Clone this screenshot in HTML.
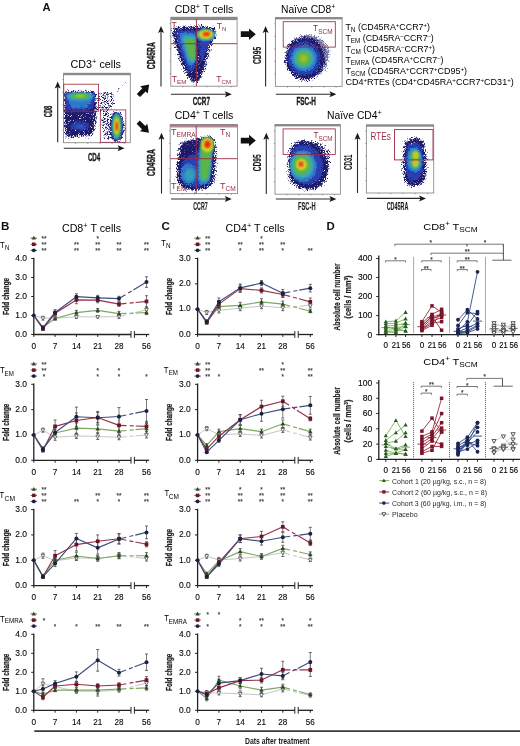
<!DOCTYPE html>
<html><head><meta charset="utf-8"><style>
html,body{margin:0;padding:0;background:#fff;}
svg{display:block;font-family:"Liberation Sans", sans-serif;will-change:transform;}
</style></head><body>
<svg width="520" height="746" viewBox="0 0 520 746">
<defs>
<filter id="b1" x="-20%" y="-20%" width="140%" height="140%"><feGaussianBlur stdDeviation="1"/></filter>
<filter id="b2" x="-30%" y="-30%" width="160%" height="160%"><feGaussianBlur stdDeviation="2"/></filter>
<filter id="b15" x="-30%" y="-30%" width="160%" height="160%"><feGaussianBlur stdDeviation="1.5"/></filter>
<filter id="b3" x="-30%" y="-30%" width="160%" height="160%"><feGaussianBlur stdDeviation="3"/></filter>
<filter id="gr0" x="-25%" y="-25%" width="150%" height="150%" color-interpolation-filters="sRGB">
  <feGaussianBlur in="SourceAlpha" stdDeviation="2.2" result="ba"/>
  <feTurbulence type="fractalNoise" baseFrequency="1.3" numOctaves="2" seed="3" result="tn"/>
  <feColorMatrix in="tn" type="matrix" values="0 0 0 0 0  0 0 0 0 0  0 0 0 0 0  1.6 0 0 0 -0.3" result="na"/>
  <feComposite in="ba" in2="na" operator="arithmetic" k1="0" k2="3.5" k3="-3.5" k4="0" result="m"/>
  <feMorphology in="SourceGraphic" operator="dilate" radius="3" result="dg"/>
  <feComposite in="dg" in2="m" operator="in"/>
</filter>
<filter id="gr1" x="-25%" y="-25%" width="150%" height="150%" color-interpolation-filters="sRGB">
  <feGaussianBlur in="SourceAlpha" stdDeviation="1.6" result="ba"/>
  <feTurbulence type="fractalNoise" baseFrequency="1.3" numOctaves="2" seed="7" result="tn"/>
  <feColorMatrix in="tn" type="matrix" values="0 0 0 0 0  0 0 0 0 0  0 0 0 0 0  1.6 0 0 0 -0.3" result="na"/>
  <feComposite in="ba" in2="na" operator="arithmetic" k1="0" k2="4" k3="-4" k4="0" result="m"/>
  <feMorphology in="SourceGraphic" operator="dilate" radius="2" result="dg"/>
  <feComposite in="dg" in2="m" operator="in"/>
</filter>
<filter id="gr2" x="-25%" y="-25%" width="150%" height="150%" color-interpolation-filters="sRGB">
  <feGaussianBlur in="SourceAlpha" stdDeviation="1.2" result="ba"/>
  <feTurbulence type="fractalNoise" baseFrequency="1.3" numOctaves="2" seed="11" result="tn"/>
  <feColorMatrix in="tn" type="matrix" values="0 0 0 0 0  0 0 0 0 0  0 0 0 0 0  1.6 0 0 0 -0.3" result="na"/>
  <feComposite in="ba" in2="na" operator="arithmetic" k1="0" k2="4.5" k3="-4.5" k4="0" result="m"/>
  <feMorphology in="SourceGraphic" operator="dilate" radius="1.5" result="dg"/>
  <feComposite in="dg" in2="m" operator="in"/>
</filter>
<filter id="gr3" x="-25%" y="-25%" width="150%" height="150%" color-interpolation-filters="sRGB">
  <feGaussianBlur in="SourceAlpha" stdDeviation="2.8" result="ba"/>
  <feTurbulence type="fractalNoise" baseFrequency="1.3" numOctaves="2" seed="19" result="tn"/>
  <feColorMatrix in="tn" type="matrix" values="0 0 0 0 0  0 0 0 0 0  0 0 0 0 0  1.6 0 0 0 -0.3" result="na"/>
  <feComposite in="ba" in2="na" operator="arithmetic" k1="0" k2="3.0" k3="-3.0" k4="0" result="m"/>
  <feMorphology in="SourceGraphic" operator="dilate" radius="4" result="dg"/>
  <feComposite in="dg" in2="m" operator="in"/>
</filter>
<filter id="gr4" x="-25%" y="-25%" width="150%" height="150%" color-interpolation-filters="sRGB">
  <feGaussianBlur in="SourceAlpha" stdDeviation="1.0" result="ba"/>
  <feTurbulence type="fractalNoise" baseFrequency="1.3" numOctaves="2" seed="23" result="tn"/>
  <feColorMatrix in="tn" type="matrix" values="0 0 0 0 0  0 0 0 0 0  0 0 0 0 0  1.6 0 0 0 -0.3" result="na"/>
  <feComposite in="ba" in2="na" operator="arithmetic" k1="0" k2="5" k3="-5" k4="0" result="m"/>
  <feMorphology in="SourceGraphic" operator="dilate" radius="1" result="dg"/>
  <feComposite in="dg" in2="m" operator="in"/>
</filter>
<filter id="gr5" x="-25%" y="-25%" width="150%" height="150%" color-interpolation-filters="sRGB">
  <feGaussianBlur in="SourceAlpha" stdDeviation="1.2" result="ba"/>
  <feTurbulence type="fractalNoise" baseFrequency="1.3" numOctaves="2" seed="29" result="tn"/>
  <feColorMatrix in="tn" type="matrix" values="0 0 0 0 0  0 0 0 0 0  0 0 0 0 0  1.6 0 0 0 -0.3" result="na"/>
  <feComposite in="ba" in2="na" operator="arithmetic" k1="0" k2="2.4" k3="-4.2" k4="0" result="m"/>
  <feMorphology in="SourceGraphic" operator="dilate" radius="2" result="dg"/>
  <feComposite in="dg" in2="m" operator="in"/>
</filter>
<filter id="gr6" x="-25%" y="-25%" width="150%" height="150%" color-interpolation-filters="sRGB">
  <feGaussianBlur in="SourceAlpha" stdDeviation="1.8" result="ba"/>
  <feTurbulence type="fractalNoise" baseFrequency="1.3" numOctaves="2" seed="31" result="tn"/>
  <feColorMatrix in="tn" type="matrix" values="0 0 0 0 0  0 0 0 0 0  0 0 0 0 0  1.6 0 0 0 -0.3" result="na"/>
  <feComposite in="ba" in2="na" operator="arithmetic" k1="0" k2="2.0" k3="-4.0" k4="0" result="m"/>
  <feMorphology in="SourceGraphic" operator="dilate" radius="2.5" result="dg"/>
  <feComposite in="dg" in2="m" operator="in"/>
</filter>
</defs>
<rect width="520" height="746" fill="#fff"/>
<text x="42.4" y="11.4" font-size="11.2" font-weight="bold" fill="#111" >A</text>
<text x="70.6" y="67.7" font-size="10.4" textLength="50.3" lengthAdjust="spacingAndGlyphs" >CD3<tspan baseline-shift="3.6" font-size="70%">+</tspan> cells</text>
<clipPath id="c3"><rect x="63.5" y="75.5" width="66.80000000000001" height="67.0"/></clipPath>
<g clip-path="url(#c3)">
<path d="M63.5,90.8 L96,90.8 C97,95 97.5,105 97,115 C96.5,125 95,132 92,136.5 L64,137.5 Z" fill="#1d1a6c" filter="url(#gr0)"/>
<path d="M97,93 C103,90 111,90.5 115,95 C117,101 114,109 107,113 L98,113 Z" fill="#1d1a6c" filter="url(#gr5)"/>
<path d="M112,94 L126,80 L128,82 L116,97 Z" fill="#1d1a6c" filter="url(#gr6)"/>
<path d="M101,112 C104,110 109,110 110,113 L110,140 L104,141 C102,133 101,120 101,112 Z" fill="#1d1a6c" filter="url(#gr5)"/>
<path d="M64,92.5 L95.5,92.5 C96,100 94,107 90,111 L66,111 C64.5,106 64,99 64,92.5 Z" fill="#2a3fb0" filter="url(#gr1)"/>
<path d="M66,93 L94,93 C93,99 90,105 86,108.5 L72,108.5 C69,105 66.5,99 66,93 Z" fill="#2f78cc" filter="url(#gr2)"/>
<ellipse cx="80" cy="96.6" rx="13.5" ry="4.2" fill="#38a8b8" filter="url(#b1)"/>
<ellipse cx="80.2" cy="96.1" rx="9.2" ry="2.7" fill="#5cb545" filter="url(#b1)"/>
<ellipse cx="80.2" cy="95.9" rx="4.5" ry="1.3" fill="#a6d21e" filter="url(#b1)" opacity="0.9"/>
<path d="M64,110.5 L96,110.5 L96,113.5 L64,113.5 Z" fill="#3d2a7c" filter="url(#b1)" opacity="0.55"/>
<ellipse cx="80" cy="126" rx="10" ry="5" fill="#2a3fb0" filter="url(#gr4)" opacity="0.9"/>
<ellipse cx="80" cy="126.5" rx="5" ry="2" fill="#3a6ad0" filter="url(#b1)" opacity="0.5"/>
<ellipse cx="116.5" cy="126.8" rx="8.2" ry="16" fill="#1d1a6c" filter="url(#gr0)"/>
<ellipse cx="116.7" cy="126.5" rx="6.4" ry="14.6" fill="#2a3fb0" filter="url(#gr1)"/>
<ellipse cx="116.7" cy="126.4" rx="4.7" ry="13.2" fill="#38a8b8" filter="url(#b1)"/>
<ellipse cx="116.7" cy="126.3" rx="3.7" ry="11" fill="#5cb545" filter="url(#b1)"/>
<ellipse cx="116.7" cy="126.3" rx="2.6" ry="8.2" fill="#e0dc28" filter="url(#b1)"/>
<ellipse cx="116.7" cy="126.3" rx="1.6" ry="5.8" fill="#f08a1c" filter="url(#b1)"/>
<ellipse cx="116.7" cy="126.3" rx="1.0" ry="4.2" fill="#d42a12" filter="url(#b1)" opacity="0.9"/>
</g>
<rect x="63.5" y="73.9" width="66.80000000000001" height="68.79999999999998" fill="none" stroke="#8c8c8c" stroke-width="0.9" />
<rect x="63.2" y="72.80000000000001" width="67.4" height="2.4" fill="#8a8a8a" stroke="none" stroke-width="1" />
<line x1="62.3" y1="130.1" x2="63.5" y2="130.1" stroke="#666" stroke-width="0.6" />
<line x1="62.3" y1="117.5" x2="63.5" y2="117.5" stroke="#666" stroke-width="0.6" />
<line x1="62.3" y1="104.9" x2="63.5" y2="104.9" stroke="#666" stroke-width="0.6" />
<line x1="62.3" y1="92.30000000000001" x2="63.5" y2="92.30000000000001" stroke="#666" stroke-width="0.6" />
<line x1="62.3" y1="79.70000000000002" x2="63.5" y2="79.70000000000002" stroke="#666" stroke-width="0.6" />
<line x1="75.64545454545456" y1="142.7" x2="75.64545454545456" y2="143.89999999999998" stroke="#666" stroke-width="0.6" />
<line x1="87.7909090909091" y1="142.7" x2="87.7909090909091" y2="143.89999999999998" stroke="#666" stroke-width="0.6" />
<line x1="99.93636363636364" y1="142.7" x2="99.93636363636364" y2="143.89999999999998" stroke="#666" stroke-width="0.6" />
<line x1="112.08181818181819" y1="142.7" x2="112.08181818181819" y2="143.89999999999998" stroke="#666" stroke-width="0.6" />
<line x1="124.22727272727275" y1="142.7" x2="124.22727272727275" y2="143.89999999999998" stroke="#666" stroke-width="0.6" />
<rect x="63.8" y="84.2" width="34.8" height="27.0" fill="none" stroke="#982c44" stroke-width="0.8" />
<rect x="100.3" y="109.9" width="25.5" height="32.4" fill="none" stroke="#982c44" stroke-width="0.8" />
<line x1="57.7" y1="142.2" x2="57.7" y2="86.5" stroke="#2a2a2a" stroke-width="1.1" />
<path d="M54.7,88.5 L57.7,81.5 L60.7,88.5 L57.7,87.0 Z" fill="#1a1a1a"/>
<line x1="63.8" y1="148.3" x2="119.6" y2="148.3" stroke="#2a2a2a" stroke-width="1.1" />
<path d="M117.6,145.3 L124.6,148.3 L117.6,151.3 L119.1,148.3 Z" fill="#1a1a1a"/>
<text transform="translate(51.9,117.3) rotate(-90)" font-size="10.4" font-weight="bold" fill="#1a1a1a" textLength="11.6" lengthAdjust="spacingAndGlyphs" stroke="#1a1a1a" stroke-width="0.35">CD8</text>
<text x="87.9" y="160.6" font-size="10.4" font-weight="bold" fill="#1a1a1a" textLength="12.4" lengthAdjust="spacingAndGlyphs" stroke="#1a1a1a" stroke-width="0.35">CD4</text>
<path d="M140.0,97.1 L145.6,91.5 L147.7,93.6 L149.2,84.6 L140.2,86.2 L142.3,88.3 L136.8,93.9 Z" fill="#111"/>
<path d="M136.6,123.8 L142.0,129.2 L140.0,131.3 L149.0,132.8 L147.3,123.8 L145.3,125.9 L139.8,120.6 Z" fill="#111"/>
<path d="M240.8,37.1 L249.0,37.1 L249.0,40.0 L255.8,34.2 L249.0,28.5 L249.0,31.3 L240.8,31.3 Z" fill="#111"/>
<path d="M240.8,143.5 L249.0,143.5 L249.0,146.3 L255.8,140.6 L249.0,134.8 L249.0,137.7 L240.8,137.7 Z" fill="#111"/>
<text x="174.7" y="12.8" font-size="10.2" textLength="58.6" lengthAdjust="spacingAndGlyphs" >CD8<tspan baseline-shift="3.6" font-size="70%">+</tspan> T cells</text>
<clipPath id="c8"><rect x="170.8" y="19.2" width="66.29999999999998" height="66.89999999999999"/></clipPath>
<g clip-path="url(#c8)">
<path d="M172,27.5 C185,25.5 205,25 214.5,27.5 C217.5,30 217,35 215.5,38 C211,44 208.5,55 206,66 C203.5,75 200,82 196.5,84 C192,83 188,79 185,73 C180,63 176,52 173.5,42 C172.5,36 171.5,31 172,27.5 Z" fill="#1d1a6c" filter="url(#gr0)"/>
<path d="M175,30 C183,29 192,29 197,30 L198,55 C197,68 193,74 189,72 C185,65 180,52 177,42 Z" fill="#2a3fb0" filter="url(#gr1)"/>
<path d="M199,31 C206,29.5 212,31 213,35 C211,42 207,50 203,62 L199,62 Z" fill="#2a3fb0" filter="url(#gr1)"/>
<path d="M179,33 C185,32 193,32 196,34 L196,60 C194,67 190,68 187,63 C184,55 181,45 179.5,38 Z" fill="#2f78cc" filter="url(#gr2)"/>
<path d="M182.5,36 C187,35 193,35 195.5,36 L195.5,60 C193,64 190,64 188,59 C186,52 184,45 182.5,40 Z" fill="#38a8b8" filter="url(#b1)"/>
<path d="M185,39 C188,38.5 193,38.5 195,40 L195,57 C193,61 191,61 189.5,57 C187.5,51 186,45 185,42 Z" fill="#5cb545" filter="url(#b1)"/>
<ellipse cx="205.5" cy="35" rx="10.5" ry="6.5" fill="#2f78cc" filter="url(#gr2)"/>
<ellipse cx="205.5" cy="34.8" rx="9" ry="5.5" fill="#38a8b8" filter="url(#b1)"/>
<ellipse cx="205.5" cy="34.6" rx="7.8" ry="4.6" fill="#5cb545" filter="url(#b1)"/>
<ellipse cx="205.8" cy="34.5" rx="6.8" ry="4.1" fill="#e0dc28" filter="url(#b1)"/>
<ellipse cx="206.2" cy="34.2" rx="4.6" ry="2.6" fill="#f08a1c" filter="url(#b1)"/>
<ellipse cx="206.5" cy="34" rx="3.0" ry="1.6" fill="#d42a12" filter="url(#b1)"/>
</g>
<rect x="170.8" y="17.9" width="66.29999999999998" height="68.30000000000001" fill="none" stroke="#8c8c8c" stroke-width="0.9" />
<rect x="170.5" y="16.799999999999997" width="66.89999999999998" height="2.4" fill="#8a8a8a" stroke="none" stroke-width="1" />
<line x1="169.60000000000002" y1="73.69090909090909" x2="170.8" y2="73.69090909090909" stroke="#666" stroke-width="0.6" />
<line x1="169.60000000000002" y1="61.18181818181818" x2="170.8" y2="61.18181818181818" stroke="#666" stroke-width="0.6" />
<line x1="169.60000000000002" y1="48.67272727272727" x2="170.8" y2="48.67272727272727" stroke="#666" stroke-width="0.6" />
<line x1="169.60000000000002" y1="36.16363636363636" x2="170.8" y2="36.16363636363636" stroke="#666" stroke-width="0.6" />
<line x1="169.60000000000002" y1="23.65454545454545" x2="170.8" y2="23.65454545454545" stroke="#666" stroke-width="0.6" />
<line x1="182.85454545454547" y1="86.2" x2="182.85454545454547" y2="87.4" stroke="#666" stroke-width="0.6" />
<line x1="194.9090909090909" y1="86.2" x2="194.9090909090909" y2="87.4" stroke="#666" stroke-width="0.6" />
<line x1="206.96363636363637" y1="86.2" x2="206.96363636363637" y2="87.4" stroke="#666" stroke-width="0.6" />
<line x1="219.0181818181818" y1="86.2" x2="219.0181818181818" y2="87.4" stroke="#666" stroke-width="0.6" />
<line x1="231.07272727272726" y1="86.2" x2="231.07272727272726" y2="87.4" stroke="#666" stroke-width="0.6" />
<line x1="171.3" y1="19.6" x2="236.6" y2="19.6" stroke="#982c44" stroke-width="0.7" />
<line x1="196.4" y1="19.2" x2="196.4" y2="86.1" stroke="#982c44" stroke-width="0.9" />
<line x1="170.8" y1="43.7" x2="237.1" y2="43.7" stroke="#982c44" stroke-width="0.9" />
<text x="171.4" y="28.4" font-size="8.6" fill="#982c44" >T</text>
<text x="216.8" y="28.6" font-size="8.6" fill="#982c44" >T<tspan font-size="6.2" baseline-shift="-1.7">N</tspan></text>
<text x="171.8" y="81.9" font-size="8.6" fill="#982c44" >T<tspan font-size="6.2" baseline-shift="-1.7">EM</tspan></text>
<text x="216.2" y="81.9" font-size="8.6" fill="#982c44" >T<tspan font-size="6.2" baseline-shift="-1.7">CM</tspan></text>
<line x1="161.0" y1="86.5" x2="161.0" y2="31.0" stroke="#2a2a2a" stroke-width="1.1" />
<path d="M158.0,33.0 L161.0,26.0 L164.0,33.0 L161.0,31.5 Z" fill="#1a1a1a"/>
<line x1="171.0" y1="94.3" x2="226.8" y2="94.3" stroke="#2a2a2a" stroke-width="1.1" />
<path d="M224.8,91.3 L231.8,94.3 L224.8,97.3 L226.3,94.3 Z" fill="#1a1a1a"/>
<text transform="translate(154.9,69.2) rotate(-90)" font-size="10.4" font-weight="bold" fill="#1a1a1a" textLength="27.0" lengthAdjust="spacingAndGlyphs" stroke="#1a1a1a" stroke-width="0.35">CD45RA</text>
<text x="192.7" y="105.1" font-size="10.4" font-weight="bold" fill="#1a1a1a" textLength="17.3" lengthAdjust="spacingAndGlyphs" stroke="#1a1a1a" stroke-width="0.35">CCR7</text>
<text x="281.0" y="12.6" font-size="10.2" textLength="54.4" lengthAdjust="spacingAndGlyphs" >Na&#239;ve CD8<tspan baseline-shift="3.6" font-size="70%">+</tspan></text>
<clipPath id="cn8"><rect x="275.4" y="19.2" width="66.70000000000005" height="67.0"/></clipPath>
<g clip-path="url(#cn8)">
<ellipse cx="308" cy="56" rx="22" ry="22" fill="#1d1a6c" filter="url(#gr3)" opacity="0.6"/>
<ellipse cx="305" cy="58.5" rx="20.5" ry="22.5" fill="#1d1a6c" filter="url(#gr0)"/>
<ellipse cx="304.3" cy="58.4" rx="16.5" ry="17.5" fill="#2a3fb0" filter="url(#gr1)"/>
<ellipse cx="304" cy="58.4" rx="13" ry="13.5" fill="#2f78cc" filter="url(#gr2)"/>
<ellipse cx="303.8" cy="58.4" rx="10.5" ry="10.5" fill="#38a8b8" filter="url(#b1)"/>
<ellipse cx="303.6" cy="58.5" rx="7.5" ry="7.5" fill="#5cb545" filter="url(#b1)"/>
<ellipse cx="303.5" cy="58.5" rx="4" ry="4" fill="#98c430" filter="url(#b15)" opacity="0.9"/>
<ellipse cx="303.5" cy="58.5" rx="1.6" ry="1.6" fill="#d0b020" filter="url(#b1)" opacity="0.6"/>
</g>
<rect x="275.4" y="18.1" width="66.70000000000005" height="68.30000000000001" fill="none" stroke="#8c8c8c" stroke-width="0.9" />
<rect x="275.09999999999997" y="17.0" width="67.30000000000004" height="2.4" fill="#8a8a8a" stroke="none" stroke-width="1" />
<line x1="274.2" y1="73.89090909090909" x2="275.4" y2="73.89090909090909" stroke="#666" stroke-width="0.6" />
<line x1="274.2" y1="61.38181818181818" x2="275.4" y2="61.38181818181818" stroke="#666" stroke-width="0.6" />
<line x1="274.2" y1="48.872727272727275" x2="275.4" y2="48.872727272727275" stroke="#666" stroke-width="0.6" />
<line x1="274.2" y1="36.36363636363636" x2="275.4" y2="36.36363636363636" stroke="#666" stroke-width="0.6" />
<line x1="274.2" y1="23.854545454545452" x2="275.4" y2="23.854545454545452" stroke="#666" stroke-width="0.6" />
<line x1="287.5272727272727" y1="86.4" x2="287.5272727272727" y2="87.60000000000001" stroke="#666" stroke-width="0.6" />
<line x1="299.6545454545454" y1="86.4" x2="299.6545454545454" y2="87.60000000000001" stroke="#666" stroke-width="0.6" />
<line x1="311.78181818181815" y1="86.4" x2="311.78181818181815" y2="87.60000000000001" stroke="#666" stroke-width="0.6" />
<line x1="323.90909090909093" y1="86.4" x2="323.90909090909093" y2="87.60000000000001" stroke="#666" stroke-width="0.6" />
<line x1="336.03636363636366" y1="86.4" x2="336.03636363636366" y2="87.60000000000001" stroke="#666" stroke-width="0.6" />
<rect x="283.2" y="21.7" width="52.1" height="25.4" fill="none" stroke="#982c44" stroke-width="0.85" />
<text x="313.1" y="31.4" font-size="9.0" fill="#982c44" textLength="5.0" lengthAdjust="spacingAndGlyphs" >T</text>
<text x="318.3" y="33.5" font-size="6.3" fill="#982c44" textLength="14.3" lengthAdjust="spacingAndGlyphs" >SCM</text>
<line x1="265.6" y1="86.5" x2="265.6" y2="31.0" stroke="#2a2a2a" stroke-width="1.1" />
<path d="M262.6,33.0 L265.6,26.0 L268.6,33.0 L265.6,31.5 Z" fill="#1a1a1a"/>
<line x1="275.8" y1="94.3" x2="331.4" y2="94.3" stroke="#2a2a2a" stroke-width="1.1" />
<path d="M329.4,91.3 L336.4,94.3 L329.4,97.3 L330.9,94.3 Z" fill="#1a1a1a"/>
<text transform="translate(261.0,64.0) rotate(-90)" font-size="10.4" font-weight="bold" fill="#1a1a1a" textLength="17.2" lengthAdjust="spacingAndGlyphs" stroke="#1a1a1a" stroke-width="0.15">CD95</text>
<text x="296.4" y="105.0" font-size="10.4" font-weight="bold" fill="#1a1a1a" textLength="19.6" lengthAdjust="spacingAndGlyphs" stroke="#1a1a1a" stroke-width="0.35">FSC-H</text>
<text x="345.4" y="29.9" font-size="8.8" textLength="84.6" lengthAdjust="spacingAndGlyphs" >T<tspan font-size="6.4" baseline-shift="-1.8">N</tspan> (CD45RA<tspan font-size="6" baseline-shift="3">+</tspan>CCR7<tspan font-size="6" baseline-shift="3">+</tspan>)</text>
<text x="345.4" y="40.9" font-size="8.8" textLength="88.4" lengthAdjust="spacingAndGlyphs" >T<tspan font-size="6.4" baseline-shift="-1.8">EM</tspan> (CD45RA<tspan font-size="6" baseline-shift="3">&#8211;</tspan>CCR7<tspan font-size="6" baseline-shift="3">&#8211;</tspan>)</text>
<text x="345.4" y="51.6" font-size="8.8" textLength="89.6" lengthAdjust="spacingAndGlyphs" >T<tspan font-size="6.4" baseline-shift="-1.8">CM</tspan> (CD45RA<tspan font-size="6" baseline-shift="3">&#8211;</tspan>CCR7<tspan font-size="6" baseline-shift="3">+</tspan>)</text>
<text x="345.4" y="62.8" font-size="8.8" textLength="98.1" lengthAdjust="spacingAndGlyphs" >T<tspan font-size="6.4" baseline-shift="-1.8">EMRA</tspan> (CD45RA<tspan font-size="6" baseline-shift="3">+</tspan>CCR7<tspan font-size="6" baseline-shift="3">&#8211;</tspan>)</text>
<text x="345.4" y="73.8" font-size="8.8" textLength="121.6" lengthAdjust="spacingAndGlyphs" >T<tspan font-size="6.4" baseline-shift="-1.8">SCM</tspan> (CD45RA<tspan font-size="6" baseline-shift="3">+</tspan>CCR7<tspan font-size="6" baseline-shift="3">+</tspan>CD95<tspan font-size="6" baseline-shift="3">+</tspan>)</text>
<text x="345.4" y="84.6" font-size="8.8" textLength="168.4" lengthAdjust="spacingAndGlyphs" >CD4<tspan font-size="6" baseline-shift="3">+</tspan>RTEs (CD4<tspan font-size="6" baseline-shift="3">+</tspan>CD45RA<tspan font-size="6" baseline-shift="3">+</tspan>CCR7<tspan font-size="6" baseline-shift="3">+</tspan>CD31<tspan font-size="6" baseline-shift="3">+</tspan>)</text>
<text x="174.7" y="119.3" font-size="10.2" textLength="58.6" lengthAdjust="spacingAndGlyphs" >CD4<tspan baseline-shift="3.6" font-size="70%">+</tspan> T cells</text>
<clipPath id="c4"><rect x="170.2" y="126.2" width="67.30000000000001" height="67.39999999999999"/></clipPath>
<g clip-path="url(#c4)">
<path d="M182,142 C190,139 199,138 203,136.5 C209,134.5 214.5,136 216,142 C217,150 216.5,163 215.5,175 C214.5,185 209,190.5 197,191 C186,191.5 178,188 176.5,180 C175.5,170 176.5,160 178,152 C179,147 180,144 182,142 Z" fill="#1d1a6c" filter="url(#gr0)"/>
<path d="M181,141 C186,139 192,139 196,140 L196,158 L180,160 Z" fill="#1d1a6c" filter="url(#gr3)" opacity="0.55"/>
<path d="M186,157 C191,154 199,152 201,146 C204,139.5 212,139.5 213.5,145 C214,153 213,166 212,176 C210.5,184 205,187.5 196,187.5 C187,187.5 181,184 180.5,176 C180,168 181,161 186,157 Z" fill="#2a3fb0" filter="url(#gr1)"/>
<ellipse cx="189" cy="174" rx="8.5" ry="11" fill="#2f78cc" filter="url(#gr2)"/>
<path d="M200,148 C202,141 212,141 212.5,148 C212.5,157 211.5,170 210,179 C208.5,186 200,187 198,181 C197,172 198,158 200,148 Z" fill="#2f78cc" filter="url(#gr2)"/>
<ellipse cx="189.5" cy="175" rx="5" ry="6.5" fill="#38a8b8" filter="url(#b1)" opacity="0.8"/>
<path d="M200.5,150 C202,144 211,144 211.5,150 C211.5,158 210.5,170 209,178 C207.5,183 201,183.5 199.5,179 C199,170 199.5,158 200.5,150 Z" fill="#38a8b8" filter="url(#b1)"/>
<path d="M201.5,151 C203,147 210,147 210.5,151 C210.5,159 209.5,170 208,177 C206.5,180.5 202,180.5 201,177 C200.5,169 200.8,159 201.5,151 Z" fill="#5cb545" filter="url(#b1)"/>
<ellipse cx="207" cy="145.5" rx="7" ry="8.5" fill="#5cb545" filter="url(#b1)"/>
<ellipse cx="207.2" cy="145" rx="5.6" ry="7" fill="#e0dc28" filter="url(#b1)"/>
<ellipse cx="207.4" cy="144.5" rx="3.8" ry="4.6" fill="#f08a1c" filter="url(#b1)"/>
<ellipse cx="207.5" cy="144.2" rx="2.6" ry="3.2" fill="#d42a12" filter="url(#b1)"/>
</g>
<rect x="170.2" y="125.1" width="67.30000000000001" height="68.5" fill="none" stroke="#8c8c8c" stroke-width="0.9" />
<rect x="169.89999999999998" y="124.0" width="67.9" height="2.4" fill="#8a8a8a" stroke="none" stroke-width="1" />
<line x1="169.0" y1="181.05454545454546" x2="170.2" y2="181.05454545454546" stroke="#666" stroke-width="0.6" />
<line x1="169.0" y1="168.5090909090909" x2="170.2" y2="168.5090909090909" stroke="#666" stroke-width="0.6" />
<line x1="169.0" y1="155.96363636363637" x2="170.2" y2="155.96363636363637" stroke="#666" stroke-width="0.6" />
<line x1="169.0" y1="143.4181818181818" x2="170.2" y2="143.4181818181818" stroke="#666" stroke-width="0.6" />
<line x1="169.0" y1="130.87272727272727" x2="170.2" y2="130.87272727272727" stroke="#666" stroke-width="0.6" />
<line x1="182.43636363636364" y1="193.6" x2="182.43636363636364" y2="194.79999999999998" stroke="#666" stroke-width="0.6" />
<line x1="194.67272727272726" y1="193.6" x2="194.67272727272726" y2="194.79999999999998" stroke="#666" stroke-width="0.6" />
<line x1="206.9090909090909" y1="193.6" x2="206.9090909090909" y2="194.79999999999998" stroke="#666" stroke-width="0.6" />
<line x1="219.14545454545453" y1="193.6" x2="219.14545454545453" y2="194.79999999999998" stroke="#666" stroke-width="0.6" />
<line x1="231.38181818181818" y1="193.6" x2="231.38181818181818" y2="194.79999999999998" stroke="#666" stroke-width="0.6" />
<line x1="196.2" y1="126.2" x2="196.2" y2="193.6" stroke="#982c44" stroke-width="0.9" />
<line x1="170.2" y1="158.7" x2="237.5" y2="158.7" stroke="#982c44" stroke-width="0.9" />
<line x1="170.7" y1="126.9" x2="237" y2="126.9" stroke="#982c44" stroke-width="0.7" />
<text x="171.0" y="134.8" font-size="9.0" fill="#982c44" >T<tspan font-size="6.6" baseline-shift="-1.7">EMRA</tspan></text>
<text x="220.0" y="134.8" font-size="9.0" fill="#982c44" >T<tspan font-size="6.6" baseline-shift="-1.7">N</tspan></text>
<text x="171.0" y="188.6" font-size="9.0" fill="#982c44" >T<tspan font-size="6.6" baseline-shift="-1.7">EM</tspan></text>
<text x="220.0" y="188.6" font-size="9.0" fill="#982c44" >T<tspan font-size="6.6" baseline-shift="-1.7">CM</tspan></text>
<line x1="161.5" y1="193.6" x2="161.5" y2="137.7" stroke="#2a2a2a" stroke-width="1.1" />
<path d="M158.5,139.7 L161.5,132.7 L164.5,139.7 L161.5,138.2 Z" fill="#1a1a1a"/>
<line x1="171.0" y1="199.0" x2="226.8" y2="199.0" stroke="#2a2a2a" stroke-width="1.1" />
<path d="M224.8,196.0 L231.8,199.0 L224.8,202.0 L226.3,199.0 Z" fill="#1a1a1a"/>
<text transform="translate(155.4,175.9) rotate(-90)" font-size="10.4" font-weight="bold" fill="#1a1a1a" textLength="26.6" lengthAdjust="spacingAndGlyphs" stroke="#1a1a1a" stroke-width="0.35">CD45RA</text>
<text x="193.3" y="209.6" font-size="10.4" font-weight="bold" fill="#1a1a1a" textLength="14.4" lengthAdjust="spacingAndGlyphs" stroke="#1a1a1a" stroke-width="0.12">CCR7</text>
<text x="327.0" y="119.4" font-size="10.2" textLength="54.8" lengthAdjust="spacingAndGlyphs" >Na&#239;ve CD4<tspan baseline-shift="3.6" font-size="70%">+</tspan></text>
<clipPath id="cn4"><rect x="275.0" y="126.2" width="65.39999999999998" height="67.8"/></clipPath>
<g clip-path="url(#cn4)">
<path d="M291,145 C295,140 305,139 313,142 C322,146 328,154 329,166 C330,178 324,188 312,190 C300,191.5 291,186 288.5,176 C286.5,166 287.5,152 291,145 Z" fill="#1d1a6c" filter="url(#gr0)"/>
<path d="M298,141 C310,138 324,141 330,150 C332,158 331,168 328,175 L320,170 L312,150 L298,146 Z" fill="#1d1a6c" filter="url(#gr5)"/>
<path d="M293,148 C297,144 305,143.5 311,146 C319,150 323,157 323.5,167 C324,177 318,184 309,185 C300,185.5 293,181 291.5,173 C290,164 290.5,153 293,148 Z" fill="#2a3fb0" filter="url(#gr1)"/>
<ellipse cx="303" cy="166" rx="14" ry="16" fill="#2f78cc" filter="url(#gr2)"/>
<ellipse cx="302.3" cy="165.5" rx="11.5" ry="13" fill="#38a8b8" filter="url(#b1)"/>
<ellipse cx="301.8" cy="165" rx="8.8" ry="10" fill="#5cb545" filter="url(#b15)"/>
<ellipse cx="301.3" cy="164.5" rx="5.2" ry="5.6" fill="#e0dc28" filter="url(#b1)"/>
<ellipse cx="301" cy="164.3" rx="3.3" ry="3.5" fill="#f08a1c" filter="url(#b1)"/>
<ellipse cx="301" cy="164.2" rx="1.8" ry="1.9" fill="#d42a12" filter="url(#b1)" opacity="0.85"/>
</g>
<rect x="275.0" y="125.1" width="65.39999999999998" height="69.1" fill="none" stroke="#8c8c8c" stroke-width="0.9" />
<rect x="274.7" y="124.0" width="65.99999999999997" height="2.4" fill="#8a8a8a" stroke="none" stroke-width="1" />
<line x1="273.8" y1="181.54545454545453" x2="275.0" y2="181.54545454545453" stroke="#666" stroke-width="0.6" />
<line x1="273.8" y1="168.89090909090908" x2="275.0" y2="168.89090909090908" stroke="#666" stroke-width="0.6" />
<line x1="273.8" y1="156.23636363636362" x2="275.0" y2="156.23636363636362" stroke="#666" stroke-width="0.6" />
<line x1="273.8" y1="143.58181818181816" x2="275.0" y2="143.58181818181816" stroke="#666" stroke-width="0.6" />
<line x1="273.8" y1="130.9272727272727" x2="275.0" y2="130.9272727272727" stroke="#666" stroke-width="0.6" />
<line x1="286.8909090909091" y1="194.2" x2="286.8909090909091" y2="195.39999999999998" stroke="#666" stroke-width="0.6" />
<line x1="298.78181818181815" y1="194.2" x2="298.78181818181815" y2="195.39999999999998" stroke="#666" stroke-width="0.6" />
<line x1="310.67272727272723" y1="194.2" x2="310.67272727272723" y2="195.39999999999998" stroke="#666" stroke-width="0.6" />
<line x1="322.56363636363636" y1="194.2" x2="322.56363636363636" y2="195.39999999999998" stroke="#666" stroke-width="0.6" />
<line x1="334.45454545454544" y1="194.2" x2="334.45454545454544" y2="195.39999999999998" stroke="#666" stroke-width="0.6" />
<rect x="283.1" y="128.9" width="52.2" height="25.5" fill="none" stroke="#982c44" stroke-width="0.85" />
<text x="313.4" y="138.1" font-size="9.0" fill="#982c44" textLength="5.0" lengthAdjust="spacingAndGlyphs" >T</text>
<text x="318.5" y="140.5" font-size="6.3" fill="#982c44" textLength="14.1" lengthAdjust="spacingAndGlyphs" >SCM</text>
<line x1="266.3" y1="194.0" x2="266.3" y2="137.7" stroke="#2a2a2a" stroke-width="1.1" />
<path d="M263.3,139.7 L266.3,132.7 L269.3,139.7 L266.3,138.2 Z" fill="#1a1a1a"/>
<line x1="275.8" y1="199.0" x2="331.4" y2="199.0" stroke="#2a2a2a" stroke-width="1.1" />
<path d="M329.4,196.0 L336.4,199.0 L329.4,202.0 L330.9,199.0 Z" fill="#1a1a1a"/>
<text transform="translate(260.8,171.3) rotate(-90)" font-size="10.4" font-weight="bold" fill="#1a1a1a" textLength="17.0" lengthAdjust="spacingAndGlyphs" stroke="#1a1a1a" stroke-width="0.15">CD95</text>
<clipPath id="crt"><rect x="366.4" y="126.8" width="67.30000000000001" height="66.2"/></clipPath>
<g clip-path="url(#crt)">
<path d="M405,141 C409,136 420,136 424,141 C427,150 427.5,165 426,177 C424.5,185 418,188 411,187 C405,186 403,180 402.5,170 C402,160 402.5,148 405,141 Z" fill="#1d1a6c" filter="url(#gr0)"/>
<path d="M407,145 C410,141 419,141 421.5,145 C424,152 424,165 422.5,174 C421,180 416,182 411,181 C407,180 405.5,175 405.3,168 C405,160 405.5,150 407,145 Z" fill="#2a3fb0" filter="url(#gr1)"/>
<ellipse cx="414.5" cy="160" rx="8" ry="13" fill="#2f78cc" filter="url(#gr2)"/>
<ellipse cx="414.8" cy="159.5" rx="6" ry="10.5" fill="#38a8b8" filter="url(#b1)"/>
<ellipse cx="415.3" cy="159" rx="4.3" ry="8.3" fill="#5cb545" filter="url(#b1)"/>
<ellipse cx="415.7" cy="155.2" rx="2.6" ry="3.4" fill="#e0dc28" filter="url(#b1)"/>
<ellipse cx="415.5" cy="163.3" rx="2.6" ry="3.4" fill="#e0dc28" filter="url(#b1)"/>
<ellipse cx="415.7" cy="155.2" rx="1.2" ry="1.6" fill="#f08a1c" filter="url(#b1)"/>
<ellipse cx="415.5" cy="163.3" rx="1.3" ry="1.6" fill="#f08a1c" filter="url(#b1)"/>
</g>
<rect x="366.4" y="125.4" width="67.30000000000001" height="67.6" fill="none" stroke="#8c8c8c" stroke-width="0.9" />
<rect x="366.09999999999997" y="124.30000000000001" width="67.9" height="2.4" fill="#8a8a8a" stroke="none" stroke-width="1" />
<line x1="365.2" y1="180.61818181818182" x2="366.4" y2="180.61818181818182" stroke="#666" stroke-width="0.6" />
<line x1="365.2" y1="168.23636363636365" x2="366.4" y2="168.23636363636365" stroke="#666" stroke-width="0.6" />
<line x1="365.2" y1="155.85454545454547" x2="366.4" y2="155.85454545454547" stroke="#666" stroke-width="0.6" />
<line x1="365.2" y1="143.47272727272727" x2="366.4" y2="143.47272727272727" stroke="#666" stroke-width="0.6" />
<line x1="365.2" y1="131.0909090909091" x2="366.4" y2="131.0909090909091" stroke="#666" stroke-width="0.6" />
<line x1="378.6363636363636" y1="193.0" x2="378.6363636363636" y2="194.2" stroke="#666" stroke-width="0.6" />
<line x1="390.8727272727273" y1="193.0" x2="390.8727272727273" y2="194.2" stroke="#666" stroke-width="0.6" />
<line x1="403.1090909090909" y1="193.0" x2="403.1090909090909" y2="194.2" stroke="#666" stroke-width="0.6" />
<line x1="415.3454545454545" y1="193.0" x2="415.3454545454545" y2="194.2" stroke="#666" stroke-width="0.6" />
<line x1="427.58181818181816" y1="193.0" x2="427.58181818181816" y2="194.2" stroke="#666" stroke-width="0.6" />
<rect x="394.5" y="129.6" width="38.5" height="30.3" fill="none" stroke="#982c44" stroke-width="0.9" />
<text x="370.6" y="140.3" font-size="10.0" fill="#982c44" textLength="20.1" lengthAdjust="spacingAndGlyphs" >RTEs</text>
<line x1="357.5" y1="193.0" x2="357.5" y2="137.8" stroke="#2a2a2a" stroke-width="1.1" />
<path d="M354.5,139.8 L357.5,132.8 L360.5,139.8 L357.5,138.3 Z" fill="#1a1a1a"/>
<line x1="367.0" y1="198.4" x2="421.0" y2="198.4" stroke="#2a2a2a" stroke-width="1.1" />
<path d="M419.0,195.4 L426.0,198.4 L419.0,201.4 L420.5,198.4 Z" fill="#1a1a1a"/>
<text transform="translate(352.3,170.0) rotate(-90)" font-size="10.4" font-weight="bold" fill="#1a1a1a" textLength="15.5" lengthAdjust="spacingAndGlyphs" stroke="#1a1a1a" stroke-width="0.1">CD31</text>
<text x="386.7" y="210.0" font-size="10.4" font-weight="bold" fill="#1a1a1a" textLength="21.6" lengthAdjust="spacingAndGlyphs" stroke="#1a1a1a" stroke-width="0.12">CD45RA</text>
<text x="298.0" y="209.9" font-size="10.4" font-weight="bold" fill="#1a1a1a" textLength="17.6" lengthAdjust="spacingAndGlyphs" stroke="#1a1a1a" stroke-width="0.12">FSC-H</text>
<text x="0.9" y="229.6" font-size="11.6" font-weight="bold" fill="#111" >B</text>
<line x1="33.8" y1="334.5" x2="33.8" y2="257.7" stroke="#222" stroke-width="1.3" />
<line x1="31.199999999999996" y1="334.5" x2="33.8" y2="334.5" stroke="#222" stroke-width="1.0" />
<text x="26.999999999999996" y="336.8" font-size="8.6" text-anchor="end" textLength="11.8" lengthAdjust="spacingAndGlyphs" stroke="#222" stroke-width="0.12">0.0</text>
<line x1="31.199999999999996" y1="315.5" x2="33.8" y2="315.5" stroke="#222" stroke-width="1.0" />
<text x="26.999999999999996" y="317.8" font-size="8.6" text-anchor="end" textLength="11.8" lengthAdjust="spacingAndGlyphs" stroke="#222" stroke-width="0.12">1.0</text>
<line x1="31.199999999999996" y1="296.5" x2="33.8" y2="296.5" stroke="#222" stroke-width="1.0" />
<text x="26.999999999999996" y="298.8" font-size="8.6" text-anchor="end" textLength="11.8" lengthAdjust="spacingAndGlyphs" stroke="#222" stroke-width="0.12">2.0</text>
<line x1="31.199999999999996" y1="277.5" x2="33.8" y2="277.5" stroke="#222" stroke-width="1.0" />
<text x="26.999999999999996" y="279.8" font-size="8.6" text-anchor="end" textLength="11.8" lengthAdjust="spacingAndGlyphs" stroke="#222" stroke-width="0.12">3.0</text>
<line x1="31.199999999999996" y1="258.5" x2="33.8" y2="258.5" stroke="#222" stroke-width="1.0" />
<text x="26.999999999999996" y="260.8" font-size="8.6" text-anchor="end" textLength="11.8" lengthAdjust="spacingAndGlyphs" stroke="#222" stroke-width="0.12">4.0</text>
<line x1="33.199999999999996" y1="334.5" x2="131.0" y2="334.5" stroke="#222" stroke-width="1.3" />
<line x1="134.39999999999998" y1="334.5" x2="149.2" y2="334.5" stroke="#222" stroke-width="1.3" />
<line x1="131.0" y1="331.1" x2="131.0" y2="337.9" stroke="#222" stroke-width="1.0" />
<line x1="134.39999999999998" y1="331.1" x2="134.39999999999998" y2="337.9" stroke="#222" stroke-width="1.0" />
<line x1="33.8" y1="334.5" x2="33.8" y2="336.9" stroke="#222" stroke-width="1.0" />
<text x="33.8" y="348.9" font-size="8.6" text-anchor="middle" textLength="4.6" lengthAdjust="spacingAndGlyphs" stroke="#222" stroke-width="0.12">0</text>
<line x1="55.101" y1="334.5" x2="55.101" y2="336.9" stroke="#222" stroke-width="1.0" />
<text x="55.101" y="348.9" font-size="8.6" text-anchor="middle" textLength="4.6" lengthAdjust="spacingAndGlyphs" stroke="#222" stroke-width="0.12">7</text>
<line x1="76.402" y1="334.5" x2="76.402" y2="336.9" stroke="#222" stroke-width="1.0" />
<text x="76.402" y="348.9" font-size="8.6" text-anchor="middle" textLength="9.0" lengthAdjust="spacingAndGlyphs" stroke="#222" stroke-width="0.12">14</text>
<line x1="97.703" y1="334.5" x2="97.703" y2="336.9" stroke="#222" stroke-width="1.0" />
<text x="97.703" y="348.9" font-size="8.6" text-anchor="middle" textLength="9.0" lengthAdjust="spacingAndGlyphs" stroke="#222" stroke-width="0.12">21</text>
<line x1="119.004" y1="334.5" x2="119.004" y2="336.9" stroke="#222" stroke-width="1.0" />
<text x="119.004" y="348.9" font-size="8.6" text-anchor="middle" textLength="9.0" lengthAdjust="spacingAndGlyphs" stroke="#222" stroke-width="0.12">28</text>
<line x1="146.5" y1="334.5" x2="146.5" y2="336.9" stroke="#222" stroke-width="1.0" />
<text x="146.5" y="348.9" font-size="8.6" text-anchor="middle" textLength="9.0" lengthAdjust="spacingAndGlyphs" stroke="#222" stroke-width="0.12">56</text>
<text transform="translate(8.599999999999998,296.5) rotate(-90)" font-size="9.8" font-weight="bold" fill="#1a1a1a" textLength="37.2" lengthAdjust="spacingAndGlyphs" text-anchor="middle" stroke="#1a1a1a" stroke-width="0.25">Fold change</text>
<path d="M33.80,315.50 L42.93,318.16 L55.10,318.16 L76.40,316.83 L97.70,316.83 L119.00,316.64" fill="none" stroke="#c6c6c6" stroke-width="1.0" stroke-linejoin="round"/>
<path d="M119.00,316.64 L146.50,309.80" fill="none" stroke="#c6c6c6" stroke-width="1.0" stroke-dasharray="7.5 3.2 4 2 60"/>
<path d="M33.80,315.50 L42.93,327.28 L55.10,318.54 L76.40,312.65 L97.70,310.37 L119.00,313.60" fill="none" stroke="#7fa85f" stroke-width="1.15" stroke-linejoin="round"/>
<path d="M119.00,313.60 L146.50,312.65" fill="none" stroke="#7fa85f" stroke-width="1.15" stroke-dasharray="7.5 3.2 4 2 60"/>
<path d="M33.80,315.50 L42.93,328.99 L55.10,313.22 L76.40,299.92 L97.70,300.11 L119.00,304.10" fill="none" stroke="#963048" stroke-width="1.15" stroke-linejoin="round"/>
<path d="M119.00,304.10 L146.50,301.44" fill="none" stroke="#963048" stroke-width="1.15" stroke-dasharray="7.5 3.2 4 2 60"/>
<path d="M33.80,315.50 L42.93,327.66 L55.10,312.46 L76.40,296.69 L97.70,297.83 L119.00,298.59" fill="none" stroke="#3c4d7c" stroke-width="1.15" stroke-linejoin="round"/>
<path d="M119.00,298.59 L146.50,282.06" fill="none" stroke="#3c4d7c" stroke-width="1.15" stroke-dasharray="7.5 3.2 4 2 60"/>
<line x1="42.929" y1="316.26" x2="42.929" y2="320.06" stroke="#444" stroke-width="0.7" />
<line x1="41.429" y1="316.26" x2="44.429" y2="316.26" stroke="#444" stroke-width="0.8" />
<line x1="41.429" y1="320.06" x2="44.429" y2="320.06" stroke="#444" stroke-width="0.8" />
<line x1="55.101" y1="316.64" x2="55.101" y2="319.68" stroke="#444" stroke-width="0.7" />
<line x1="53.601" y1="316.64" x2="56.601" y2="316.64" stroke="#444" stroke-width="0.8" />
<line x1="53.601" y1="319.68" x2="56.601" y2="319.68" stroke="#444" stroke-width="0.8" />
<line x1="76.402" y1="315.31" x2="76.402" y2="318.35" stroke="#444" stroke-width="0.7" />
<line x1="74.902" y1="315.31" x2="77.902" y2="315.31" stroke="#444" stroke-width="0.8" />
<line x1="74.902" y1="318.35" x2="77.902" y2="318.35" stroke="#444" stroke-width="0.8" />
<line x1="97.703" y1="315.69" x2="97.703" y2="317.97" stroke="#444" stroke-width="0.7" />
<line x1="96.203" y1="315.69" x2="99.203" y2="315.69" stroke="#444" stroke-width="0.8" />
<line x1="96.203" y1="317.97" x2="99.203" y2="317.97" stroke="#444" stroke-width="0.8" />
<line x1="119.004" y1="314.74" x2="119.004" y2="318.54" stroke="#444" stroke-width="0.7" />
<line x1="117.504" y1="314.74" x2="120.504" y2="314.74" stroke="#444" stroke-width="0.8" />
<line x1="117.504" y1="318.54" x2="120.504" y2="318.54" stroke="#444" stroke-width="0.8" />
<line x1="146.5" y1="306.95" x2="146.5" y2="312.65" stroke="#444" stroke-width="0.7" />
<line x1="145.0" y1="306.95" x2="148.0" y2="306.95" stroke="#444" stroke-width="0.8" />
<line x1="145.0" y1="312.65" x2="148.0" y2="312.65" stroke="#444" stroke-width="0.8" />
<line x1="42.929" y1="326.14" x2="42.929" y2="328.42" stroke="#444" stroke-width="0.7" />
<line x1="41.429" y1="326.14" x2="44.429" y2="326.14" stroke="#444" stroke-width="0.8" />
<line x1="41.429" y1="328.42" x2="44.429" y2="328.42" stroke="#444" stroke-width="0.8" />
<line x1="55.101" y1="317.02" x2="55.101" y2="320.06" stroke="#444" stroke-width="0.7" />
<line x1="53.601" y1="317.02" x2="56.601" y2="317.02" stroke="#444" stroke-width="0.8" />
<line x1="53.601" y1="320.06" x2="56.601" y2="320.06" stroke="#444" stroke-width="0.8" />
<line x1="76.402" y1="310.37" x2="76.402" y2="314.93" stroke="#444" stroke-width="0.7" />
<line x1="74.902" y1="310.37" x2="77.902" y2="310.37" stroke="#444" stroke-width="0.8" />
<line x1="74.902" y1="314.93" x2="77.902" y2="314.93" stroke="#444" stroke-width="0.8" />
<line x1="97.703" y1="308.47" x2="97.703" y2="312.27" stroke="#444" stroke-width="0.7" />
<line x1="96.203" y1="308.47" x2="99.203" y2="308.47" stroke="#444" stroke-width="0.8" />
<line x1="96.203" y1="312.27" x2="99.203" y2="312.27" stroke="#444" stroke-width="0.8" />
<line x1="119.004" y1="311.32" x2="119.004" y2="315.88" stroke="#444" stroke-width="0.7" />
<line x1="117.504" y1="311.32" x2="120.504" y2="311.32" stroke="#444" stroke-width="0.8" />
<line x1="117.504" y1="315.88" x2="120.504" y2="315.88" stroke="#444" stroke-width="0.8" />
<line x1="146.5" y1="310.75" x2="146.5" y2="314.55" stroke="#444" stroke-width="0.7" />
<line x1="145.0" y1="310.75" x2="148.0" y2="310.75" stroke="#444" stroke-width="0.8" />
<line x1="145.0" y1="314.55" x2="148.0" y2="314.55" stroke="#444" stroke-width="0.8" />
<line x1="42.929" y1="327.85" x2="42.929" y2="330.13" stroke="#444" stroke-width="0.7" />
<line x1="41.429" y1="327.85" x2="44.429" y2="327.85" stroke="#444" stroke-width="0.8" />
<line x1="41.429" y1="330.13" x2="44.429" y2="330.13" stroke="#444" stroke-width="0.8" />
<line x1="55.101" y1="311.32" x2="55.101" y2="315.12" stroke="#444" stroke-width="0.7" />
<line x1="53.601" y1="311.32" x2="56.601" y2="311.32" stroke="#444" stroke-width="0.8" />
<line x1="53.601" y1="315.12" x2="56.601" y2="315.12" stroke="#444" stroke-width="0.8" />
<line x1="76.402" y1="296.12" x2="76.402" y2="303.72" stroke="#444" stroke-width="0.7" />
<line x1="74.902" y1="296.12" x2="77.902" y2="296.12" stroke="#444" stroke-width="0.8" />
<line x1="74.902" y1="303.72" x2="77.902" y2="303.72" stroke="#444" stroke-width="0.8" />
<line x1="97.703" y1="297.45" x2="97.703" y2="302.77" stroke="#444" stroke-width="0.7" />
<line x1="96.203" y1="297.45" x2="99.203" y2="297.45" stroke="#444" stroke-width="0.8" />
<line x1="96.203" y1="302.77" x2="99.203" y2="302.77" stroke="#444" stroke-width="0.8" />
<line x1="119.004" y1="301.82" x2="119.004" y2="306.38" stroke="#444" stroke-width="0.7" />
<line x1="117.504" y1="301.82" x2="120.504" y2="301.82" stroke="#444" stroke-width="0.8" />
<line x1="117.504" y1="306.38" x2="120.504" y2="306.38" stroke="#444" stroke-width="0.8" />
<line x1="146.5" y1="295.74" x2="146.5" y2="307.14" stroke="#444" stroke-width="0.7" />
<line x1="145.0" y1="295.74" x2="148.0" y2="295.74" stroke="#444" stroke-width="0.8" />
<line x1="145.0" y1="307.14" x2="148.0" y2="307.14" stroke="#444" stroke-width="0.8" />
<line x1="42.929" y1="326.14" x2="42.929" y2="329.18" stroke="#444" stroke-width="0.7" />
<line x1="41.429" y1="326.14" x2="44.429" y2="326.14" stroke="#444" stroke-width="0.8" />
<line x1="41.429" y1="329.18" x2="44.429" y2="329.18" stroke="#444" stroke-width="0.8" />
<line x1="55.101" y1="309.61" x2="55.101" y2="315.31" stroke="#444" stroke-width="0.7" />
<line x1="53.601" y1="309.61" x2="56.601" y2="309.61" stroke="#444" stroke-width="0.8" />
<line x1="53.601" y1="315.31" x2="56.601" y2="315.31" stroke="#444" stroke-width="0.8" />
<line x1="76.402" y1="293.84" x2="76.402" y2="299.54" stroke="#444" stroke-width="0.7" />
<line x1="74.902" y1="293.84" x2="77.902" y2="293.84" stroke="#444" stroke-width="0.8" />
<line x1="74.902" y1="299.54" x2="77.902" y2="299.54" stroke="#444" stroke-width="0.8" />
<line x1="97.703" y1="295.36" x2="97.703" y2="300.3" stroke="#444" stroke-width="0.7" />
<line x1="96.203" y1="295.36" x2="99.203" y2="295.36" stroke="#444" stroke-width="0.8" />
<line x1="96.203" y1="300.3" x2="99.203" y2="300.3" stroke="#444" stroke-width="0.8" />
<line x1="119.004" y1="296.31" x2="119.004" y2="300.87" stroke="#444" stroke-width="0.7" />
<line x1="117.504" y1="296.31" x2="120.504" y2="296.31" stroke="#444" stroke-width="0.8" />
<line x1="117.504" y1="300.87" x2="120.504" y2="300.87" stroke="#444" stroke-width="0.8" />
<line x1="146.5" y1="276.74" x2="146.5" y2="287.38" stroke="#444" stroke-width="0.7" />
<line x1="145.0" y1="276.74" x2="148.0" y2="276.74" stroke="#444" stroke-width="0.8" />
<line x1="145.0" y1="287.38" x2="148.0" y2="287.38" stroke="#444" stroke-width="0.8" />
<path d="M41.06,316.80 L44.80,316.80 L42.93,320.20 Z" fill="#fff" stroke="#555555" stroke-width="0.8"/>
<path d="M53.23,316.80 L56.97,316.80 L55.10,320.20 Z" fill="#fff" stroke="#555555" stroke-width="0.8"/>
<path d="M74.53,315.47 L78.27,315.47 L76.40,318.87 Z" fill="#fff" stroke="#555555" stroke-width="0.8"/>
<path d="M95.83,315.47 L99.57,315.47 L97.70,318.87 Z" fill="#fff" stroke="#555555" stroke-width="0.8"/>
<path d="M117.13,315.28 L120.87,315.28 L119.00,318.68 Z" fill="#fff" stroke="#555555" stroke-width="0.8"/>
<path d="M144.63,308.44 L148.37,308.44 L146.50,311.84 Z" fill="#fff" stroke="#555555" stroke-width="0.8"/>
<path d="M42.93,324.88 L45.13,328.88 L40.73,328.88 Z" fill="#2e4a22"/>
<path d="M55.10,316.14 L57.30,320.14 L52.90,320.14 Z" fill="#2e4a22"/>
<path d="M76.40,310.25 L78.60,314.25 L74.20,314.25 Z" fill="#2e4a22"/>
<path d="M97.70,307.97 L99.90,311.97 L95.50,311.97 Z" fill="#2e4a22"/>
<path d="M119.00,311.20 L121.20,315.20 L116.80,315.20 Z" fill="#2e4a22"/>
<path d="M146.50,310.25 L148.70,314.25 L144.30,314.25 Z" fill="#2e4a22"/>
<rect x="41.08" y="327.14" width="3.70" height="3.70" fill="#6a1427"/>
<rect x="53.25" y="311.37" width="3.70" height="3.70" fill="#6a1427"/>
<rect x="74.55" y="298.07" width="3.70" height="3.70" fill="#6a1427"/>
<rect x="95.85" y="298.26" width="3.70" height="3.70" fill="#6a1427"/>
<rect x="117.15" y="302.25" width="3.70" height="3.70" fill="#6a1427"/>
<rect x="144.65" y="299.59" width="3.70" height="3.70" fill="#6a1427"/>
<circle cx="33.80" cy="315.50" r="2.00" fill="#1b2141"/>
<circle cx="42.93" cy="327.66" r="2.00" fill="#1b2141"/>
<circle cx="55.10" cy="312.46" r="2.00" fill="#1b2141"/>
<circle cx="76.40" cy="296.69" r="2.00" fill="#1b2141"/>
<circle cx="97.70" cy="297.83" r="2.00" fill="#1b2141"/>
<circle cx="119.00" cy="298.59" r="2.00" fill="#1b2141"/>
<circle cx="146.50" cy="282.06" r="2.00" fill="#1b2141"/>
<text x="0" y="247.8" font-size="8.6" textLength="4.7" lengthAdjust="spacingAndGlyphs" >T</text>
<text x="4.9" y="250.4" font-size="6.3" textLength="4.3" lengthAdjust="spacingAndGlyphs" >N</text>
<line x1="30.599999999999998" y1="238.1" x2="37.0" y2="238.1" stroke="#2e4a22" stroke-width="0.8" />
<path d="M33.80,235.82 L35.89,239.62 L31.71,239.62 Z" fill="#2e4a22"/>
<line x1="30.599999999999998" y1="244.3" x2="37.0" y2="244.3" stroke="#6a1427" stroke-width="0.8" />
<rect x="32.04" y="242.54" width="3.52" height="3.52" fill="#6a1427"/>
<line x1="30.599999999999998" y1="250.3" x2="37.0" y2="250.3" stroke="#1b2141" stroke-width="0.8" />
<circle cx="33.80" cy="250.30" r="1.90" fill="#1b2141"/>
<text x="44.0" y="240.9" font-size="6.3" fill="#333" text-anchor="middle" stroke="#333" stroke-width="0.1">**</text>
<text x="44.0" y="247.10000000000002" font-size="6.3" fill="#333" text-anchor="middle" stroke="#333" stroke-width="0.1">**</text>
<text x="44.0" y="253.10000000000002" font-size="6.3" fill="#333" text-anchor="middle" stroke="#333" stroke-width="0.1">**</text>
<text x="76.402" y="247.10000000000002" font-size="6.3" fill="#333" text-anchor="middle" stroke="#333" stroke-width="0.1">**</text>
<text x="76.402" y="253.10000000000002" font-size="6.3" fill="#333" text-anchor="middle" stroke="#333" stroke-width="0.1">**</text>
<text x="97.703" y="240.9" font-size="6.3" fill="#333" text-anchor="middle" stroke="#333" stroke-width="0.1">*</text>
<text x="97.703" y="247.10000000000002" font-size="6.3" fill="#333" text-anchor="middle" stroke="#333" stroke-width="0.1">**</text>
<text x="97.703" y="253.10000000000002" font-size="6.3" fill="#333" text-anchor="middle" stroke="#333" stroke-width="0.1">**</text>
<text x="119.004" y="247.10000000000002" font-size="6.3" fill="#333" text-anchor="middle" stroke="#333" stroke-width="0.1">**</text>
<text x="119.004" y="253.10000000000002" font-size="6.3" fill="#333" text-anchor="middle" stroke="#333" stroke-width="0.1">**</text>
<text x="146.5" y="247.10000000000002" font-size="6.3" fill="#333" text-anchor="middle" stroke="#333" stroke-width="0.1">**</text>
<text x="146.5" y="253.10000000000002" font-size="6.3" fill="#333" text-anchor="middle" stroke="#333" stroke-width="0.1">**</text>
<text x="62.0" y="231.65" font-size="10.4" textLength="59.0" lengthAdjust="spacingAndGlyphs" >CD8<tspan baseline-shift="3.6" font-size="70%">+</tspan> T cells</text>
<line x1="33.8" y1="460.3" x2="33.8" y2="383.5" stroke="#222" stroke-width="1.3" />
<line x1="31.199999999999996" y1="460.3" x2="33.8" y2="460.3" stroke="#222" stroke-width="1.0" />
<text x="26.999999999999996" y="462.6" font-size="8.6" text-anchor="end" textLength="11.8" lengthAdjust="spacingAndGlyphs" stroke="#222" stroke-width="0.12">0.0</text>
<line x1="31.199999999999996" y1="434.9666666666667" x2="33.8" y2="434.9666666666667" stroke="#222" stroke-width="1.0" />
<text x="26.999999999999996" y="437.2666666666667" font-size="8.6" text-anchor="end" textLength="11.8" lengthAdjust="spacingAndGlyphs" stroke="#222" stroke-width="0.12">1.0</text>
<line x1="31.199999999999996" y1="409.6333333333333" x2="33.8" y2="409.6333333333333" stroke="#222" stroke-width="1.0" />
<text x="26.999999999999996" y="411.93333333333334" font-size="8.6" text-anchor="end" textLength="11.8" lengthAdjust="spacingAndGlyphs" stroke="#222" stroke-width="0.12">2.0</text>
<line x1="31.199999999999996" y1="384.3" x2="33.8" y2="384.3" stroke="#222" stroke-width="1.0" />
<text x="26.999999999999996" y="386.6" font-size="8.6" text-anchor="end" textLength="11.8" lengthAdjust="spacingAndGlyphs" stroke="#222" stroke-width="0.12">3.0</text>
<line x1="33.199999999999996" y1="460.3" x2="131.0" y2="460.3" stroke="#222" stroke-width="1.3" />
<line x1="134.39999999999998" y1="460.3" x2="149.2" y2="460.3" stroke="#222" stroke-width="1.3" />
<line x1="131.0" y1="456.90000000000003" x2="131.0" y2="463.7" stroke="#222" stroke-width="1.0" />
<line x1="134.39999999999998" y1="456.90000000000003" x2="134.39999999999998" y2="463.7" stroke="#222" stroke-width="1.0" />
<line x1="33.8" y1="460.3" x2="33.8" y2="462.7" stroke="#222" stroke-width="1.0" />
<text x="33.8" y="474.7" font-size="8.6" text-anchor="middle" textLength="4.6" lengthAdjust="spacingAndGlyphs" stroke="#222" stroke-width="0.12">0</text>
<line x1="55.101" y1="460.3" x2="55.101" y2="462.7" stroke="#222" stroke-width="1.0" />
<text x="55.101" y="474.7" font-size="8.6" text-anchor="middle" textLength="4.6" lengthAdjust="spacingAndGlyphs" stroke="#222" stroke-width="0.12">7</text>
<line x1="76.402" y1="460.3" x2="76.402" y2="462.7" stroke="#222" stroke-width="1.0" />
<text x="76.402" y="474.7" font-size="8.6" text-anchor="middle" textLength="9.0" lengthAdjust="spacingAndGlyphs" stroke="#222" stroke-width="0.12">14</text>
<line x1="97.703" y1="460.3" x2="97.703" y2="462.7" stroke="#222" stroke-width="1.0" />
<text x="97.703" y="474.7" font-size="8.6" text-anchor="middle" textLength="9.0" lengthAdjust="spacingAndGlyphs" stroke="#222" stroke-width="0.12">21</text>
<line x1="119.004" y1="460.3" x2="119.004" y2="462.7" stroke="#222" stroke-width="1.0" />
<text x="119.004" y="474.7" font-size="8.6" text-anchor="middle" textLength="9.0" lengthAdjust="spacingAndGlyphs" stroke="#222" stroke-width="0.12">28</text>
<line x1="146.5" y1="460.3" x2="146.5" y2="462.7" stroke="#222" stroke-width="1.0" />
<text x="146.5" y="474.7" font-size="8.6" text-anchor="middle" textLength="9.0" lengthAdjust="spacingAndGlyphs" stroke="#222" stroke-width="0.12">56</text>
<text transform="translate(8.599999999999998,422.3) rotate(-90)" font-size="9.8" font-weight="bold" fill="#1a1a1a" textLength="37.2" lengthAdjust="spacingAndGlyphs" text-anchor="middle" stroke="#1a1a1a" stroke-width="0.25">Fold change</text>
<path d="M33.80,434.97 L42.93,430.15 L55.10,437.25 L76.40,435.98 L97.70,436.49 L119.00,437.25" fill="none" stroke="#c6c6c6" stroke-width="1.0" stroke-linejoin="round"/>
<path d="M119.00,437.25 L146.50,434.97" fill="none" stroke="#c6c6c6" stroke-width="1.0" stroke-dasharray="7.5 3.2 4 2 60"/>
<path d="M33.80,434.97 L42.93,448.65 L55.10,432.94 L76.40,428.13 L97.70,428.89 L119.00,431.17" fill="none" stroke="#7fa85f" stroke-width="1.15" stroke-linejoin="round"/>
<path d="M119.00,431.17 L146.50,428.63" fill="none" stroke="#7fa85f" stroke-width="1.15" stroke-dasharray="7.5 3.2 4 2 60"/>
<path d="M33.80,434.97 L42.93,450.17 L55.10,426.35 L76.40,420.53 L97.70,417.49 L119.00,425.34" fill="none" stroke="#963048" stroke-width="1.15" stroke-linejoin="round"/>
<path d="M119.00,425.34 L146.50,426.35" fill="none" stroke="#963048" stroke-width="1.15" stroke-dasharray="7.5 3.2 4 2 60"/>
<path d="M33.80,434.97 L42.93,449.15 L55.10,432.43 L76.40,416.73 L97.70,417.74 L119.00,416.47" fill="none" stroke="#3c4d7c" stroke-width="1.15" stroke-linejoin="round"/>
<path d="M119.00,416.47 L146.50,410.90" fill="none" stroke="#3c4d7c" stroke-width="1.15" stroke-dasharray="7.5 3.2 4 2 60"/>
<line x1="42.929" y1="428.12666666666667" x2="42.929" y2="432.18" stroke="#444" stroke-width="0.7" />
<line x1="41.429" y1="428.12666666666667" x2="44.429" y2="428.12666666666667" stroke="#444" stroke-width="0.8" />
<line x1="41.429" y1="432.18" x2="44.429" y2="432.18" stroke="#444" stroke-width="0.8" />
<line x1="55.101" y1="434.2066666666667" x2="55.101" y2="440.2866666666667" stroke="#444" stroke-width="0.7" />
<line x1="53.601" y1="434.2066666666667" x2="56.601" y2="434.2066666666667" stroke="#444" stroke-width="0.8" />
<line x1="53.601" y1="440.2866666666667" x2="56.601" y2="440.2866666666667" stroke="#444" stroke-width="0.8" />
<line x1="76.402" y1="433.44666666666666" x2="76.402" y2="438.5133333333333" stroke="#444" stroke-width="0.7" />
<line x1="74.902" y1="433.44666666666666" x2="77.902" y2="433.44666666666666" stroke="#444" stroke-width="0.8" />
<line x1="74.902" y1="438.5133333333333" x2="77.902" y2="438.5133333333333" stroke="#444" stroke-width="0.8" />
<line x1="97.703" y1="433.44666666666666" x2="97.703" y2="439.5266666666667" stroke="#444" stroke-width="0.7" />
<line x1="96.203" y1="433.44666666666666" x2="99.203" y2="433.44666666666666" stroke="#444" stroke-width="0.8" />
<line x1="96.203" y1="439.5266666666667" x2="99.203" y2="439.5266666666667" stroke="#444" stroke-width="0.8" />
<line x1="119.004" y1="434.71333333333337" x2="119.004" y2="439.78000000000003" stroke="#444" stroke-width="0.7" />
<line x1="117.504" y1="434.71333333333337" x2="120.504" y2="434.71333333333337" stroke="#444" stroke-width="0.8" />
<line x1="117.504" y1="439.78000000000003" x2="120.504" y2="439.78000000000003" stroke="#444" stroke-width="0.8" />
<line x1="146.5" y1="431.9266666666667" x2="146.5" y2="438.00666666666666" stroke="#444" stroke-width="0.7" />
<line x1="145.0" y1="431.9266666666667" x2="148.0" y2="431.9266666666667" stroke="#444" stroke-width="0.8" />
<line x1="145.0" y1="438.00666666666666" x2="148.0" y2="438.00666666666666" stroke="#444" stroke-width="0.8" />
<line x1="42.929" y1="447.12666666666667" x2="42.929" y2="450.1666666666667" stroke="#444" stroke-width="0.7" />
<line x1="41.429" y1="447.12666666666667" x2="44.429" y2="447.12666666666667" stroke="#444" stroke-width="0.8" />
<line x1="41.429" y1="450.1666666666667" x2="44.429" y2="450.1666666666667" stroke="#444" stroke-width="0.8" />
<line x1="55.101" y1="429.14" x2="55.101" y2="436.74" stroke="#444" stroke-width="0.7" />
<line x1="53.601" y1="429.14" x2="56.601" y2="429.14" stroke="#444" stroke-width="0.8" />
<line x1="53.601" y1="436.74" x2="56.601" y2="436.74" stroke="#444" stroke-width="0.8" />
<line x1="76.402" y1="423.06" x2="76.402" y2="433.1933333333333" stroke="#444" stroke-width="0.7" />
<line x1="74.902" y1="423.06" x2="77.902" y2="423.06" stroke="#444" stroke-width="0.8" />
<line x1="74.902" y1="433.1933333333333" x2="77.902" y2="433.1933333333333" stroke="#444" stroke-width="0.8" />
<line x1="97.703" y1="425.0866666666667" x2="97.703" y2="432.68666666666667" stroke="#444" stroke-width="0.7" />
<line x1="96.203" y1="425.0866666666667" x2="99.203" y2="425.0866666666667" stroke="#444" stroke-width="0.8" />
<line x1="96.203" y1="432.68666666666667" x2="99.203" y2="432.68666666666667" stroke="#444" stroke-width="0.8" />
<line x1="119.004" y1="426.1" x2="119.004" y2="436.23333333333335" stroke="#444" stroke-width="0.7" />
<line x1="117.504" y1="426.1" x2="120.504" y2="426.1" stroke="#444" stroke-width="0.8" />
<line x1="117.504" y1="436.23333333333335" x2="120.504" y2="436.23333333333335" stroke="#444" stroke-width="0.8" />
<line x1="146.5" y1="423.56666666666666" x2="146.5" y2="433.7" stroke="#444" stroke-width="0.7" />
<line x1="145.0" y1="423.56666666666666" x2="148.0" y2="423.56666666666666" stroke="#444" stroke-width="0.8" />
<line x1="145.0" y1="433.7" x2="148.0" y2="433.7" stroke="#444" stroke-width="0.8" />
<line x1="42.929" y1="448.14" x2="42.929" y2="452.1933333333333" stroke="#444" stroke-width="0.7" />
<line x1="41.429" y1="448.14" x2="44.429" y2="448.14" stroke="#444" stroke-width="0.8" />
<line x1="41.429" y1="452.1933333333333" x2="44.429" y2="452.1933333333333" stroke="#444" stroke-width="0.8" />
<line x1="55.101" y1="420.02" x2="55.101" y2="432.68666666666667" stroke="#444" stroke-width="0.7" />
<line x1="53.601" y1="420.02" x2="56.601" y2="420.02" stroke="#444" stroke-width="0.8" />
<line x1="53.601" y1="432.68666666666667" x2="56.601" y2="432.68666666666667" stroke="#444" stroke-width="0.8" />
<line x1="76.402" y1="412.9266666666667" x2="76.402" y2="428.12666666666667" stroke="#444" stroke-width="0.7" />
<line x1="74.902" y1="412.9266666666667" x2="77.902" y2="412.9266666666667" stroke="#444" stroke-width="0.8" />
<line x1="74.902" y1="428.12666666666667" x2="77.902" y2="428.12666666666667" stroke="#444" stroke-width="0.8" />
<line x1="97.703" y1="412.42" x2="97.703" y2="422.55333333333334" stroke="#444" stroke-width="0.7" />
<line x1="96.203" y1="412.42" x2="99.203" y2="412.42" stroke="#444" stroke-width="0.8" />
<line x1="96.203" y1="422.55333333333334" x2="99.203" y2="422.55333333333334" stroke="#444" stroke-width="0.8" />
<line x1="119.004" y1="417.74" x2="119.004" y2="432.94" stroke="#444" stroke-width="0.7" />
<line x1="117.504" y1="417.74" x2="120.504" y2="417.74" stroke="#444" stroke-width="0.8" />
<line x1="117.504" y1="432.94" x2="120.504" y2="432.94" stroke="#444" stroke-width="0.8" />
<line x1="146.5" y1="421.2866666666667" x2="146.5" y2="431.42" stroke="#444" stroke-width="0.7" />
<line x1="145.0" y1="421.2866666666667" x2="148.0" y2="421.2866666666667" stroke="#444" stroke-width="0.8" />
<line x1="145.0" y1="431.42" x2="148.0" y2="431.42" stroke="#444" stroke-width="0.8" />
<line x1="42.929" y1="447.12666666666667" x2="42.929" y2="451.18" stroke="#444" stroke-width="0.7" />
<line x1="41.429" y1="447.12666666666667" x2="44.429" y2="447.12666666666667" stroke="#444" stroke-width="0.8" />
<line x1="41.429" y1="451.18" x2="44.429" y2="451.18" stroke="#444" stroke-width="0.8" />
<line x1="55.101" y1="427.3666666666667" x2="55.101" y2="437.5" stroke="#444" stroke-width="0.7" />
<line x1="53.601" y1="427.3666666666667" x2="56.601" y2="427.3666666666667" stroke="#444" stroke-width="0.8" />
<line x1="53.601" y1="437.5" x2="56.601" y2="437.5" stroke="#444" stroke-width="0.8" />
<line x1="76.402" y1="407.1" x2="76.402" y2="426.35333333333335" stroke="#444" stroke-width="0.7" />
<line x1="74.902" y1="407.1" x2="77.902" y2="407.1" stroke="#444" stroke-width="0.8" />
<line x1="74.902" y1="426.35333333333335" x2="77.902" y2="426.35333333333335" stroke="#444" stroke-width="0.8" />
<line x1="97.703" y1="411.4066666666667" x2="97.703" y2="424.0733333333333" stroke="#444" stroke-width="0.7" />
<line x1="96.203" y1="411.4066666666667" x2="99.203" y2="411.4066666666667" stroke="#444" stroke-width="0.8" />
<line x1="96.203" y1="424.0733333333333" x2="99.203" y2="424.0733333333333" stroke="#444" stroke-width="0.8" />
<line x1="119.004" y1="407.6066666666667" x2="119.004" y2="425.34000000000003" stroke="#444" stroke-width="0.7" />
<line x1="117.504" y1="407.6066666666667" x2="120.504" y2="407.6066666666667" stroke="#444" stroke-width="0.8" />
<line x1="117.504" y1="425.34000000000003" x2="120.504" y2="425.34000000000003" stroke="#444" stroke-width="0.8" />
<line x1="146.5" y1="399.5" x2="146.5" y2="422.3" stroke="#444" stroke-width="0.7" />
<line x1="145.0" y1="399.5" x2="148.0" y2="399.5" stroke="#444" stroke-width="0.8" />
<line x1="145.0" y1="422.3" x2="148.0" y2="422.3" stroke="#444" stroke-width="0.8" />
<path d="M41.06,428.79 L44.80,428.79 L42.93,432.19 Z" fill="#fff" stroke="#555555" stroke-width="0.8"/>
<path d="M53.23,435.89 L56.97,435.89 L55.10,439.29 Z" fill="#fff" stroke="#555555" stroke-width="0.8"/>
<path d="M74.53,434.62 L78.27,434.62 L76.40,438.02 Z" fill="#fff" stroke="#555555" stroke-width="0.8"/>
<path d="M95.83,435.13 L99.57,435.13 L97.70,438.53 Z" fill="#fff" stroke="#555555" stroke-width="0.8"/>
<path d="M117.13,435.89 L120.87,435.89 L119.00,439.29 Z" fill="#fff" stroke="#555555" stroke-width="0.8"/>
<path d="M144.63,433.61 L148.37,433.61 L146.50,437.01 Z" fill="#fff" stroke="#555555" stroke-width="0.8"/>
<path d="M42.93,446.25 L45.13,450.25 L40.73,450.25 Z" fill="#2e4a22"/>
<path d="M55.10,430.54 L57.30,434.54 L52.90,434.54 Z" fill="#2e4a22"/>
<path d="M76.40,425.73 L78.60,429.73 L74.20,429.73 Z" fill="#2e4a22"/>
<path d="M97.70,426.49 L99.90,430.49 L95.50,430.49 Z" fill="#2e4a22"/>
<path d="M119.00,428.77 L121.20,432.77 L116.80,432.77 Z" fill="#2e4a22"/>
<path d="M146.50,426.23 L148.70,430.23 L144.30,430.23 Z" fill="#2e4a22"/>
<rect x="41.08" y="448.32" width="3.70" height="3.70" fill="#6a1427"/>
<rect x="53.25" y="424.50" width="3.70" height="3.70" fill="#6a1427"/>
<rect x="74.55" y="418.68" width="3.70" height="3.70" fill="#6a1427"/>
<rect x="95.85" y="415.64" width="3.70" height="3.70" fill="#6a1427"/>
<rect x="117.15" y="423.49" width="3.70" height="3.70" fill="#6a1427"/>
<rect x="144.65" y="424.50" width="3.70" height="3.70" fill="#6a1427"/>
<circle cx="33.80" cy="434.97" r="2.00" fill="#1b2141"/>
<circle cx="42.93" cy="449.15" r="2.00" fill="#1b2141"/>
<circle cx="55.10" cy="432.43" r="2.00" fill="#1b2141"/>
<circle cx="76.40" cy="416.73" r="2.00" fill="#1b2141"/>
<circle cx="97.70" cy="417.74" r="2.00" fill="#1b2141"/>
<circle cx="119.00" cy="416.47" r="2.00" fill="#1b2141"/>
<circle cx="146.50" cy="410.90" r="2.00" fill="#1b2141"/>
<text x="0" y="372.7" font-size="8.6" textLength="4.7" lengthAdjust="spacingAndGlyphs" >T</text>
<text x="4.6" y="376.0" font-size="6.3" textLength="9.2" lengthAdjust="spacingAndGlyphs" >EM</text>
<line x1="30.599999999999998" y1="363.9" x2="37.0" y2="363.9" stroke="#2e4a22" stroke-width="0.8" />
<path d="M33.80,361.62 L35.89,365.42 L31.71,365.42 Z" fill="#2e4a22"/>
<line x1="30.599999999999998" y1="370.1" x2="37.0" y2="370.1" stroke="#6a1427" stroke-width="0.8" />
<rect x="32.04" y="368.34" width="3.52" height="3.52" fill="#6a1427"/>
<line x1="30.599999999999998" y1="376.1" x2="37.0" y2="376.1" stroke="#1b2141" stroke-width="0.8" />
<circle cx="33.80" cy="376.10" r="1.90" fill="#1b2141"/>
<text x="44.0" y="366.7" font-size="6.3" fill="#333" text-anchor="middle" stroke="#333" stroke-width="0.1">**</text>
<text x="44.0" y="372.90000000000003" font-size="6.3" fill="#333" text-anchor="middle" stroke="#333" stroke-width="0.1">**</text>
<text x="44.0" y="378.90000000000003" font-size="6.3" fill="#333" text-anchor="middle" stroke="#333" stroke-width="0.1">*</text>
<text x="97.703" y="372.90000000000003" font-size="6.3" fill="#333" text-anchor="middle" stroke="#333" stroke-width="0.1">*</text>
<text x="97.703" y="378.90000000000003" font-size="6.3" fill="#333" text-anchor="middle" stroke="#333" stroke-width="0.1">*</text>
<text x="119.004" y="372.90000000000003" font-size="6.3" fill="#333" text-anchor="middle" stroke="#333" stroke-width="0.1">*</text>
<text x="119.004" y="378.90000000000003" font-size="6.3" fill="#333" text-anchor="middle" stroke="#333" stroke-width="0.1">*</text>
<text x="146.5" y="378.90000000000003" font-size="6.3" fill="#333" text-anchor="middle" stroke="#333" stroke-width="0.1">*</text>
<line x1="33.8" y1="585.6" x2="33.8" y2="508.8" stroke="#222" stroke-width="1.3" />
<line x1="31.199999999999996" y1="585.6" x2="33.8" y2="585.6" stroke="#222" stroke-width="1.0" />
<text x="26.999999999999996" y="587.9" font-size="8.6" text-anchor="end" textLength="11.8" lengthAdjust="spacingAndGlyphs" stroke="#222" stroke-width="0.12">0.0</text>
<line x1="31.199999999999996" y1="560.2666666666667" x2="33.8" y2="560.2666666666667" stroke="#222" stroke-width="1.0" />
<text x="26.999999999999996" y="562.5666666666666" font-size="8.6" text-anchor="end" textLength="11.8" lengthAdjust="spacingAndGlyphs" stroke="#222" stroke-width="0.12">1.0</text>
<line x1="31.199999999999996" y1="534.9333333333334" x2="33.8" y2="534.9333333333334" stroke="#222" stroke-width="1.0" />
<text x="26.999999999999996" y="537.2333333333333" font-size="8.6" text-anchor="end" textLength="11.8" lengthAdjust="spacingAndGlyphs" stroke="#222" stroke-width="0.12">2.0</text>
<line x1="31.199999999999996" y1="509.6" x2="33.8" y2="509.6" stroke="#222" stroke-width="1.0" />
<text x="26.999999999999996" y="511.90000000000003" font-size="8.6" text-anchor="end" textLength="11.8" lengthAdjust="spacingAndGlyphs" stroke="#222" stroke-width="0.12">3.0</text>
<line x1="33.199999999999996" y1="585.6" x2="131.0" y2="585.6" stroke="#222" stroke-width="1.3" />
<line x1="134.39999999999998" y1="585.6" x2="149.2" y2="585.6" stroke="#222" stroke-width="1.3" />
<line x1="131.0" y1="582.2" x2="131.0" y2="589.0" stroke="#222" stroke-width="1.0" />
<line x1="134.39999999999998" y1="582.2" x2="134.39999999999998" y2="589.0" stroke="#222" stroke-width="1.0" />
<line x1="33.8" y1="585.6" x2="33.8" y2="588.0" stroke="#222" stroke-width="1.0" />
<text x="33.8" y="600.0" font-size="8.6" text-anchor="middle" textLength="4.6" lengthAdjust="spacingAndGlyphs" stroke="#222" stroke-width="0.12">0</text>
<line x1="55.101" y1="585.6" x2="55.101" y2="588.0" stroke="#222" stroke-width="1.0" />
<text x="55.101" y="600.0" font-size="8.6" text-anchor="middle" textLength="4.6" lengthAdjust="spacingAndGlyphs" stroke="#222" stroke-width="0.12">7</text>
<line x1="76.402" y1="585.6" x2="76.402" y2="588.0" stroke="#222" stroke-width="1.0" />
<text x="76.402" y="600.0" font-size="8.6" text-anchor="middle" textLength="9.0" lengthAdjust="spacingAndGlyphs" stroke="#222" stroke-width="0.12">14</text>
<line x1="97.703" y1="585.6" x2="97.703" y2="588.0" stroke="#222" stroke-width="1.0" />
<text x="97.703" y="600.0" font-size="8.6" text-anchor="middle" textLength="9.0" lengthAdjust="spacingAndGlyphs" stroke="#222" stroke-width="0.12">21</text>
<line x1="119.004" y1="585.6" x2="119.004" y2="588.0" stroke="#222" stroke-width="1.0" />
<text x="119.004" y="600.0" font-size="8.6" text-anchor="middle" textLength="9.0" lengthAdjust="spacingAndGlyphs" stroke="#222" stroke-width="0.12">28</text>
<line x1="146.5" y1="585.6" x2="146.5" y2="588.0" stroke="#222" stroke-width="1.0" />
<text x="146.5" y="600.0" font-size="8.6" text-anchor="middle" textLength="9.0" lengthAdjust="spacingAndGlyphs" stroke="#222" stroke-width="0.12">56</text>
<text transform="translate(8.599999999999998,547.6) rotate(-90)" font-size="9.8" font-weight="bold" fill="#1a1a1a" textLength="37.2" lengthAdjust="spacingAndGlyphs" text-anchor="middle" stroke="#1a1a1a" stroke-width="0.25">Fold change</text>
<path d="M33.80,560.27 L42.93,555.71 L55.10,560.77 L76.40,557.99 L97.70,558.49 L119.00,555.71" fill="none" stroke="#c6c6c6" stroke-width="1.0" stroke-linejoin="round"/>
<path d="M119.00,555.71 L146.50,558.49" fill="none" stroke="#c6c6c6" stroke-width="1.0" stroke-dasharray="7.5 3.2 4 2 60"/>
<path d="M33.80,560.27 L42.93,575.97 L55.10,560.27 L76.40,555.96 L97.70,558.49 L119.00,555.71" fill="none" stroke="#7fa85f" stroke-width="1.15" stroke-linejoin="round"/>
<path d="M119.00,555.71 L146.50,555.71" fill="none" stroke="#7fa85f" stroke-width="1.15" stroke-dasharray="7.5 3.2 4 2 60"/>
<path d="M33.80,560.27 L42.93,576.73 L55.10,555.71 L76.40,544.56 L97.70,541.27 L119.00,538.73" fill="none" stroke="#963048" stroke-width="1.15" stroke-linejoin="round"/>
<path d="M119.00,538.73 L146.50,544.31" fill="none" stroke="#963048" stroke-width="1.15" stroke-dasharray="7.5 3.2 4 2 60"/>
<path d="M33.80,560.27 L42.93,576.73 L55.10,563.56 L76.40,538.48 L97.70,547.85 L119.00,538.99" fill="none" stroke="#3c4d7c" stroke-width="1.15" stroke-linejoin="round"/>
<path d="M119.00,538.99 L146.50,532.40" fill="none" stroke="#3c4d7c" stroke-width="1.15" stroke-dasharray="7.5 3.2 4 2 60"/>
<line x1="42.929" y1="553.1733333333334" x2="42.929" y2="558.24" stroke="#444" stroke-width="0.7" />
<line x1="41.429" y1="553.1733333333334" x2="44.429" y2="553.1733333333334" stroke="#444" stroke-width="0.8" />
<line x1="41.429" y1="558.24" x2="44.429" y2="558.24" stroke="#444" stroke-width="0.8" />
<line x1="55.101" y1="558.7466666666667" x2="55.101" y2="562.8000000000001" stroke="#444" stroke-width="0.7" />
<line x1="53.601" y1="558.7466666666667" x2="56.601" y2="558.7466666666667" stroke="#444" stroke-width="0.8" />
<line x1="53.601" y1="562.8000000000001" x2="56.601" y2="562.8000000000001" stroke="#444" stroke-width="0.8" />
<line x1="76.402" y1="555.4533333333334" x2="76.402" y2="560.52" stroke="#444" stroke-width="0.7" />
<line x1="74.902" y1="555.4533333333334" x2="77.902" y2="555.4533333333334" stroke="#444" stroke-width="0.8" />
<line x1="74.902" y1="560.52" x2="77.902" y2="560.52" stroke="#444" stroke-width="0.8" />
<line x1="97.703" y1="555.96" x2="97.703" y2="561.0266666666666" stroke="#444" stroke-width="0.7" />
<line x1="96.203" y1="555.96" x2="99.203" y2="555.96" stroke="#444" stroke-width="0.8" />
<line x1="96.203" y1="561.0266666666666" x2="99.203" y2="561.0266666666666" stroke="#444" stroke-width="0.8" />
<line x1="119.004" y1="552.6666666666667" x2="119.004" y2="558.7466666666667" stroke="#444" stroke-width="0.7" />
<line x1="117.504" y1="552.6666666666667" x2="120.504" y2="552.6666666666667" stroke="#444" stroke-width="0.8" />
<line x1="117.504" y1="558.7466666666667" x2="120.504" y2="558.7466666666667" stroke="#444" stroke-width="0.8" />
<line x1="146.5" y1="555.96" x2="146.5" y2="561.0266666666666" stroke="#444" stroke-width="0.7" />
<line x1="145.0" y1="555.96" x2="148.0" y2="555.96" stroke="#444" stroke-width="0.8" />
<line x1="145.0" y1="561.0266666666666" x2="148.0" y2="561.0266666666666" stroke="#444" stroke-width="0.8" />
<line x1="42.929" y1="574.4533333333334" x2="42.929" y2="577.4933333333333" stroke="#444" stroke-width="0.7" />
<line x1="41.429" y1="574.4533333333334" x2="44.429" y2="574.4533333333334" stroke="#444" stroke-width="0.8" />
<line x1="41.429" y1="577.4933333333333" x2="44.429" y2="577.4933333333333" stroke="#444" stroke-width="0.8" />
<line x1="55.101" y1="557.7333333333333" x2="55.101" y2="562.8000000000001" stroke="#444" stroke-width="0.7" />
<line x1="53.601" y1="557.7333333333333" x2="56.601" y2="557.7333333333333" stroke="#444" stroke-width="0.8" />
<line x1="53.601" y1="562.8000000000001" x2="56.601" y2="562.8000000000001" stroke="#444" stroke-width="0.8" />
<line x1="76.402" y1="552.1600000000001" x2="76.402" y2="559.76" stroke="#444" stroke-width="0.7" />
<line x1="74.902" y1="552.1600000000001" x2="77.902" y2="552.1600000000001" stroke="#444" stroke-width="0.8" />
<line x1="74.902" y1="559.76" x2="77.902" y2="559.76" stroke="#444" stroke-width="0.8" />
<line x1="97.703" y1="555.96" x2="97.703" y2="561.0266666666666" stroke="#444" stroke-width="0.7" />
<line x1="96.203" y1="555.96" x2="99.203" y2="555.96" stroke="#444" stroke-width="0.8" />
<line x1="96.203" y1="561.0266666666666" x2="99.203" y2="561.0266666666666" stroke="#444" stroke-width="0.8" />
<line x1="119.004" y1="553.1733333333334" x2="119.004" y2="558.24" stroke="#444" stroke-width="0.7" />
<line x1="117.504" y1="553.1733333333334" x2="120.504" y2="553.1733333333334" stroke="#444" stroke-width="0.8" />
<line x1="117.504" y1="558.24" x2="120.504" y2="558.24" stroke="#444" stroke-width="0.8" />
<line x1="146.5" y1="552.6666666666667" x2="146.5" y2="558.7466666666667" stroke="#444" stroke-width="0.7" />
<line x1="145.0" y1="552.6666666666667" x2="148.0" y2="552.6666666666667" stroke="#444" stroke-width="0.8" />
<line x1="145.0" y1="558.7466666666667" x2="148.0" y2="558.7466666666667" stroke="#444" stroke-width="0.8" />
<line x1="42.929" y1="575.2133333333334" x2="42.929" y2="578.2533333333333" stroke="#444" stroke-width="0.7" />
<line x1="41.429" y1="575.2133333333334" x2="44.429" y2="575.2133333333334" stroke="#444" stroke-width="0.8" />
<line x1="41.429" y1="578.2533333333333" x2="44.429" y2="578.2533333333333" stroke="#444" stroke-width="0.8" />
<line x1="55.101" y1="550.64" x2="55.101" y2="560.7733333333333" stroke="#444" stroke-width="0.7" />
<line x1="53.601" y1="550.64" x2="56.601" y2="550.64" stroke="#444" stroke-width="0.8" />
<line x1="53.601" y1="560.7733333333333" x2="56.601" y2="560.7733333333333" stroke="#444" stroke-width="0.8" />
<line x1="76.402" y1="538.2266666666667" x2="76.402" y2="550.8933333333333" stroke="#444" stroke-width="0.7" />
<line x1="74.902" y1="538.2266666666667" x2="77.902" y2="538.2266666666667" stroke="#444" stroke-width="0.8" />
<line x1="74.902" y1="550.8933333333333" x2="77.902" y2="550.8933333333333" stroke="#444" stroke-width="0.8" />
<line x1="97.703" y1="534.9333333333334" x2="97.703" y2="547.6" stroke="#444" stroke-width="0.7" />
<line x1="96.203" y1="534.9333333333334" x2="99.203" y2="534.9333333333334" stroke="#444" stroke-width="0.8" />
<line x1="96.203" y1="547.6" x2="99.203" y2="547.6" stroke="#444" stroke-width="0.8" />
<line x1="119.004" y1="533.6666666666667" x2="119.004" y2="543.8000000000001" stroke="#444" stroke-width="0.7" />
<line x1="117.504" y1="533.6666666666667" x2="120.504" y2="533.6666666666667" stroke="#444" stroke-width="0.8" />
<line x1="117.504" y1="543.8000000000001" x2="120.504" y2="543.8000000000001" stroke="#444" stroke-width="0.8" />
<line x1="146.5" y1="541.7733333333333" x2="146.5" y2="546.84" stroke="#444" stroke-width="0.7" />
<line x1="145.0" y1="541.7733333333333" x2="148.0" y2="541.7733333333333" stroke="#444" stroke-width="0.8" />
<line x1="145.0" y1="546.84" x2="148.0" y2="546.84" stroke="#444" stroke-width="0.8" />
<line x1="42.929" y1="575.2133333333334" x2="42.929" y2="578.2533333333333" stroke="#444" stroke-width="0.7" />
<line x1="41.429" y1="575.2133333333334" x2="44.429" y2="575.2133333333334" stroke="#444" stroke-width="0.8" />
<line x1="41.429" y1="578.2533333333333" x2="44.429" y2="578.2533333333333" stroke="#444" stroke-width="0.8" />
<line x1="55.101" y1="560.52" x2="55.101" y2="566.6" stroke="#444" stroke-width="0.7" />
<line x1="53.601" y1="560.52" x2="56.601" y2="560.52" stroke="#444" stroke-width="0.8" />
<line x1="53.601" y1="566.6" x2="56.601" y2="566.6" stroke="#444" stroke-width="0.8" />
<line x1="76.402" y1="533.4133333333334" x2="76.402" y2="543.5466666666667" stroke="#444" stroke-width="0.7" />
<line x1="74.902" y1="533.4133333333334" x2="77.902" y2="533.4133333333334" stroke="#444" stroke-width="0.8" />
<line x1="74.902" y1="543.5466666666667" x2="77.902" y2="543.5466666666667" stroke="#444" stroke-width="0.8" />
<line x1="97.703" y1="541.52" x2="97.703" y2="554.1866666666667" stroke="#444" stroke-width="0.7" />
<line x1="96.203" y1="541.52" x2="99.203" y2="541.52" stroke="#444" stroke-width="0.8" />
<line x1="96.203" y1="554.1866666666667" x2="99.203" y2="554.1866666666667" stroke="#444" stroke-width="0.8" />
<line x1="119.004" y1="533.9200000000001" x2="119.004" y2="544.0533333333334" stroke="#444" stroke-width="0.7" />
<line x1="117.504" y1="533.9200000000001" x2="120.504" y2="533.9200000000001" stroke="#444" stroke-width="0.8" />
<line x1="117.504" y1="544.0533333333334" x2="120.504" y2="544.0533333333334" stroke="#444" stroke-width="0.8" />
<line x1="146.5" y1="526.0666666666667" x2="146.5" y2="538.7333333333333" stroke="#444" stroke-width="0.7" />
<line x1="145.0" y1="526.0666666666667" x2="148.0" y2="526.0666666666667" stroke="#444" stroke-width="0.8" />
<line x1="145.0" y1="538.7333333333333" x2="148.0" y2="538.7333333333333" stroke="#444" stroke-width="0.8" />
<path d="M41.06,554.35 L44.80,554.35 L42.93,557.75 Z" fill="#fff" stroke="#555555" stroke-width="0.8"/>
<path d="M53.23,559.41 L56.97,559.41 L55.10,562.81 Z" fill="#fff" stroke="#555555" stroke-width="0.8"/>
<path d="M74.53,556.63 L78.27,556.63 L76.40,560.03 Z" fill="#fff" stroke="#555555" stroke-width="0.8"/>
<path d="M95.83,557.13 L99.57,557.13 L97.70,560.53 Z" fill="#fff" stroke="#555555" stroke-width="0.8"/>
<path d="M117.13,554.35 L120.87,554.35 L119.00,557.75 Z" fill="#fff" stroke="#555555" stroke-width="0.8"/>
<path d="M144.63,557.13 L148.37,557.13 L146.50,560.53 Z" fill="#fff" stroke="#555555" stroke-width="0.8"/>
<path d="M42.93,573.57 L45.13,577.57 L40.73,577.57 Z" fill="#2e4a22"/>
<path d="M55.10,557.87 L57.30,561.87 L52.90,561.87 Z" fill="#2e4a22"/>
<path d="M76.40,553.56 L78.60,557.56 L74.20,557.56 Z" fill="#2e4a22"/>
<path d="M97.70,556.09 L99.90,560.09 L95.50,560.09 Z" fill="#2e4a22"/>
<path d="M119.00,553.31 L121.20,557.31 L116.80,557.31 Z" fill="#2e4a22"/>
<path d="M146.50,553.31 L148.70,557.31 L144.30,557.31 Z" fill="#2e4a22"/>
<rect x="41.08" y="574.88" width="3.70" height="3.70" fill="#6a1427"/>
<rect x="53.25" y="553.86" width="3.70" height="3.70" fill="#6a1427"/>
<rect x="74.55" y="542.71" width="3.70" height="3.70" fill="#6a1427"/>
<rect x="95.85" y="539.42" width="3.70" height="3.70" fill="#6a1427"/>
<rect x="117.15" y="536.88" width="3.70" height="3.70" fill="#6a1427"/>
<rect x="144.65" y="542.46" width="3.70" height="3.70" fill="#6a1427"/>
<circle cx="33.80" cy="560.27" r="2.00" fill="#1b2141"/>
<circle cx="42.93" cy="576.73" r="2.00" fill="#1b2141"/>
<circle cx="55.10" cy="563.56" r="2.00" fill="#1b2141"/>
<circle cx="76.40" cy="538.48" r="2.00" fill="#1b2141"/>
<circle cx="97.70" cy="547.85" r="2.00" fill="#1b2141"/>
<circle cx="119.00" cy="538.99" r="2.00" fill="#1b2141"/>
<circle cx="146.50" cy="532.40" r="2.00" fill="#1b2141"/>
<text x="-0.6" y="498.4" font-size="8.6" textLength="4.7" lengthAdjust="spacingAndGlyphs" >T</text>
<text x="4.6" y="501.1" font-size="6.3" textLength="10.4" lengthAdjust="spacingAndGlyphs" >CM</text>
<line x1="30.599999999999998" y1="489.20000000000005" x2="37.0" y2="489.20000000000005" stroke="#2e4a22" stroke-width="0.8" />
<path d="M33.80,486.92 L35.89,490.72 L31.71,490.72 Z" fill="#2e4a22"/>
<line x1="30.599999999999998" y1="495.40000000000003" x2="37.0" y2="495.40000000000003" stroke="#6a1427" stroke-width="0.8" />
<rect x="32.04" y="493.64" width="3.52" height="3.52" fill="#6a1427"/>
<line x1="30.599999999999998" y1="501.40000000000003" x2="37.0" y2="501.40000000000003" stroke="#1b2141" stroke-width="0.8" />
<circle cx="33.80" cy="501.40" r="1.90" fill="#1b2141"/>
<text x="44.0" y="492.00000000000006" font-size="6.3" fill="#333" text-anchor="middle" stroke="#333" stroke-width="0.1">**</text>
<text x="44.0" y="498.20000000000005" font-size="6.3" fill="#333" text-anchor="middle" stroke="#333" stroke-width="0.1">**</text>
<text x="44.0" y="504.20000000000005" font-size="6.3" fill="#333" text-anchor="middle" stroke="#333" stroke-width="0.1">**</text>
<text x="76.402" y="504.20000000000005" font-size="6.3" fill="#333" text-anchor="middle" stroke="#333" stroke-width="0.1">**</text>
<text x="97.703" y="498.20000000000005" font-size="6.3" fill="#333" text-anchor="middle" stroke="#333" stroke-width="0.1">**</text>
<text x="97.703" y="504.20000000000005" font-size="6.3" fill="#333" text-anchor="middle" stroke="#333" stroke-width="0.1">*</text>
<text x="119.004" y="498.20000000000005" font-size="6.3" fill="#333" text-anchor="middle" stroke="#333" stroke-width="0.1">**</text>
<text x="119.004" y="504.20000000000005" font-size="6.3" fill="#333" text-anchor="middle" stroke="#333" stroke-width="0.1">*</text>
<text x="146.5" y="498.20000000000005" font-size="6.3" fill="#333" text-anchor="middle" stroke="#333" stroke-width="0.1">**</text>
<text x="146.5" y="504.20000000000005" font-size="6.3" fill="#333" text-anchor="middle" stroke="#333" stroke-width="0.1">**</text>
<line x1="33.8" y1="710.3" x2="33.8" y2="633.5" stroke="#222" stroke-width="1.3" />
<line x1="31.199999999999996" y1="710.3" x2="33.8" y2="710.3" stroke="#222" stroke-width="1.0" />
<text x="26.999999999999996" y="712.5999999999999" font-size="8.6" text-anchor="end" textLength="11.8" lengthAdjust="spacingAndGlyphs" stroke="#222" stroke-width="0.12">0.0</text>
<line x1="31.199999999999996" y1="691.3" x2="33.8" y2="691.3" stroke="#222" stroke-width="1.0" />
<text x="26.999999999999996" y="693.5999999999999" font-size="8.6" text-anchor="end" textLength="11.8" lengthAdjust="spacingAndGlyphs" stroke="#222" stroke-width="0.12">1.0</text>
<line x1="31.199999999999996" y1="672.3" x2="33.8" y2="672.3" stroke="#222" stroke-width="1.0" />
<text x="26.999999999999996" y="674.5999999999999" font-size="8.6" text-anchor="end" textLength="11.8" lengthAdjust="spacingAndGlyphs" stroke="#222" stroke-width="0.12">2.0</text>
<line x1="31.199999999999996" y1="653.3" x2="33.8" y2="653.3" stroke="#222" stroke-width="1.0" />
<text x="26.999999999999996" y="655.5999999999999" font-size="8.6" text-anchor="end" textLength="11.8" lengthAdjust="spacingAndGlyphs" stroke="#222" stroke-width="0.12">3.0</text>
<line x1="31.199999999999996" y1="634.3" x2="33.8" y2="634.3" stroke="#222" stroke-width="1.0" />
<text x="26.999999999999996" y="636.5999999999999" font-size="8.6" text-anchor="end" textLength="11.8" lengthAdjust="spacingAndGlyphs" stroke="#222" stroke-width="0.12">4.0</text>
<line x1="33.199999999999996" y1="710.3" x2="131.0" y2="710.3" stroke="#222" stroke-width="1.3" />
<line x1="134.39999999999998" y1="710.3" x2="149.2" y2="710.3" stroke="#222" stroke-width="1.3" />
<line x1="131.0" y1="706.9" x2="131.0" y2="713.6999999999999" stroke="#222" stroke-width="1.0" />
<line x1="134.39999999999998" y1="706.9" x2="134.39999999999998" y2="713.6999999999999" stroke="#222" stroke-width="1.0" />
<line x1="33.8" y1="710.3" x2="33.8" y2="712.6999999999999" stroke="#222" stroke-width="1.0" />
<text x="33.8" y="724.6999999999999" font-size="8.6" text-anchor="middle" textLength="4.6" lengthAdjust="spacingAndGlyphs" stroke="#222" stroke-width="0.12">0</text>
<line x1="55.101" y1="710.3" x2="55.101" y2="712.6999999999999" stroke="#222" stroke-width="1.0" />
<text x="55.101" y="724.6999999999999" font-size="8.6" text-anchor="middle" textLength="4.6" lengthAdjust="spacingAndGlyphs" stroke="#222" stroke-width="0.12">7</text>
<line x1="76.402" y1="710.3" x2="76.402" y2="712.6999999999999" stroke="#222" stroke-width="1.0" />
<text x="76.402" y="724.6999999999999" font-size="8.6" text-anchor="middle" textLength="9.0" lengthAdjust="spacingAndGlyphs" stroke="#222" stroke-width="0.12">14</text>
<line x1="97.703" y1="710.3" x2="97.703" y2="712.6999999999999" stroke="#222" stroke-width="1.0" />
<text x="97.703" y="724.6999999999999" font-size="8.6" text-anchor="middle" textLength="9.0" lengthAdjust="spacingAndGlyphs" stroke="#222" stroke-width="0.12">21</text>
<line x1="119.004" y1="710.3" x2="119.004" y2="712.6999999999999" stroke="#222" stroke-width="1.0" />
<text x="119.004" y="724.6999999999999" font-size="8.6" text-anchor="middle" textLength="9.0" lengthAdjust="spacingAndGlyphs" stroke="#222" stroke-width="0.12">28</text>
<line x1="146.5" y1="710.3" x2="146.5" y2="712.6999999999999" stroke="#222" stroke-width="1.0" />
<text x="146.5" y="724.6999999999999" font-size="8.6" text-anchor="middle" textLength="9.0" lengthAdjust="spacingAndGlyphs" stroke="#222" stroke-width="0.12">56</text>
<text transform="translate(8.599999999999998,672.3) rotate(-90)" font-size="9.8" font-weight="bold" fill="#1a1a1a" textLength="37.2" lengthAdjust="spacingAndGlyphs" text-anchor="middle" stroke="#1a1a1a" stroke-width="0.25">Fold change</text>
<path d="M33.80,691.30 L42.93,683.51 L55.10,686.55 L76.40,691.30 L97.70,691.30 L119.00,690.16" fill="none" stroke="#c6c6c6" stroke-width="1.0" stroke-linejoin="round"/>
<path d="M119.00,690.16 L146.50,683.13" fill="none" stroke="#c6c6c6" stroke-width="1.0" stroke-dasharray="7.5 3.2 4 2 60"/>
<path d="M33.80,691.30 L42.93,694.15 L55.10,690.16 L76.40,690.16 L97.70,690.16 L119.00,689.02" fill="none" stroke="#7fa85f" stroke-width="1.15" stroke-linejoin="round"/>
<path d="M119.00,689.02 L146.50,687.88" fill="none" stroke="#7fa85f" stroke-width="1.15" stroke-dasharray="7.5 3.2 4 2 60"/>
<path d="M33.80,691.30 L42.93,697.38 L55.10,685.98 L76.40,684.27 L97.70,685.98 L119.00,685.03" fill="none" stroke="#963048" stroke-width="1.15" stroke-linejoin="round"/>
<path d="M119.00,685.03 L146.50,680.09" fill="none" stroke="#963048" stroke-width="1.15" stroke-dasharray="7.5 3.2 4 2 60"/>
<path d="M33.80,691.30 L42.93,689.02 L55.10,683.51 L76.40,676.67 L97.70,660.33 L119.00,672.68" fill="none" stroke="#3c4d7c" stroke-width="1.15" stroke-linejoin="round"/>
<path d="M119.00,672.68 L146.50,662.23" fill="none" stroke="#3c4d7c" stroke-width="1.15" stroke-dasharray="7.5 3.2 4 2 60"/>
<line x1="42.929" y1="678.76" x2="42.929" y2="688.26" stroke="#444" stroke-width="0.7" />
<line x1="41.429" y1="678.76" x2="44.429" y2="678.76" stroke="#444" stroke-width="0.8" />
<line x1="41.429" y1="688.26" x2="44.429" y2="688.26" stroke="#444" stroke-width="0.8" />
<line x1="55.101" y1="684.65" x2="55.101" y2="688.4499999999999" stroke="#444" stroke-width="0.7" />
<line x1="53.601" y1="684.65" x2="56.601" y2="684.65" stroke="#444" stroke-width="0.8" />
<line x1="53.601" y1="688.4499999999999" x2="56.601" y2="688.4499999999999" stroke="#444" stroke-width="0.8" />
<line x1="76.402" y1="689.4" x2="76.402" y2="693.1999999999999" stroke="#444" stroke-width="0.7" />
<line x1="74.902" y1="689.4" x2="77.902" y2="689.4" stroke="#444" stroke-width="0.8" />
<line x1="74.902" y1="693.1999999999999" x2="77.902" y2="693.1999999999999" stroke="#444" stroke-width="0.8" />
<line x1="97.703" y1="686.55" x2="97.703" y2="696.05" stroke="#444" stroke-width="0.7" />
<line x1="96.203" y1="686.55" x2="99.203" y2="686.55" stroke="#444" stroke-width="0.8" />
<line x1="96.203" y1="696.05" x2="99.203" y2="696.05" stroke="#444" stroke-width="0.8" />
<line x1="119.004" y1="688.26" x2="119.004" y2="692.06" stroke="#444" stroke-width="0.7" />
<line x1="117.504" y1="688.26" x2="120.504" y2="688.26" stroke="#444" stroke-width="0.8" />
<line x1="117.504" y1="692.06" x2="120.504" y2="692.06" stroke="#444" stroke-width="0.8" />
<line x1="146.5" y1="680.28" x2="146.5" y2="685.9799999999999" stroke="#444" stroke-width="0.7" />
<line x1="145.0" y1="680.28" x2="148.0" y2="680.28" stroke="#444" stroke-width="0.8" />
<line x1="145.0" y1="685.9799999999999" x2="148.0" y2="685.9799999999999" stroke="#444" stroke-width="0.8" />
<line x1="42.929" y1="692.25" x2="42.929" y2="696.05" stroke="#444" stroke-width="0.7" />
<line x1="41.429" y1="692.25" x2="44.429" y2="692.25" stroke="#444" stroke-width="0.8" />
<line x1="41.429" y1="696.05" x2="44.429" y2="696.05" stroke="#444" stroke-width="0.8" />
<line x1="55.101" y1="688.64" x2="55.101" y2="691.68" stroke="#444" stroke-width="0.7" />
<line x1="53.601" y1="688.64" x2="56.601" y2="688.64" stroke="#444" stroke-width="0.8" />
<line x1="53.601" y1="691.68" x2="56.601" y2="691.68" stroke="#444" stroke-width="0.8" />
<line x1="76.402" y1="687.88" x2="76.402" y2="692.4399999999999" stroke="#444" stroke-width="0.7" />
<line x1="74.902" y1="687.88" x2="77.902" y2="687.88" stroke="#444" stroke-width="0.8" />
<line x1="74.902" y1="692.4399999999999" x2="77.902" y2="692.4399999999999" stroke="#444" stroke-width="0.8" />
<line x1="97.703" y1="686.3599999999999" x2="97.703" y2="693.9599999999999" stroke="#444" stroke-width="0.7" />
<line x1="96.203" y1="686.3599999999999" x2="99.203" y2="686.3599999999999" stroke="#444" stroke-width="0.8" />
<line x1="96.203" y1="693.9599999999999" x2="99.203" y2="693.9599999999999" stroke="#444" stroke-width="0.8" />
<line x1="119.004" y1="687.12" x2="119.004" y2="690.92" stroke="#444" stroke-width="0.7" />
<line x1="117.504" y1="687.12" x2="120.504" y2="687.12" stroke="#444" stroke-width="0.8" />
<line x1="117.504" y1="690.92" x2="120.504" y2="690.92" stroke="#444" stroke-width="0.8" />
<line x1="146.5" y1="685.5999999999999" x2="146.5" y2="690.16" stroke="#444" stroke-width="0.7" />
<line x1="145.0" y1="685.5999999999999" x2="148.0" y2="685.5999999999999" stroke="#444" stroke-width="0.8" />
<line x1="145.0" y1="690.16" x2="148.0" y2="690.16" stroke="#444" stroke-width="0.8" />
<line x1="42.929" y1="695.0999999999999" x2="42.929" y2="699.66" stroke="#444" stroke-width="0.7" />
<line x1="41.429" y1="695.0999999999999" x2="44.429" y2="695.0999999999999" stroke="#444" stroke-width="0.8" />
<line x1="41.429" y1="699.66" x2="44.429" y2="699.66" stroke="#444" stroke-width="0.8" />
<line x1="55.101" y1="683.6999999999999" x2="55.101" y2="688.26" stroke="#444" stroke-width="0.7" />
<line x1="53.601" y1="683.6999999999999" x2="56.601" y2="683.6999999999999" stroke="#444" stroke-width="0.8" />
<line x1="53.601" y1="688.26" x2="56.601" y2="688.26" stroke="#444" stroke-width="0.8" />
<line x1="76.402" y1="681.42" x2="76.402" y2="687.12" stroke="#444" stroke-width="0.7" />
<line x1="74.902" y1="681.42" x2="77.902" y2="681.42" stroke="#444" stroke-width="0.8" />
<line x1="74.902" y1="687.12" x2="77.902" y2="687.12" stroke="#444" stroke-width="0.8" />
<line x1="97.703" y1="683.6999999999999" x2="97.703" y2="688.26" stroke="#444" stroke-width="0.7" />
<line x1="96.203" y1="683.6999999999999" x2="99.203" y2="683.6999999999999" stroke="#444" stroke-width="0.8" />
<line x1="96.203" y1="688.26" x2="99.203" y2="688.26" stroke="#444" stroke-width="0.8" />
<line x1="119.004" y1="682.75" x2="119.004" y2="687.31" stroke="#444" stroke-width="0.7" />
<line x1="117.504" y1="682.75" x2="120.504" y2="682.75" stroke="#444" stroke-width="0.8" />
<line x1="117.504" y1="687.31" x2="120.504" y2="687.31" stroke="#444" stroke-width="0.8" />
<line x1="146.5" y1="676.67" x2="146.5" y2="683.51" stroke="#444" stroke-width="0.7" />
<line x1="145.0" y1="676.67" x2="148.0" y2="676.67" stroke="#444" stroke-width="0.8" />
<line x1="145.0" y1="683.51" x2="148.0" y2="683.51" stroke="#444" stroke-width="0.8" />
<line x1="42.929" y1="685.2199999999999" x2="42.929" y2="692.8199999999999" stroke="#444" stroke-width="0.7" />
<line x1="41.429" y1="685.2199999999999" x2="44.429" y2="685.2199999999999" stroke="#444" stroke-width="0.8" />
<line x1="41.429" y1="692.8199999999999" x2="44.429" y2="692.8199999999999" stroke="#444" stroke-width="0.8" />
<line x1="55.101" y1="680.66" x2="55.101" y2="686.3599999999999" stroke="#444" stroke-width="0.7" />
<line x1="53.601" y1="680.66" x2="56.601" y2="680.66" stroke="#444" stroke-width="0.8" />
<line x1="53.601" y1="686.3599999999999" x2="56.601" y2="686.3599999999999" stroke="#444" stroke-width="0.8" />
<line x1="76.402" y1="671.92" x2="76.402" y2="681.42" stroke="#444" stroke-width="0.7" />
<line x1="74.902" y1="671.92" x2="77.902" y2="671.92" stroke="#444" stroke-width="0.8" />
<line x1="74.902" y1="681.42" x2="77.902" y2="681.42" stroke="#444" stroke-width="0.8" />
<line x1="97.703" y1="649.5" x2="97.703" y2="671.16" stroke="#444" stroke-width="0.7" />
<line x1="96.203" y1="649.5" x2="99.203" y2="649.5" stroke="#444" stroke-width="0.8" />
<line x1="96.203" y1="671.16" x2="99.203" y2="671.16" stroke="#444" stroke-width="0.8" />
<line x1="119.004" y1="669.26" x2="119.004" y2="676.0999999999999" stroke="#444" stroke-width="0.7" />
<line x1="117.504" y1="669.26" x2="120.504" y2="669.26" stroke="#444" stroke-width="0.8" />
<line x1="117.504" y1="676.0999999999999" x2="120.504" y2="676.0999999999999" stroke="#444" stroke-width="0.8" />
<line x1="146.5" y1="654.06" x2="146.5" y2="670.4" stroke="#444" stroke-width="0.7" />
<line x1="145.0" y1="654.06" x2="148.0" y2="654.06" stroke="#444" stroke-width="0.8" />
<line x1="145.0" y1="670.4" x2="148.0" y2="670.4" stroke="#444" stroke-width="0.8" />
<path d="M41.06,682.15 L44.80,682.15 L42.93,685.55 Z" fill="#fff" stroke="#555555" stroke-width="0.8"/>
<path d="M53.23,685.19 L56.97,685.19 L55.10,688.59 Z" fill="#fff" stroke="#555555" stroke-width="0.8"/>
<path d="M74.53,689.94 L78.27,689.94 L76.40,693.34 Z" fill="#fff" stroke="#555555" stroke-width="0.8"/>
<path d="M95.83,689.94 L99.57,689.94 L97.70,693.34 Z" fill="#fff" stroke="#555555" stroke-width="0.8"/>
<path d="M117.13,688.80 L120.87,688.80 L119.00,692.20 Z" fill="#fff" stroke="#555555" stroke-width="0.8"/>
<path d="M144.63,681.77 L148.37,681.77 L146.50,685.17 Z" fill="#fff" stroke="#555555" stroke-width="0.8"/>
<path d="M42.93,691.75 L45.13,695.75 L40.73,695.75 Z" fill="#2e4a22"/>
<path d="M55.10,687.76 L57.30,691.76 L52.90,691.76 Z" fill="#2e4a22"/>
<path d="M76.40,687.76 L78.60,691.76 L74.20,691.76 Z" fill="#2e4a22"/>
<path d="M97.70,687.76 L99.90,691.76 L95.50,691.76 Z" fill="#2e4a22"/>
<path d="M119.00,686.62 L121.20,690.62 L116.80,690.62 Z" fill="#2e4a22"/>
<path d="M146.50,685.48 L148.70,689.48 L144.30,689.48 Z" fill="#2e4a22"/>
<rect x="41.08" y="695.53" width="3.70" height="3.70" fill="#6a1427"/>
<rect x="53.25" y="684.13" width="3.70" height="3.70" fill="#6a1427"/>
<rect x="74.55" y="682.42" width="3.70" height="3.70" fill="#6a1427"/>
<rect x="95.85" y="684.13" width="3.70" height="3.70" fill="#6a1427"/>
<rect x="117.15" y="683.18" width="3.70" height="3.70" fill="#6a1427"/>
<rect x="144.65" y="678.24" width="3.70" height="3.70" fill="#6a1427"/>
<circle cx="33.80" cy="691.30" r="2.00" fill="#1b2141"/>
<circle cx="42.93" cy="689.02" r="2.00" fill="#1b2141"/>
<circle cx="55.10" cy="683.51" r="2.00" fill="#1b2141"/>
<circle cx="76.40" cy="676.67" r="2.00" fill="#1b2141"/>
<circle cx="97.70" cy="660.33" r="2.00" fill="#1b2141"/>
<circle cx="119.00" cy="672.68" r="2.00" fill="#1b2141"/>
<circle cx="146.50" cy="662.23" r="2.00" fill="#1b2141"/>
<text x="0" y="622.0" font-size="8.6" textLength="4.7" lengthAdjust="spacingAndGlyphs" >T</text>
<text x="4.8" y="623.3" font-size="6.3" textLength="18.1" lengthAdjust="spacingAndGlyphs" >EMRA</text>
<line x1="30.599999999999998" y1="613.9" x2="37.0" y2="613.9" stroke="#2e4a22" stroke-width="0.8" />
<path d="M33.80,611.62 L35.89,615.42 L31.71,615.42 Z" fill="#2e4a22"/>
<line x1="30.599999999999998" y1="620.0999999999999" x2="37.0" y2="620.0999999999999" stroke="#6a1427" stroke-width="0.8" />
<rect x="32.04" y="618.34" width="3.52" height="3.52" fill="#6a1427"/>
<line x1="30.599999999999998" y1="626.0999999999999" x2="37.0" y2="626.0999999999999" stroke="#1b2141" stroke-width="0.8" />
<circle cx="33.80" cy="626.10" r="1.90" fill="#1b2141"/>
<text x="44.0" y="622.8999999999999" font-size="6.3" fill="#333" text-anchor="middle" stroke="#333" stroke-width="0.1">*</text>
<text x="55.101" y="628.8999999999999" font-size="6.3" fill="#333" text-anchor="middle" stroke="#333" stroke-width="0.1">*</text>
<text x="76.402" y="628.8999999999999" font-size="6.3" fill="#333" text-anchor="middle" stroke="#333" stroke-width="0.1">*</text>
<text x="97.703" y="628.8999999999999" font-size="6.3" fill="#333" text-anchor="middle" stroke="#333" stroke-width="0.1">**</text>
<text x="119.004" y="628.8999999999999" font-size="6.3" fill="#333" text-anchor="middle" stroke="#333" stroke-width="0.1">**</text>
<text x="146.5" y="628.8999999999999" font-size="6.3" fill="#333" text-anchor="middle" stroke="#333" stroke-width="0.1">**</text>
<text x="161.4" y="229.6" font-size="11.6" font-weight="bold" fill="#111" >C</text>
<line x1="197.6" y1="334.5" x2="197.6" y2="257.7" stroke="#222" stroke-width="1.3" />
<line x1="195.0" y1="334.5" x2="197.6" y2="334.5" stroke="#222" stroke-width="1.0" />
<text x="190.79999999999998" y="336.8" font-size="8.6" text-anchor="end" textLength="11.8" lengthAdjust="spacingAndGlyphs" stroke="#222" stroke-width="0.12">0.0</text>
<line x1="195.0" y1="309.1666666666667" x2="197.6" y2="309.1666666666667" stroke="#222" stroke-width="1.0" />
<text x="190.79999999999998" y="311.4666666666667" font-size="8.6" text-anchor="end" textLength="11.8" lengthAdjust="spacingAndGlyphs" stroke="#222" stroke-width="0.12">1.0</text>
<line x1="195.0" y1="283.8333333333333" x2="197.6" y2="283.8333333333333" stroke="#222" stroke-width="1.0" />
<text x="190.79999999999998" y="286.1333333333333" font-size="8.6" text-anchor="end" textLength="11.8" lengthAdjust="spacingAndGlyphs" stroke="#222" stroke-width="0.12">2.0</text>
<line x1="195.0" y1="258.5" x2="197.6" y2="258.5" stroke="#222" stroke-width="1.0" />
<text x="190.79999999999998" y="260.8" font-size="8.6" text-anchor="end" textLength="11.8" lengthAdjust="spacingAndGlyphs" stroke="#222" stroke-width="0.12">3.0</text>
<line x1="197.0" y1="334.5" x2="294.8" y2="334.5" stroke="#222" stroke-width="1.3" />
<line x1="298.2" y1="334.5" x2="313.0" y2="334.5" stroke="#222" stroke-width="1.3" />
<line x1="294.8" y1="331.1" x2="294.8" y2="337.9" stroke="#222" stroke-width="1.0" />
<line x1="298.2" y1="331.1" x2="298.2" y2="337.9" stroke="#222" stroke-width="1.0" />
<line x1="197.6" y1="334.5" x2="197.6" y2="336.9" stroke="#222" stroke-width="1.0" />
<text x="197.6" y="348.9" font-size="8.6" text-anchor="middle" textLength="4.6" lengthAdjust="spacingAndGlyphs" stroke="#222" stroke-width="0.12">0</text>
<line x1="218.901" y1="334.5" x2="218.901" y2="336.9" stroke="#222" stroke-width="1.0" />
<text x="218.901" y="348.9" font-size="8.6" text-anchor="middle" textLength="4.6" lengthAdjust="spacingAndGlyphs" stroke="#222" stroke-width="0.12">7</text>
<line x1="240.202" y1="334.5" x2="240.202" y2="336.9" stroke="#222" stroke-width="1.0" />
<text x="240.202" y="348.9" font-size="8.6" text-anchor="middle" textLength="9.0" lengthAdjust="spacingAndGlyphs" stroke="#222" stroke-width="0.12">14</text>
<line x1="261.503" y1="334.5" x2="261.503" y2="336.9" stroke="#222" stroke-width="1.0" />
<text x="261.503" y="348.9" font-size="8.6" text-anchor="middle" textLength="9.0" lengthAdjust="spacingAndGlyphs" stroke="#222" stroke-width="0.12">21</text>
<line x1="282.804" y1="334.5" x2="282.804" y2="336.9" stroke="#222" stroke-width="1.0" />
<text x="282.804" y="348.9" font-size="8.6" text-anchor="middle" textLength="9.0" lengthAdjust="spacingAndGlyphs" stroke="#222" stroke-width="0.12">28</text>
<line x1="310.3" y1="334.5" x2="310.3" y2="336.9" stroke="#222" stroke-width="1.0" />
<text x="310.3" y="348.9" font-size="8.6" text-anchor="middle" textLength="9.0" lengthAdjust="spacingAndGlyphs" stroke="#222" stroke-width="0.12">56</text>
<text transform="translate(172.4,296.5) rotate(-90)" font-size="9.8" font-weight="bold" fill="#1a1a1a" textLength="37.2" lengthAdjust="spacingAndGlyphs" text-anchor="middle" stroke="#1a1a1a" stroke-width="0.25">Fold change</text>
<path d="M197.60,309.17 L206.73,312.46 L218.90,310.43 L240.20,308.15 L261.50,306.13 L282.80,307.65" fill="none" stroke="#c6c6c6" stroke-width="1.0" stroke-linejoin="round"/>
<path d="M282.80,307.65 L310.30,305.37" fill="none" stroke="#c6c6c6" stroke-width="1.0" stroke-dasharray="7.5 3.2 4 2 60"/>
<path d="M197.60,309.17 L206.73,321.83 L218.90,306.63 L240.20,305.37 L261.50,301.82 L282.80,304.10" fill="none" stroke="#7fa85f" stroke-width="1.15" stroke-linejoin="round"/>
<path d="M282.80,304.10 L310.30,311.19" fill="none" stroke="#7fa85f" stroke-width="1.15" stroke-dasharray="7.5 3.2 4 2 60"/>
<path d="M197.60,309.17 L206.73,322.59 L218.90,304.10 L240.20,288.65 L261.50,290.42 L282.80,294.47" fill="none" stroke="#963048" stroke-width="1.15" stroke-linejoin="round"/>
<path d="M282.80,294.47 L310.30,301.82" fill="none" stroke="#963048" stroke-width="1.15" stroke-dasharray="7.5 3.2 4 2 60"/>
<path d="M197.60,309.17 L206.73,321.58 L218.90,301.82 L240.20,287.89 L261.50,283.07 L282.80,293.21" fill="none" stroke="#3c4d7c" stroke-width="1.15" stroke-linejoin="round"/>
<path d="M282.80,293.21 L310.30,288.14" fill="none" stroke="#3c4d7c" stroke-width="1.15" stroke-dasharray="7.5 3.2 4 2 60"/>
<line x1="206.72899999999998" y1="310.43333333333334" x2="206.72899999999998" y2="314.4866666666667" stroke="#444" stroke-width="0.7" />
<line x1="205.22899999999998" y1="310.43333333333334" x2="208.22899999999998" y2="310.43333333333334" stroke="#444" stroke-width="0.8" />
<line x1="205.22899999999998" y1="314.4866666666667" x2="208.22899999999998" y2="314.4866666666667" stroke="#444" stroke-width="0.8" />
<line x1="218.901" y1="307.9" x2="218.901" y2="312.9666666666667" stroke="#444" stroke-width="0.7" />
<line x1="217.401" y1="307.9" x2="220.401" y2="307.9" stroke="#444" stroke-width="0.8" />
<line x1="217.401" y1="312.9666666666667" x2="220.401" y2="312.9666666666667" stroke="#444" stroke-width="0.8" />
<line x1="240.202" y1="305.62" x2="240.202" y2="310.68666666666667" stroke="#444" stroke-width="0.7" />
<line x1="238.702" y1="305.62" x2="241.702" y2="305.62" stroke="#444" stroke-width="0.8" />
<line x1="238.702" y1="310.68666666666667" x2="241.702" y2="310.68666666666667" stroke="#444" stroke-width="0.8" />
<line x1="261.503" y1="303.5933333333333" x2="261.503" y2="308.66" stroke="#444" stroke-width="0.7" />
<line x1="260.003" y1="303.5933333333333" x2="263.003" y2="303.5933333333333" stroke="#444" stroke-width="0.8" />
<line x1="260.003" y1="308.66" x2="263.003" y2="308.66" stroke="#444" stroke-width="0.8" />
<line x1="282.804" y1="304.6066666666667" x2="282.804" y2="310.68666666666667" stroke="#444" stroke-width="0.7" />
<line x1="281.304" y1="304.6066666666667" x2="284.304" y2="304.6066666666667" stroke="#444" stroke-width="0.8" />
<line x1="281.304" y1="310.68666666666667" x2="284.304" y2="310.68666666666667" stroke="#444" stroke-width="0.8" />
<line x1="310.3" y1="302.8333333333333" x2="310.3" y2="307.9" stroke="#444" stroke-width="0.7" />
<line x1="308.8" y1="302.8333333333333" x2="311.8" y2="302.8333333333333" stroke="#444" stroke-width="0.8" />
<line x1="308.8" y1="307.9" x2="311.8" y2="307.9" stroke="#444" stroke-width="0.8" />
<line x1="206.72899999999998" y1="320.56666666666666" x2="206.72899999999998" y2="323.1" stroke="#444" stroke-width="0.7" />
<line x1="205.22899999999998" y1="320.56666666666666" x2="208.22899999999998" y2="320.56666666666666" stroke="#444" stroke-width="0.8" />
<line x1="205.22899999999998" y1="323.1" x2="208.22899999999998" y2="323.1" stroke="#444" stroke-width="0.8" />
<line x1="218.901" y1="303.5933333333333" x2="218.901" y2="309.67333333333335" stroke="#444" stroke-width="0.7" />
<line x1="217.401" y1="303.5933333333333" x2="220.401" y2="303.5933333333333" stroke="#444" stroke-width="0.8" />
<line x1="217.401" y1="309.67333333333335" x2="220.401" y2="309.67333333333335" stroke="#444" stroke-width="0.8" />
<line x1="240.202" y1="302.32666666666665" x2="240.202" y2="308.4066666666667" stroke="#444" stroke-width="0.7" />
<line x1="238.702" y1="302.32666666666665" x2="241.702" y2="302.32666666666665" stroke="#444" stroke-width="0.8" />
<line x1="238.702" y1="308.4066666666667" x2="241.702" y2="308.4066666666667" stroke="#444" stroke-width="0.8" />
<line x1="261.503" y1="298.78" x2="261.503" y2="304.86" stroke="#444" stroke-width="0.7" />
<line x1="260.003" y1="298.78" x2="263.003" y2="298.78" stroke="#444" stroke-width="0.8" />
<line x1="260.003" y1="304.86" x2="263.003" y2="304.86" stroke="#444" stroke-width="0.8" />
<line x1="282.804" y1="301.06" x2="282.804" y2="307.14" stroke="#444" stroke-width="0.7" />
<line x1="281.304" y1="301.06" x2="284.304" y2="301.06" stroke="#444" stroke-width="0.8" />
<line x1="281.304" y1="307.14" x2="284.304" y2="307.14" stroke="#444" stroke-width="0.8" />
<line x1="310.3" y1="309.67333333333335" x2="310.3" y2="312.7133333333333" stroke="#444" stroke-width="0.7" />
<line x1="308.8" y1="309.67333333333335" x2="311.8" y2="309.67333333333335" stroke="#444" stroke-width="0.8" />
<line x1="308.8" y1="312.7133333333333" x2="311.8" y2="312.7133333333333" stroke="#444" stroke-width="0.8" />
<line x1="206.72899999999998" y1="321.0733333333333" x2="206.72899999999998" y2="324.11333333333334" stroke="#444" stroke-width="0.7" />
<line x1="205.22899999999998" y1="321.0733333333333" x2="208.22899999999998" y2="321.0733333333333" stroke="#444" stroke-width="0.8" />
<line x1="205.22899999999998" y1="324.11333333333334" x2="208.22899999999998" y2="324.11333333333334" stroke="#444" stroke-width="0.8" />
<line x1="218.901" y1="301.06" x2="218.901" y2="307.14" stroke="#444" stroke-width="0.7" />
<line x1="217.401" y1="301.06" x2="220.401" y2="301.06" stroke="#444" stroke-width="0.8" />
<line x1="217.401" y1="307.14" x2="220.401" y2="307.14" stroke="#444" stroke-width="0.8" />
<line x1="240.202" y1="284.8466666666667" x2="240.202" y2="292.44666666666666" stroke="#444" stroke-width="0.7" />
<line x1="238.702" y1="284.8466666666667" x2="241.702" y2="284.8466666666667" stroke="#444" stroke-width="0.8" />
<line x1="238.702" y1="292.44666666666666" x2="241.702" y2="292.44666666666666" stroke="#444" stroke-width="0.8" />
<line x1="261.503" y1="287.88666666666666" x2="261.503" y2="292.9533333333333" stroke="#444" stroke-width="0.7" />
<line x1="260.003" y1="287.88666666666666" x2="263.003" y2="287.88666666666666" stroke="#444" stroke-width="0.8" />
<line x1="260.003" y1="292.9533333333333" x2="263.003" y2="292.9533333333333" stroke="#444" stroke-width="0.8" />
<line x1="282.804" y1="291.43333333333334" x2="282.804" y2="297.5133333333333" stroke="#444" stroke-width="0.7" />
<line x1="281.304" y1="291.43333333333334" x2="284.304" y2="291.43333333333334" stroke="#444" stroke-width="0.8" />
<line x1="281.304" y1="297.5133333333333" x2="284.304" y2="297.5133333333333" stroke="#444" stroke-width="0.8" />
<line x1="310.3" y1="298.02" x2="310.3" y2="305.62" stroke="#444" stroke-width="0.7" />
<line x1="308.8" y1="298.02" x2="311.8" y2="298.02" stroke="#444" stroke-width="0.8" />
<line x1="308.8" y1="305.62" x2="311.8" y2="305.62" stroke="#444" stroke-width="0.8" />
<line x1="206.72899999999998" y1="320.06" x2="206.72899999999998" y2="323.1" stroke="#444" stroke-width="0.7" />
<line x1="205.22899999999998" y1="320.06" x2="208.22899999999998" y2="320.06" stroke="#444" stroke-width="0.8" />
<line x1="205.22899999999998" y1="323.1" x2="208.22899999999998" y2="323.1" stroke="#444" stroke-width="0.8" />
<line x1="218.901" y1="298.02" x2="218.901" y2="305.62" stroke="#444" stroke-width="0.7" />
<line x1="217.401" y1="298.02" x2="220.401" y2="298.02" stroke="#444" stroke-width="0.8" />
<line x1="217.401" y1="305.62" x2="220.401" y2="305.62" stroke="#444" stroke-width="0.8" />
<line x1="240.202" y1="284.08666666666664" x2="240.202" y2="291.68666666666667" stroke="#444" stroke-width="0.7" />
<line x1="238.702" y1="284.08666666666664" x2="241.702" y2="284.08666666666664" stroke="#444" stroke-width="0.8" />
<line x1="238.702" y1="291.68666666666667" x2="241.702" y2="291.68666666666667" stroke="#444" stroke-width="0.8" />
<line x1="261.503" y1="280.54" x2="261.503" y2="285.6066666666667" stroke="#444" stroke-width="0.7" />
<line x1="260.003" y1="280.54" x2="263.003" y2="280.54" stroke="#444" stroke-width="0.8" />
<line x1="260.003" y1="285.6066666666667" x2="263.003" y2="285.6066666666667" stroke="#444" stroke-width="0.8" />
<line x1="282.804" y1="289.4066666666667" x2="282.804" y2="297.00666666666666" stroke="#444" stroke-width="0.7" />
<line x1="281.304" y1="289.4066666666667" x2="284.304" y2="289.4066666666667" stroke="#444" stroke-width="0.8" />
<line x1="281.304" y1="297.00666666666666" x2="284.304" y2="297.00666666666666" stroke="#444" stroke-width="0.8" />
<line x1="310.3" y1="284.34000000000003" x2="310.3" y2="291.94" stroke="#444" stroke-width="0.7" />
<line x1="308.8" y1="284.34000000000003" x2="311.8" y2="284.34000000000003" stroke="#444" stroke-width="0.8" />
<line x1="308.8" y1="291.94" x2="311.8" y2="291.94" stroke="#444" stroke-width="0.8" />
<path d="M204.86,311.10 L208.60,311.10 L206.73,314.50 Z" fill="#fff" stroke="#555555" stroke-width="0.8"/>
<path d="M217.03,309.07 L220.77,309.07 L218.90,312.47 Z" fill="#fff" stroke="#555555" stroke-width="0.8"/>
<path d="M238.33,306.79 L242.07,306.79 L240.20,310.19 Z" fill="#fff" stroke="#555555" stroke-width="0.8"/>
<path d="M259.63,304.77 L263.37,304.77 L261.50,308.17 Z" fill="#fff" stroke="#555555" stroke-width="0.8"/>
<path d="M280.93,306.29 L284.67,306.29 L282.80,309.69 Z" fill="#fff" stroke="#555555" stroke-width="0.8"/>
<path d="M308.43,304.01 L312.17,304.01 L310.30,307.41 Z" fill="#fff" stroke="#555555" stroke-width="0.8"/>
<path d="M206.73,319.43 L208.93,323.43 L204.53,323.43 Z" fill="#2e4a22"/>
<path d="M218.90,304.23 L221.10,308.23 L216.70,308.23 Z" fill="#2e4a22"/>
<path d="M240.20,302.97 L242.40,306.97 L238.00,306.97 Z" fill="#2e4a22"/>
<path d="M261.50,299.42 L263.70,303.42 L259.30,303.42 Z" fill="#2e4a22"/>
<path d="M282.80,301.70 L285.00,305.70 L280.60,305.70 Z" fill="#2e4a22"/>
<path d="M310.30,308.79 L312.50,312.79 L308.10,312.79 Z" fill="#2e4a22"/>
<rect x="204.88" y="320.74" width="3.70" height="3.70" fill="#6a1427"/>
<rect x="217.05" y="302.25" width="3.70" height="3.70" fill="#6a1427"/>
<rect x="238.35" y="286.80" width="3.70" height="3.70" fill="#6a1427"/>
<rect x="259.65" y="288.57" width="3.70" height="3.70" fill="#6a1427"/>
<rect x="280.95" y="292.62" width="3.70" height="3.70" fill="#6a1427"/>
<rect x="308.45" y="299.97" width="3.70" height="3.70" fill="#6a1427"/>
<circle cx="197.60" cy="309.17" r="2.00" fill="#1b2141"/>
<circle cx="206.73" cy="321.58" r="2.00" fill="#1b2141"/>
<circle cx="218.90" cy="301.82" r="2.00" fill="#1b2141"/>
<circle cx="240.20" cy="287.89" r="2.00" fill="#1b2141"/>
<circle cx="261.50" cy="283.07" r="2.00" fill="#1b2141"/>
<circle cx="282.80" cy="293.21" r="2.00" fill="#1b2141"/>
<circle cx="310.30" cy="288.14" r="2.00" fill="#1b2141"/>
<text x="161.2" y="246.1" font-size="8.6" textLength="4.7" lengthAdjust="spacingAndGlyphs" >T</text>
<text x="166.1" y="248.1" font-size="6.3" textLength="4.6" lengthAdjust="spacingAndGlyphs" >N</text>
<line x1="194.4" y1="238.1" x2="200.79999999999998" y2="238.1" stroke="#2e4a22" stroke-width="0.8" />
<path d="M197.60,235.82 L199.69,239.62 L195.51,239.62 Z" fill="#2e4a22"/>
<line x1="194.4" y1="244.3" x2="200.79999999999998" y2="244.3" stroke="#6a1427" stroke-width="0.8" />
<rect x="195.84" y="242.54" width="3.52" height="3.52" fill="#6a1427"/>
<line x1="194.4" y1="250.3" x2="200.79999999999998" y2="250.3" stroke="#1b2141" stroke-width="0.8" />
<circle cx="197.60" cy="250.30" r="1.90" fill="#1b2141"/>
<text x="207.79999999999998" y="240.9" font-size="6.3" fill="#333" text-anchor="middle" stroke="#333" stroke-width="0.1">**</text>
<text x="207.79999999999998" y="247.10000000000002" font-size="6.3" fill="#333" text-anchor="middle" stroke="#333" stroke-width="0.1">**</text>
<text x="207.79999999999998" y="253.10000000000002" font-size="6.3" fill="#333" text-anchor="middle" stroke="#333" stroke-width="0.1">**</text>
<text x="240.202" y="247.10000000000002" font-size="6.3" fill="#333" text-anchor="middle" stroke="#333" stroke-width="0.1">**</text>
<text x="240.202" y="253.10000000000002" font-size="6.3" fill="#333" text-anchor="middle" stroke="#333" stroke-width="0.1">*</text>
<text x="261.503" y="240.9" font-size="6.3" fill="#333" text-anchor="middle" stroke="#333" stroke-width="0.1">*</text>
<text x="261.503" y="247.10000000000002" font-size="6.3" fill="#333" text-anchor="middle" stroke="#333" stroke-width="0.1">**</text>
<text x="261.503" y="253.10000000000002" font-size="6.3" fill="#333" text-anchor="middle" stroke="#333" stroke-width="0.1">**</text>
<text x="282.804" y="247.10000000000002" font-size="6.3" fill="#333" text-anchor="middle" stroke="#333" stroke-width="0.1">**</text>
<text x="282.804" y="253.10000000000002" font-size="6.3" fill="#333" text-anchor="middle" stroke="#333" stroke-width="0.1">*</text>
<text x="310.3" y="253.10000000000002" font-size="6.3" fill="#333" text-anchor="middle" stroke="#333" stroke-width="0.1">**</text>
<text x="225.6" y="231.65" font-size="10.4" textLength="59.0" lengthAdjust="spacingAndGlyphs" >CD4<tspan baseline-shift="3.6" font-size="70%">+</tspan> T cells</text>
<line x1="197.6" y1="460.3" x2="197.6" y2="383.5" stroke="#222" stroke-width="1.3" />
<line x1="195.0" y1="460.3" x2="197.6" y2="460.3" stroke="#222" stroke-width="1.0" />
<text x="190.79999999999998" y="462.6" font-size="8.6" text-anchor="end" textLength="11.8" lengthAdjust="spacingAndGlyphs" stroke="#222" stroke-width="0.12">0.0</text>
<line x1="195.0" y1="434.9666666666667" x2="197.6" y2="434.9666666666667" stroke="#222" stroke-width="1.0" />
<text x="190.79999999999998" y="437.2666666666667" font-size="8.6" text-anchor="end" textLength="11.8" lengthAdjust="spacingAndGlyphs" stroke="#222" stroke-width="0.12">1.0</text>
<line x1="195.0" y1="409.6333333333333" x2="197.6" y2="409.6333333333333" stroke="#222" stroke-width="1.0" />
<text x="190.79999999999998" y="411.93333333333334" font-size="8.6" text-anchor="end" textLength="11.8" lengthAdjust="spacingAndGlyphs" stroke="#222" stroke-width="0.12">2.0</text>
<line x1="195.0" y1="384.3" x2="197.6" y2="384.3" stroke="#222" stroke-width="1.0" />
<text x="190.79999999999998" y="386.6" font-size="8.6" text-anchor="end" textLength="11.8" lengthAdjust="spacingAndGlyphs" stroke="#222" stroke-width="0.12">3.0</text>
<line x1="197.0" y1="460.3" x2="294.8" y2="460.3" stroke="#222" stroke-width="1.3" />
<line x1="298.2" y1="460.3" x2="313.0" y2="460.3" stroke="#222" stroke-width="1.3" />
<line x1="294.8" y1="456.90000000000003" x2="294.8" y2="463.7" stroke="#222" stroke-width="1.0" />
<line x1="298.2" y1="456.90000000000003" x2="298.2" y2="463.7" stroke="#222" stroke-width="1.0" />
<line x1="197.6" y1="460.3" x2="197.6" y2="462.7" stroke="#222" stroke-width="1.0" />
<text x="197.6" y="474.7" font-size="8.6" text-anchor="middle" textLength="4.6" lengthAdjust="spacingAndGlyphs" stroke="#222" stroke-width="0.12">0</text>
<line x1="218.901" y1="460.3" x2="218.901" y2="462.7" stroke="#222" stroke-width="1.0" />
<text x="218.901" y="474.7" font-size="8.6" text-anchor="middle" textLength="4.6" lengthAdjust="spacingAndGlyphs" stroke="#222" stroke-width="0.12">7</text>
<line x1="240.202" y1="460.3" x2="240.202" y2="462.7" stroke="#222" stroke-width="1.0" />
<text x="240.202" y="474.7" font-size="8.6" text-anchor="middle" textLength="9.0" lengthAdjust="spacingAndGlyphs" stroke="#222" stroke-width="0.12">14</text>
<line x1="261.503" y1="460.3" x2="261.503" y2="462.7" stroke="#222" stroke-width="1.0" />
<text x="261.503" y="474.7" font-size="8.6" text-anchor="middle" textLength="9.0" lengthAdjust="spacingAndGlyphs" stroke="#222" stroke-width="0.12">21</text>
<line x1="282.804" y1="460.3" x2="282.804" y2="462.7" stroke="#222" stroke-width="1.0" />
<text x="282.804" y="474.7" font-size="8.6" text-anchor="middle" textLength="9.0" lengthAdjust="spacingAndGlyphs" stroke="#222" stroke-width="0.12">28</text>
<line x1="310.3" y1="460.3" x2="310.3" y2="462.7" stroke="#222" stroke-width="1.0" />
<text x="310.3" y="474.7" font-size="8.6" text-anchor="middle" textLength="9.0" lengthAdjust="spacingAndGlyphs" stroke="#222" stroke-width="0.12">56</text>
<text transform="translate(172.4,422.3) rotate(-90)" font-size="9.8" font-weight="bold" fill="#1a1a1a" textLength="37.2" lengthAdjust="spacingAndGlyphs" text-anchor="middle" stroke="#1a1a1a" stroke-width="0.25">Fold change</text>
<path d="M197.60,434.97 L206.73,428.63 L218.90,434.71 L240.20,433.95 L261.50,435.47 L282.80,429.90" fill="none" stroke="#c6c6c6" stroke-width="1.0" stroke-linejoin="round"/>
<path d="M282.80,429.90 L310.30,437.50" fill="none" stroke="#c6c6c6" stroke-width="1.0" stroke-dasharray="7.5 3.2 4 2 60"/>
<path d="M197.60,434.97 L206.73,445.35 L218.90,431.67 L240.20,428.63 L261.50,431.67 L282.80,423.82" fill="none" stroke="#7fa85f" stroke-width="1.15" stroke-linejoin="round"/>
<path d="M282.80,423.82 L310.30,431.67" fill="none" stroke="#7fa85f" stroke-width="1.15" stroke-dasharray="7.5 3.2 4 2 60"/>
<path d="M197.60,434.97 L206.73,449.15 L218.90,436.23 L240.20,419.77 L261.50,406.59 L282.80,401.27" fill="none" stroke="#963048" stroke-width="1.15" stroke-linejoin="round"/>
<path d="M282.80,401.27 L310.30,418.75" fill="none" stroke="#963048" stroke-width="1.15" stroke-dasharray="7.5 3.2 4 2 60"/>
<path d="M197.60,434.97 L206.73,452.19 L218.90,440.29 L240.20,419.77 L261.50,413.69 L282.80,409.13" fill="none" stroke="#3c4d7c" stroke-width="1.15" stroke-linejoin="round"/>
<path d="M282.80,409.13 L310.30,405.33" fill="none" stroke="#3c4d7c" stroke-width="1.15" stroke-dasharray="7.5 3.2 4 2 60"/>
<line x1="206.72899999999998" y1="426.6066666666667" x2="206.72899999999998" y2="430.66" stroke="#444" stroke-width="0.7" />
<line x1="205.22899999999998" y1="426.6066666666667" x2="208.22899999999998" y2="426.6066666666667" stroke="#444" stroke-width="0.8" />
<line x1="205.22899999999998" y1="430.66" x2="208.22899999999998" y2="430.66" stroke="#444" stroke-width="0.8" />
<line x1="218.901" y1="432.18" x2="218.901" y2="437.24666666666667" stroke="#444" stroke-width="0.7" />
<line x1="217.401" y1="432.18" x2="220.401" y2="432.18" stroke="#444" stroke-width="0.8" />
<line x1="217.401" y1="437.24666666666667" x2="220.401" y2="437.24666666666667" stroke="#444" stroke-width="0.8" />
<line x1="240.202" y1="431.42" x2="240.202" y2="436.4866666666667" stroke="#444" stroke-width="0.7" />
<line x1="238.702" y1="431.42" x2="241.702" y2="431.42" stroke="#444" stroke-width="0.8" />
<line x1="238.702" y1="436.4866666666667" x2="241.702" y2="436.4866666666667" stroke="#444" stroke-width="0.8" />
<line x1="261.503" y1="432.94" x2="261.503" y2="438.00666666666666" stroke="#444" stroke-width="0.7" />
<line x1="260.003" y1="432.94" x2="263.003" y2="432.94" stroke="#444" stroke-width="0.8" />
<line x1="260.003" y1="438.00666666666666" x2="263.003" y2="438.00666666666666" stroke="#444" stroke-width="0.8" />
<line x1="282.804" y1="427.3666666666667" x2="282.804" y2="432.43333333333334" stroke="#444" stroke-width="0.7" />
<line x1="281.304" y1="427.3666666666667" x2="284.304" y2="427.3666666666667" stroke="#444" stroke-width="0.8" />
<line x1="281.304" y1="432.43333333333334" x2="284.304" y2="432.43333333333334" stroke="#444" stroke-width="0.8" />
<line x1="310.3" y1="434.9666666666667" x2="310.3" y2="440.03333333333336" stroke="#444" stroke-width="0.7" />
<line x1="308.8" y1="434.9666666666667" x2="311.8" y2="434.9666666666667" stroke="#444" stroke-width="0.8" />
<line x1="308.8" y1="440.03333333333336" x2="311.8" y2="440.03333333333336" stroke="#444" stroke-width="0.8" />
<line x1="206.72899999999998" y1="443.83333333333337" x2="206.72899999999998" y2="446.87333333333333" stroke="#444" stroke-width="0.7" />
<line x1="205.22899999999998" y1="443.83333333333337" x2="208.22899999999998" y2="443.83333333333337" stroke="#444" stroke-width="0.8" />
<line x1="205.22899999999998" y1="446.87333333333333" x2="208.22899999999998" y2="446.87333333333333" stroke="#444" stroke-width="0.8" />
<line x1="218.901" y1="429.14" x2="218.901" y2="434.2066666666667" stroke="#444" stroke-width="0.7" />
<line x1="217.401" y1="429.14" x2="220.401" y2="429.14" stroke="#444" stroke-width="0.8" />
<line x1="217.401" y1="434.2066666666667" x2="220.401" y2="434.2066666666667" stroke="#444" stroke-width="0.8" />
<line x1="240.202" y1="425.59333333333336" x2="240.202" y2="431.67333333333335" stroke="#444" stroke-width="0.7" />
<line x1="238.702" y1="425.59333333333336" x2="241.702" y2="425.59333333333336" stroke="#444" stroke-width="0.8" />
<line x1="238.702" y1="431.67333333333335" x2="241.702" y2="431.67333333333335" stroke="#444" stroke-width="0.8" />
<line x1="261.503" y1="429.14" x2="261.503" y2="434.2066666666667" stroke="#444" stroke-width="0.7" />
<line x1="260.003" y1="429.14" x2="263.003" y2="429.14" stroke="#444" stroke-width="0.8" />
<line x1="260.003" y1="434.2066666666667" x2="263.003" y2="434.2066666666667" stroke="#444" stroke-width="0.8" />
<line x1="282.804" y1="420.02000000000004" x2="282.804" y2="427.62" stroke="#444" stroke-width="0.7" />
<line x1="281.304" y1="420.02000000000004" x2="284.304" y2="420.02000000000004" stroke="#444" stroke-width="0.8" />
<line x1="281.304" y1="427.62" x2="284.304" y2="427.62" stroke="#444" stroke-width="0.8" />
<line x1="310.3" y1="429.14" x2="310.3" y2="434.2066666666667" stroke="#444" stroke-width="0.7" />
<line x1="308.8" y1="429.14" x2="311.8" y2="429.14" stroke="#444" stroke-width="0.8" />
<line x1="308.8" y1="434.2066666666667" x2="311.8" y2="434.2066666666667" stroke="#444" stroke-width="0.8" />
<line x1="206.72899999999998" y1="447.6333333333333" x2="206.72899999999998" y2="450.67333333333335" stroke="#444" stroke-width="0.7" />
<line x1="205.22899999999998" y1="447.6333333333333" x2="208.22899999999998" y2="447.6333333333333" stroke="#444" stroke-width="0.8" />
<line x1="205.22899999999998" y1="450.67333333333335" x2="208.22899999999998" y2="450.67333333333335" stroke="#444" stroke-width="0.8" />
<line x1="218.901" y1="433.1933333333333" x2="218.901" y2="439.27333333333337" stroke="#444" stroke-width="0.7" />
<line x1="217.401" y1="433.1933333333333" x2="220.401" y2="433.1933333333333" stroke="#444" stroke-width="0.8" />
<line x1="217.401" y1="439.27333333333337" x2="220.401" y2="439.27333333333337" stroke="#444" stroke-width="0.8" />
<line x1="240.202" y1="414.7" x2="240.202" y2="424.83333333333337" stroke="#444" stroke-width="0.7" />
<line x1="238.702" y1="414.7" x2="241.702" y2="414.7" stroke="#444" stroke-width="0.8" />
<line x1="238.702" y1="424.83333333333337" x2="241.702" y2="424.83333333333337" stroke="#444" stroke-width="0.8" />
<line x1="261.503" y1="400.26" x2="261.503" y2="412.9266666666667" stroke="#444" stroke-width="0.7" />
<line x1="260.003" y1="400.26" x2="263.003" y2="400.26" stroke="#444" stroke-width="0.8" />
<line x1="260.003" y1="412.9266666666667" x2="263.003" y2="412.9266666666667" stroke="#444" stroke-width="0.8" />
<line x1="282.804" y1="396.2066666666667" x2="282.804" y2="406.34000000000003" stroke="#444" stroke-width="0.7" />
<line x1="281.304" y1="396.2066666666667" x2="284.304" y2="396.2066666666667" stroke="#444" stroke-width="0.8" />
<line x1="281.304" y1="406.34000000000003" x2="284.304" y2="406.34000000000003" stroke="#444" stroke-width="0.8" />
<line x1="310.3" y1="416.7266666666667" x2="310.3" y2="420.78000000000003" stroke="#444" stroke-width="0.7" />
<line x1="308.8" y1="416.7266666666667" x2="311.8" y2="416.7266666666667" stroke="#444" stroke-width="0.8" />
<line x1="308.8" y1="420.78000000000003" x2="311.8" y2="420.78000000000003" stroke="#444" stroke-width="0.8" />
<line x1="206.72899999999998" y1="450.9266666666667" x2="206.72899999999998" y2="453.46000000000004" stroke="#444" stroke-width="0.7" />
<line x1="205.22899999999998" y1="450.9266666666667" x2="208.22899999999998" y2="450.9266666666667" stroke="#444" stroke-width="0.8" />
<line x1="205.22899999999998" y1="453.46000000000004" x2="208.22899999999998" y2="453.46000000000004" stroke="#444" stroke-width="0.8" />
<line x1="218.901" y1="438.26" x2="218.901" y2="442.31333333333333" stroke="#444" stroke-width="0.7" />
<line x1="217.401" y1="438.26" x2="220.401" y2="438.26" stroke="#444" stroke-width="0.8" />
<line x1="217.401" y1="442.31333333333333" x2="220.401" y2="442.31333333333333" stroke="#444" stroke-width="0.8" />
<line x1="240.202" y1="414.7" x2="240.202" y2="424.83333333333337" stroke="#444" stroke-width="0.7" />
<line x1="238.702" y1="414.7" x2="241.702" y2="414.7" stroke="#444" stroke-width="0.8" />
<line x1="238.702" y1="424.83333333333337" x2="241.702" y2="424.83333333333337" stroke="#444" stroke-width="0.8" />
<line x1="261.503" y1="406.0866666666667" x2="261.503" y2="421.2866666666667" stroke="#444" stroke-width="0.7" />
<line x1="260.003" y1="406.0866666666667" x2="263.003" y2="406.0866666666667" stroke="#444" stroke-width="0.8" />
<line x1="260.003" y1="421.2866666666667" x2="263.003" y2="421.2866666666667" stroke="#444" stroke-width="0.8" />
<line x1="282.804" y1="400.26" x2="282.804" y2="417.99333333333334" stroke="#444" stroke-width="0.7" />
<line x1="281.304" y1="400.26" x2="284.304" y2="400.26" stroke="#444" stroke-width="0.8" />
<line x1="281.304" y1="417.99333333333334" x2="284.304" y2="417.99333333333334" stroke="#444" stroke-width="0.8" />
<line x1="310.3" y1="396.46000000000004" x2="310.3" y2="414.1933333333333" stroke="#444" stroke-width="0.7" />
<line x1="308.8" y1="396.46000000000004" x2="311.8" y2="396.46000000000004" stroke="#444" stroke-width="0.8" />
<line x1="308.8" y1="414.1933333333333" x2="311.8" y2="414.1933333333333" stroke="#444" stroke-width="0.8" />
<path d="M204.86,427.27 L208.60,427.27 L206.73,430.67 Z" fill="#fff" stroke="#555555" stroke-width="0.8"/>
<path d="M217.03,433.35 L220.77,433.35 L218.90,436.75 Z" fill="#fff" stroke="#555555" stroke-width="0.8"/>
<path d="M238.33,432.59 L242.07,432.59 L240.20,435.99 Z" fill="#fff" stroke="#555555" stroke-width="0.8"/>
<path d="M259.63,434.11 L263.37,434.11 L261.50,437.51 Z" fill="#fff" stroke="#555555" stroke-width="0.8"/>
<path d="M280.93,428.54 L284.67,428.54 L282.80,431.94 Z" fill="#fff" stroke="#555555" stroke-width="0.8"/>
<path d="M308.43,436.14 L312.17,436.14 L310.30,439.54 Z" fill="#fff" stroke="#555555" stroke-width="0.8"/>
<path d="M206.73,442.95 L208.93,446.95 L204.53,446.95 Z" fill="#2e4a22"/>
<path d="M218.90,429.27 L221.10,433.27 L216.70,433.27 Z" fill="#2e4a22"/>
<path d="M240.20,426.23 L242.40,430.23 L238.00,430.23 Z" fill="#2e4a22"/>
<path d="M261.50,429.27 L263.70,433.27 L259.30,433.27 Z" fill="#2e4a22"/>
<path d="M282.80,421.42 L285.00,425.42 L280.60,425.42 Z" fill="#2e4a22"/>
<path d="M310.30,429.27 L312.50,433.27 L308.10,433.27 Z" fill="#2e4a22"/>
<rect x="204.88" y="447.30" width="3.70" height="3.70" fill="#6a1427"/>
<rect x="217.05" y="434.38" width="3.70" height="3.70" fill="#6a1427"/>
<rect x="238.35" y="417.92" width="3.70" height="3.70" fill="#6a1427"/>
<rect x="259.65" y="404.74" width="3.70" height="3.70" fill="#6a1427"/>
<rect x="280.95" y="399.42" width="3.70" height="3.70" fill="#6a1427"/>
<rect x="308.45" y="416.90" width="3.70" height="3.70" fill="#6a1427"/>
<circle cx="197.60" cy="434.97" r="2.00" fill="#1b2141"/>
<circle cx="206.73" cy="452.19" r="2.00" fill="#1b2141"/>
<circle cx="218.90" cy="440.29" r="2.00" fill="#1b2141"/>
<circle cx="240.20" cy="419.77" r="2.00" fill="#1b2141"/>
<circle cx="261.50" cy="413.69" r="2.00" fill="#1b2141"/>
<circle cx="282.80" cy="409.13" r="2.00" fill="#1b2141"/>
<circle cx="310.30" cy="405.33" r="2.00" fill="#1b2141"/>
<text x="163.8" y="372.7" font-size="8.6" textLength="4.7" lengthAdjust="spacingAndGlyphs" >T</text>
<text x="168.7" y="375.0" font-size="6.3" textLength="9.2" lengthAdjust="spacingAndGlyphs" >EM</text>
<line x1="194.4" y1="363.9" x2="200.79999999999998" y2="363.9" stroke="#2e4a22" stroke-width="0.8" />
<path d="M197.60,361.62 L199.69,365.42 L195.51,365.42 Z" fill="#2e4a22"/>
<line x1="194.4" y1="370.1" x2="200.79999999999998" y2="370.1" stroke="#6a1427" stroke-width="0.8" />
<rect x="195.84" y="368.34" width="3.52" height="3.52" fill="#6a1427"/>
<line x1="194.4" y1="376.1" x2="200.79999999999998" y2="376.1" stroke="#1b2141" stroke-width="0.8" />
<circle cx="197.60" cy="376.10" r="1.90" fill="#1b2141"/>
<text x="207.79999999999998" y="366.7" font-size="6.3" fill="#333" text-anchor="middle" stroke="#333" stroke-width="0.1">**</text>
<text x="207.79999999999998" y="372.90000000000003" font-size="6.3" fill="#333" text-anchor="middle" stroke="#333" stroke-width="0.1">**</text>
<text x="207.79999999999998" y="378.90000000000003" font-size="6.3" fill="#333" text-anchor="middle" stroke="#333" stroke-width="0.1">**</text>
<text x="218.901" y="378.90000000000003" font-size="6.3" fill="#333" text-anchor="middle" stroke="#333" stroke-width="0.1">*</text>
<text x="261.503" y="372.90000000000003" font-size="6.3" fill="#333" text-anchor="middle" stroke="#333" stroke-width="0.1">**</text>
<text x="282.804" y="366.7" font-size="6.3" fill="#333" text-anchor="middle" stroke="#333" stroke-width="0.1">*</text>
<text x="282.804" y="372.90000000000003" font-size="6.3" fill="#333" text-anchor="middle" stroke="#333" stroke-width="0.1">**</text>
<text x="282.804" y="378.90000000000003" font-size="6.3" fill="#333" text-anchor="middle" stroke="#333" stroke-width="0.1">*</text>
<text x="310.3" y="372.90000000000003" font-size="6.3" fill="#333" text-anchor="middle" stroke="#333" stroke-width="0.1">**</text>
<text x="310.3" y="378.90000000000003" font-size="6.3" fill="#333" text-anchor="middle" stroke="#333" stroke-width="0.1">**</text>
<line x1="197.6" y1="585.6" x2="197.6" y2="508.8" stroke="#222" stroke-width="1.3" />
<line x1="195.0" y1="585.6" x2="197.6" y2="585.6" stroke="#222" stroke-width="1.0" />
<text x="190.79999999999998" y="587.9" font-size="8.6" text-anchor="end" textLength="11.8" lengthAdjust="spacingAndGlyphs" stroke="#222" stroke-width="0.12">0.0</text>
<line x1="195.0" y1="560.2666666666667" x2="197.6" y2="560.2666666666667" stroke="#222" stroke-width="1.0" />
<text x="190.79999999999998" y="562.5666666666666" font-size="8.6" text-anchor="end" textLength="11.8" lengthAdjust="spacingAndGlyphs" stroke="#222" stroke-width="0.12">1.0</text>
<line x1="195.0" y1="534.9333333333334" x2="197.6" y2="534.9333333333334" stroke="#222" stroke-width="1.0" />
<text x="190.79999999999998" y="537.2333333333333" font-size="8.6" text-anchor="end" textLength="11.8" lengthAdjust="spacingAndGlyphs" stroke="#222" stroke-width="0.12">2.0</text>
<line x1="195.0" y1="509.6" x2="197.6" y2="509.6" stroke="#222" stroke-width="1.0" />
<text x="190.79999999999998" y="511.90000000000003" font-size="8.6" text-anchor="end" textLength="11.8" lengthAdjust="spacingAndGlyphs" stroke="#222" stroke-width="0.12">3.0</text>
<line x1="197.0" y1="585.6" x2="294.8" y2="585.6" stroke="#222" stroke-width="1.3" />
<line x1="298.2" y1="585.6" x2="313.0" y2="585.6" stroke="#222" stroke-width="1.3" />
<line x1="294.8" y1="582.2" x2="294.8" y2="589.0" stroke="#222" stroke-width="1.0" />
<line x1="298.2" y1="582.2" x2="298.2" y2="589.0" stroke="#222" stroke-width="1.0" />
<line x1="197.6" y1="585.6" x2="197.6" y2="588.0" stroke="#222" stroke-width="1.0" />
<text x="197.6" y="600.0" font-size="8.6" text-anchor="middle" textLength="4.6" lengthAdjust="spacingAndGlyphs" stroke="#222" stroke-width="0.12">0</text>
<line x1="218.901" y1="585.6" x2="218.901" y2="588.0" stroke="#222" stroke-width="1.0" />
<text x="218.901" y="600.0" font-size="8.6" text-anchor="middle" textLength="4.6" lengthAdjust="spacingAndGlyphs" stroke="#222" stroke-width="0.12">7</text>
<line x1="240.202" y1="585.6" x2="240.202" y2="588.0" stroke="#222" stroke-width="1.0" />
<text x="240.202" y="600.0" font-size="8.6" text-anchor="middle" textLength="9.0" lengthAdjust="spacingAndGlyphs" stroke="#222" stroke-width="0.12">14</text>
<line x1="261.503" y1="585.6" x2="261.503" y2="588.0" stroke="#222" stroke-width="1.0" />
<text x="261.503" y="600.0" font-size="8.6" text-anchor="middle" textLength="9.0" lengthAdjust="spacingAndGlyphs" stroke="#222" stroke-width="0.12">21</text>
<line x1="282.804" y1="585.6" x2="282.804" y2="588.0" stroke="#222" stroke-width="1.0" />
<text x="282.804" y="600.0" font-size="8.6" text-anchor="middle" textLength="9.0" lengthAdjust="spacingAndGlyphs" stroke="#222" stroke-width="0.12">28</text>
<line x1="310.3" y1="585.6" x2="310.3" y2="588.0" stroke="#222" stroke-width="1.0" />
<text x="310.3" y="600.0" font-size="8.6" text-anchor="middle" textLength="9.0" lengthAdjust="spacingAndGlyphs" stroke="#222" stroke-width="0.12">56</text>
<text transform="translate(172.4,547.6) rotate(-90)" font-size="9.8" font-weight="bold" fill="#1a1a1a" textLength="37.2" lengthAdjust="spacingAndGlyphs" text-anchor="middle" stroke="#1a1a1a" stroke-width="0.25">Fold change</text>
<path d="M197.60,560.27 L206.73,556.21 L218.90,560.01 L240.20,558.49 L261.50,556.47 L282.80,552.67" fill="none" stroke="#c6c6c6" stroke-width="1.0" stroke-linejoin="round"/>
<path d="M282.80,552.67 L310.30,560.01" fill="none" stroke="#c6c6c6" stroke-width="1.0" stroke-dasharray="7.5 3.2 4 2 60"/>
<path d="M197.60,560.27 L206.73,573.69 L218.90,561.03 L240.20,551.65 L261.50,556.47 L282.80,548.36" fill="none" stroke="#7fa85f" stroke-width="1.15" stroke-linejoin="round"/>
<path d="M282.80,548.36 L310.30,554.44" fill="none" stroke="#7fa85f" stroke-width="1.15" stroke-dasharray="7.5 3.2 4 2 60"/>
<path d="M197.60,560.27 L206.73,576.73 L218.90,562.29 L240.20,538.73 L261.50,536.45 L282.80,526.83" fill="none" stroke="#963048" stroke-width="1.15" stroke-linejoin="round"/>
<path d="M282.80,526.83 L310.30,543.04" fill="none" stroke="#963048" stroke-width="1.15" stroke-dasharray="7.5 3.2 4 2 60"/>
<path d="M197.60,560.27 L206.73,576.73 L218.90,564.07 L240.20,538.73 L261.50,541.27 L282.80,537.21" fill="none" stroke="#3c4d7c" stroke-width="1.15" stroke-linejoin="round"/>
<path d="M282.80,537.21 L310.30,533.67" fill="none" stroke="#3c4d7c" stroke-width="1.15" stroke-dasharray="7.5 3.2 4 2 60"/>
<line x1="206.72899999999998" y1="554.1866666666667" x2="206.72899999999998" y2="558.24" stroke="#444" stroke-width="0.7" />
<line x1="205.22899999999998" y1="554.1866666666667" x2="208.22899999999998" y2="554.1866666666667" stroke="#444" stroke-width="0.8" />
<line x1="205.22899999999998" y1="558.24" x2="208.22899999999998" y2="558.24" stroke="#444" stroke-width="0.8" />
<line x1="218.901" y1="557.48" x2="218.901" y2="562.5466666666667" stroke="#444" stroke-width="0.7" />
<line x1="217.401" y1="557.48" x2="220.401" y2="557.48" stroke="#444" stroke-width="0.8" />
<line x1="217.401" y1="562.5466666666667" x2="220.401" y2="562.5466666666667" stroke="#444" stroke-width="0.8" />
<line x1="240.202" y1="555.96" x2="240.202" y2="561.0266666666666" stroke="#444" stroke-width="0.7" />
<line x1="238.702" y1="555.96" x2="241.702" y2="555.96" stroke="#444" stroke-width="0.8" />
<line x1="238.702" y1="561.0266666666666" x2="241.702" y2="561.0266666666666" stroke="#444" stroke-width="0.8" />
<line x1="261.503" y1="553.9333333333334" x2="261.503" y2="559.0" stroke="#444" stroke-width="0.7" />
<line x1="260.003" y1="553.9333333333334" x2="263.003" y2="553.9333333333334" stroke="#444" stroke-width="0.8" />
<line x1="260.003" y1="559.0" x2="263.003" y2="559.0" stroke="#444" stroke-width="0.8" />
<line x1="282.804" y1="548.8666666666667" x2="282.804" y2="556.4666666666667" stroke="#444" stroke-width="0.7" />
<line x1="281.304" y1="548.8666666666667" x2="284.304" y2="548.8666666666667" stroke="#444" stroke-width="0.8" />
<line x1="281.304" y1="556.4666666666667" x2="284.304" y2="556.4666666666667" stroke="#444" stroke-width="0.8" />
<line x1="310.3" y1="558.4933333333333" x2="310.3" y2="561.5333333333333" stroke="#444" stroke-width="0.7" />
<line x1="308.8" y1="558.4933333333333" x2="311.8" y2="558.4933333333333" stroke="#444" stroke-width="0.8" />
<line x1="308.8" y1="561.5333333333333" x2="311.8" y2="561.5333333333333" stroke="#444" stroke-width="0.8" />
<line x1="206.72899999999998" y1="572.4266666666667" x2="206.72899999999998" y2="574.96" stroke="#444" stroke-width="0.7" />
<line x1="205.22899999999998" y1="572.4266666666667" x2="208.22899999999998" y2="572.4266666666667" stroke="#444" stroke-width="0.8" />
<line x1="205.22899999999998" y1="574.96" x2="208.22899999999998" y2="574.96" stroke="#444" stroke-width="0.8" />
<line x1="218.901" y1="558.4933333333333" x2="218.901" y2="563.5600000000001" stroke="#444" stroke-width="0.7" />
<line x1="217.401" y1="558.4933333333333" x2="220.401" y2="558.4933333333333" stroke="#444" stroke-width="0.8" />
<line x1="217.401" y1="563.5600000000001" x2="220.401" y2="563.5600000000001" stroke="#444" stroke-width="0.8" />
<line x1="240.202" y1="548.6133333333333" x2="240.202" y2="554.6933333333334" stroke="#444" stroke-width="0.7" />
<line x1="238.702" y1="548.6133333333333" x2="241.702" y2="548.6133333333333" stroke="#444" stroke-width="0.8" />
<line x1="238.702" y1="554.6933333333334" x2="241.702" y2="554.6933333333334" stroke="#444" stroke-width="0.8" />
<line x1="261.503" y1="553.9333333333334" x2="261.503" y2="559.0" stroke="#444" stroke-width="0.7" />
<line x1="260.003" y1="553.9333333333334" x2="263.003" y2="553.9333333333334" stroke="#444" stroke-width="0.8" />
<line x1="260.003" y1="559.0" x2="263.003" y2="559.0" stroke="#444" stroke-width="0.8" />
<line x1="282.804" y1="545.32" x2="282.804" y2="551.4" stroke="#444" stroke-width="0.7" />
<line x1="281.304" y1="545.32" x2="284.304" y2="545.32" stroke="#444" stroke-width="0.8" />
<line x1="281.304" y1="551.4" x2="284.304" y2="551.4" stroke="#444" stroke-width="0.8" />
<line x1="310.3" y1="551.9066666666666" x2="310.3" y2="556.9733333333334" stroke="#444" stroke-width="0.7" />
<line x1="308.8" y1="551.9066666666666" x2="311.8" y2="551.9066666666666" stroke="#444" stroke-width="0.8" />
<line x1="308.8" y1="556.9733333333334" x2="311.8" y2="556.9733333333334" stroke="#444" stroke-width="0.8" />
<line x1="206.72899999999998" y1="575.4666666666667" x2="206.72899999999998" y2="578.0" stroke="#444" stroke-width="0.7" />
<line x1="205.22899999999998" y1="575.4666666666667" x2="208.22899999999998" y2="575.4666666666667" stroke="#444" stroke-width="0.8" />
<line x1="205.22899999999998" y1="578.0" x2="208.22899999999998" y2="578.0" stroke="#444" stroke-width="0.8" />
<line x1="218.901" y1="559.76" x2="218.901" y2="564.8266666666667" stroke="#444" stroke-width="0.7" />
<line x1="217.401" y1="559.76" x2="220.401" y2="559.76" stroke="#444" stroke-width="0.8" />
<line x1="217.401" y1="564.8266666666667" x2="220.401" y2="564.8266666666667" stroke="#444" stroke-width="0.8" />
<line x1="240.202" y1="534.9333333333334" x2="240.202" y2="542.5333333333333" stroke="#444" stroke-width="0.7" />
<line x1="238.702" y1="534.9333333333334" x2="241.702" y2="534.9333333333334" stroke="#444" stroke-width="0.8" />
<line x1="238.702" y1="542.5333333333333" x2="241.702" y2="542.5333333333333" stroke="#444" stroke-width="0.8" />
<line x1="261.503" y1="531.3866666666667" x2="261.503" y2="541.52" stroke="#444" stroke-width="0.7" />
<line x1="260.003" y1="531.3866666666667" x2="263.003" y2="531.3866666666667" stroke="#444" stroke-width="0.8" />
<line x1="260.003" y1="541.52" x2="263.003" y2="541.52" stroke="#444" stroke-width="0.8" />
<line x1="282.804" y1="521.76" x2="282.804" y2="531.8933333333333" stroke="#444" stroke-width="0.7" />
<line x1="281.304" y1="521.76" x2="284.304" y2="521.76" stroke="#444" stroke-width="0.8" />
<line x1="281.304" y1="531.8933333333333" x2="284.304" y2="531.8933333333333" stroke="#444" stroke-width="0.8" />
<line x1="310.3" y1="540.5066666666667" x2="310.3" y2="545.5733333333334" stroke="#444" stroke-width="0.7" />
<line x1="308.8" y1="540.5066666666667" x2="311.8" y2="540.5066666666667" stroke="#444" stroke-width="0.8" />
<line x1="308.8" y1="545.5733333333334" x2="311.8" y2="545.5733333333334" stroke="#444" stroke-width="0.8" />
<line x1="206.72899999999998" y1="575.4666666666667" x2="206.72899999999998" y2="578.0" stroke="#444" stroke-width="0.7" />
<line x1="205.22899999999998" y1="575.4666666666667" x2="208.22899999999998" y2="575.4666666666667" stroke="#444" stroke-width="0.8" />
<line x1="205.22899999999998" y1="578.0" x2="208.22899999999998" y2="578.0" stroke="#444" stroke-width="0.8" />
<line x1="218.901" y1="561.5333333333333" x2="218.901" y2="566.6" stroke="#444" stroke-width="0.7" />
<line x1="217.401" y1="561.5333333333333" x2="220.401" y2="561.5333333333333" stroke="#444" stroke-width="0.8" />
<line x1="217.401" y1="566.6" x2="220.401" y2="566.6" stroke="#444" stroke-width="0.8" />
<line x1="240.202" y1="534.9333333333334" x2="240.202" y2="542.5333333333333" stroke="#444" stroke-width="0.7" />
<line x1="238.702" y1="534.9333333333334" x2="241.702" y2="534.9333333333334" stroke="#444" stroke-width="0.8" />
<line x1="238.702" y1="542.5333333333333" x2="241.702" y2="542.5333333333333" stroke="#444" stroke-width="0.8" />
<line x1="261.503" y1="537.4666666666667" x2="261.503" y2="545.0666666666667" stroke="#444" stroke-width="0.7" />
<line x1="260.003" y1="537.4666666666667" x2="263.003" y2="537.4666666666667" stroke="#444" stroke-width="0.8" />
<line x1="260.003" y1="545.0666666666667" x2="263.003" y2="545.0666666666667" stroke="#444" stroke-width="0.8" />
<line x1="282.804" y1="532.1466666666666" x2="282.804" y2="542.28" stroke="#444" stroke-width="0.7" />
<line x1="281.304" y1="532.1466666666666" x2="284.304" y2="532.1466666666666" stroke="#444" stroke-width="0.8" />
<line x1="281.304" y1="542.28" x2="284.304" y2="542.28" stroke="#444" stroke-width="0.8" />
<line x1="310.3" y1="527.3333333333334" x2="310.3" y2="540.0" stroke="#444" stroke-width="0.7" />
<line x1="308.8" y1="527.3333333333334" x2="311.8" y2="527.3333333333334" stroke="#444" stroke-width="0.8" />
<line x1="308.8" y1="540.0" x2="311.8" y2="540.0" stroke="#444" stroke-width="0.8" />
<path d="M204.86,554.85 L208.60,554.85 L206.73,558.25 Z" fill="#fff" stroke="#555555" stroke-width="0.8"/>
<path d="M217.03,558.65 L220.77,558.65 L218.90,562.05 Z" fill="#fff" stroke="#555555" stroke-width="0.8"/>
<path d="M238.33,557.13 L242.07,557.13 L240.20,560.53 Z" fill="#fff" stroke="#555555" stroke-width="0.8"/>
<path d="M259.63,555.11 L263.37,555.11 L261.50,558.51 Z" fill="#fff" stroke="#555555" stroke-width="0.8"/>
<path d="M280.93,551.31 L284.67,551.31 L282.80,554.71 Z" fill="#fff" stroke="#555555" stroke-width="0.8"/>
<path d="M308.43,558.65 L312.17,558.65 L310.30,562.05 Z" fill="#fff" stroke="#555555" stroke-width="0.8"/>
<path d="M206.73,571.29 L208.93,575.29 L204.53,575.29 Z" fill="#2e4a22"/>
<path d="M218.90,558.63 L221.10,562.63 L216.70,562.63 Z" fill="#2e4a22"/>
<path d="M240.20,549.25 L242.40,553.25 L238.00,553.25 Z" fill="#2e4a22"/>
<path d="M261.50,554.07 L263.70,558.07 L259.30,558.07 Z" fill="#2e4a22"/>
<path d="M282.80,545.96 L285.00,549.96 L280.60,549.96 Z" fill="#2e4a22"/>
<path d="M310.30,552.04 L312.50,556.04 L308.10,556.04 Z" fill="#2e4a22"/>
<rect x="204.88" y="574.88" width="3.70" height="3.70" fill="#6a1427"/>
<rect x="217.05" y="560.44" width="3.70" height="3.70" fill="#6a1427"/>
<rect x="238.35" y="536.88" width="3.70" height="3.70" fill="#6a1427"/>
<rect x="259.65" y="534.60" width="3.70" height="3.70" fill="#6a1427"/>
<rect x="280.95" y="524.98" width="3.70" height="3.70" fill="#6a1427"/>
<rect x="308.45" y="541.19" width="3.70" height="3.70" fill="#6a1427"/>
<circle cx="197.60" cy="560.27" r="2.00" fill="#1b2141"/>
<circle cx="206.73" cy="576.73" r="2.00" fill="#1b2141"/>
<circle cx="218.90" cy="564.07" r="2.00" fill="#1b2141"/>
<circle cx="240.20" cy="538.73" r="2.00" fill="#1b2141"/>
<circle cx="261.50" cy="541.27" r="2.00" fill="#1b2141"/>
<circle cx="282.80" cy="537.21" r="2.00" fill="#1b2141"/>
<circle cx="310.30" cy="533.67" r="2.00" fill="#1b2141"/>
<text x="164.5" y="496.1" font-size="8.6" textLength="4.7" lengthAdjust="spacingAndGlyphs" >T</text>
<text x="168.8" y="498.8" font-size="6.3" textLength="10.1" lengthAdjust="spacingAndGlyphs" >CM</text>
<line x1="194.4" y1="489.20000000000005" x2="200.79999999999998" y2="489.20000000000005" stroke="#2e4a22" stroke-width="0.8" />
<path d="M197.60,486.92 L199.69,490.72 L195.51,490.72 Z" fill="#2e4a22"/>
<line x1="194.4" y1="495.40000000000003" x2="200.79999999999998" y2="495.40000000000003" stroke="#6a1427" stroke-width="0.8" />
<rect x="195.84" y="493.64" width="3.52" height="3.52" fill="#6a1427"/>
<line x1="194.4" y1="501.40000000000003" x2="200.79999999999998" y2="501.40000000000003" stroke="#1b2141" stroke-width="0.8" />
<circle cx="197.60" cy="501.40" r="1.90" fill="#1b2141"/>
<text x="207.79999999999998" y="492.00000000000006" font-size="6.3" fill="#333" text-anchor="middle" stroke="#333" stroke-width="0.1">**</text>
<text x="207.79999999999998" y="498.20000000000005" font-size="6.3" fill="#333" text-anchor="middle" stroke="#333" stroke-width="0.1">**</text>
<text x="207.79999999999998" y="504.20000000000005" font-size="6.3" fill="#333" text-anchor="middle" stroke="#333" stroke-width="0.1">**</text>
<text x="240.202" y="492.00000000000006" font-size="6.3" fill="#333" text-anchor="middle" stroke="#333" stroke-width="0.1">*</text>
<text x="240.202" y="498.20000000000005" font-size="6.3" fill="#333" text-anchor="middle" stroke="#333" stroke-width="0.1">**</text>
<text x="240.202" y="504.20000000000005" font-size="6.3" fill="#333" text-anchor="middle" stroke="#333" stroke-width="0.1">**</text>
<text x="261.503" y="492.00000000000006" font-size="6.3" fill="#333" text-anchor="middle" stroke="#333" stroke-width="0.1">*</text>
<text x="261.503" y="498.20000000000005" font-size="6.3" fill="#333" text-anchor="middle" stroke="#333" stroke-width="0.1">**</text>
<text x="261.503" y="504.20000000000005" font-size="6.3" fill="#333" text-anchor="middle" stroke="#333" stroke-width="0.1">**</text>
<text x="282.804" y="492.00000000000006" font-size="6.3" fill="#333" text-anchor="middle" stroke="#333" stroke-width="0.1">**</text>
<text x="282.804" y="498.20000000000005" font-size="6.3" fill="#333" text-anchor="middle" stroke="#333" stroke-width="0.1">**</text>
<text x="282.804" y="504.20000000000005" font-size="6.3" fill="#333" text-anchor="middle" stroke="#333" stroke-width="0.1">*</text>
<text x="310.3" y="498.20000000000005" font-size="6.3" fill="#333" text-anchor="middle" stroke="#333" stroke-width="0.1">**</text>
<text x="310.3" y="504.20000000000005" font-size="6.3" fill="#333" text-anchor="middle" stroke="#333" stroke-width="0.1">**</text>
<line x1="197.6" y1="710.3" x2="197.6" y2="633.5" stroke="#222" stroke-width="1.3" />
<line x1="195.0" y1="710.3" x2="197.6" y2="710.3" stroke="#222" stroke-width="1.0" />
<text x="190.79999999999998" y="712.5999999999999" font-size="8.6" text-anchor="end" textLength="11.8" lengthAdjust="spacingAndGlyphs" stroke="#222" stroke-width="0.12">0.0</text>
<line x1="195.0" y1="691.3" x2="197.6" y2="691.3" stroke="#222" stroke-width="1.0" />
<text x="190.79999999999998" y="693.5999999999999" font-size="8.6" text-anchor="end" textLength="11.8" lengthAdjust="spacingAndGlyphs" stroke="#222" stroke-width="0.12">1.0</text>
<line x1="195.0" y1="672.3" x2="197.6" y2="672.3" stroke="#222" stroke-width="1.0" />
<text x="190.79999999999998" y="674.5999999999999" font-size="8.6" text-anchor="end" textLength="11.8" lengthAdjust="spacingAndGlyphs" stroke="#222" stroke-width="0.12">2.0</text>
<line x1="195.0" y1="653.3" x2="197.6" y2="653.3" stroke="#222" stroke-width="1.0" />
<text x="190.79999999999998" y="655.5999999999999" font-size="8.6" text-anchor="end" textLength="11.8" lengthAdjust="spacingAndGlyphs" stroke="#222" stroke-width="0.12">3.0</text>
<line x1="195.0" y1="634.3" x2="197.6" y2="634.3" stroke="#222" stroke-width="1.0" />
<text x="190.79999999999998" y="636.5999999999999" font-size="8.6" text-anchor="end" textLength="11.8" lengthAdjust="spacingAndGlyphs" stroke="#222" stroke-width="0.12">4.0</text>
<line x1="197.0" y1="710.3" x2="294.8" y2="710.3" stroke="#222" stroke-width="1.3" />
<line x1="298.2" y1="710.3" x2="313.0" y2="710.3" stroke="#222" stroke-width="1.3" />
<line x1="294.8" y1="706.9" x2="294.8" y2="713.6999999999999" stroke="#222" stroke-width="1.0" />
<line x1="298.2" y1="706.9" x2="298.2" y2="713.6999999999999" stroke="#222" stroke-width="1.0" />
<line x1="197.6" y1="710.3" x2="197.6" y2="712.6999999999999" stroke="#222" stroke-width="1.0" />
<text x="197.6" y="724.6999999999999" font-size="8.6" text-anchor="middle" textLength="4.6" lengthAdjust="spacingAndGlyphs" stroke="#222" stroke-width="0.12">0</text>
<line x1="218.901" y1="710.3" x2="218.901" y2="712.6999999999999" stroke="#222" stroke-width="1.0" />
<text x="218.901" y="724.6999999999999" font-size="8.6" text-anchor="middle" textLength="4.6" lengthAdjust="spacingAndGlyphs" stroke="#222" stroke-width="0.12">7</text>
<line x1="240.202" y1="710.3" x2="240.202" y2="712.6999999999999" stroke="#222" stroke-width="1.0" />
<text x="240.202" y="724.6999999999999" font-size="8.6" text-anchor="middle" textLength="9.0" lengthAdjust="spacingAndGlyphs" stroke="#222" stroke-width="0.12">14</text>
<line x1="261.503" y1="710.3" x2="261.503" y2="712.6999999999999" stroke="#222" stroke-width="1.0" />
<text x="261.503" y="724.6999999999999" font-size="8.6" text-anchor="middle" textLength="9.0" lengthAdjust="spacingAndGlyphs" stroke="#222" stroke-width="0.12">21</text>
<line x1="282.804" y1="710.3" x2="282.804" y2="712.6999999999999" stroke="#222" stroke-width="1.0" />
<text x="282.804" y="724.6999999999999" font-size="8.6" text-anchor="middle" textLength="9.0" lengthAdjust="spacingAndGlyphs" stroke="#222" stroke-width="0.12">28</text>
<line x1="310.3" y1="710.3" x2="310.3" y2="712.6999999999999" stroke="#222" stroke-width="1.0" />
<text x="310.3" y="724.6999999999999" font-size="8.6" text-anchor="middle" textLength="9.0" lengthAdjust="spacingAndGlyphs" stroke="#222" stroke-width="0.12">56</text>
<text transform="translate(172.4,672.3) rotate(-90)" font-size="9.8" font-weight="bold" fill="#1a1a1a" textLength="37.2" lengthAdjust="spacingAndGlyphs" text-anchor="middle" stroke="#1a1a1a" stroke-width="0.25">Fold change</text>
<path d="M197.60,691.30 L206.73,692.63 L218.90,693.01 L240.20,693.77 L261.50,694.91 L282.80,689.02" fill="none" stroke="#c6c6c6" stroke-width="1.0" stroke-linejoin="round"/>
<path d="M282.80,689.02 L310.30,695.48" fill="none" stroke="#c6c6c6" stroke-width="1.0" stroke-dasharray="7.5 3.2 4 2 60"/>
<path d="M197.60,691.30 L206.73,698.52 L218.90,680.09 L240.20,685.98 L261.50,690.16 L282.80,687.12" fill="none" stroke="#7fa85f" stroke-width="1.15" stroke-linejoin="round"/>
<path d="M282.80,687.12 L310.30,694.53" fill="none" stroke="#7fa85f" stroke-width="1.15" stroke-dasharray="7.5 3.2 4 2 60"/>
<path d="M197.60,691.30 L206.73,693.77 L218.90,687.88 L240.20,680.66 L261.50,680.09 L282.80,669.83" fill="none" stroke="#963048" stroke-width="1.15" stroke-linejoin="round"/>
<path d="M282.80,669.83 L310.30,669.83" fill="none" stroke="#963048" stroke-width="1.15" stroke-dasharray="7.5 3.2 4 2 60"/>
<path d="M197.60,691.30 L206.73,694.91 L218.90,683.13 L240.20,680.66 L261.50,674.01 L282.80,675.91" fill="none" stroke="#3c4d7c" stroke-width="1.15" stroke-linejoin="round"/>
<path d="M282.80,675.91 L310.30,662.04" fill="none" stroke="#3c4d7c" stroke-width="1.15" stroke-dasharray="7.5 3.2 4 2 60"/>
<line x1="206.72899999999998" y1="690.7299999999999" x2="206.72899999999998" y2="694.53" stroke="#444" stroke-width="0.7" />
<line x1="205.22899999999998" y1="690.7299999999999" x2="208.22899999999998" y2="690.7299999999999" stroke="#444" stroke-width="0.8" />
<line x1="205.22899999999998" y1="694.53" x2="208.22899999999998" y2="694.53" stroke="#444" stroke-width="0.8" />
<line x1="218.901" y1="691.1099999999999" x2="218.901" y2="694.91" stroke="#444" stroke-width="0.7" />
<line x1="217.401" y1="691.1099999999999" x2="220.401" y2="691.1099999999999" stroke="#444" stroke-width="0.8" />
<line x1="217.401" y1="694.91" x2="220.401" y2="694.91" stroke="#444" stroke-width="0.8" />
<line x1="240.202" y1="690.92" x2="240.202" y2="696.62" stroke="#444" stroke-width="0.7" />
<line x1="238.702" y1="690.92" x2="241.702" y2="690.92" stroke="#444" stroke-width="0.8" />
<line x1="238.702" y1="696.62" x2="241.702" y2="696.62" stroke="#444" stroke-width="0.8" />
<line x1="261.503" y1="693.01" x2="261.503" y2="696.81" stroke="#444" stroke-width="0.7" />
<line x1="260.003" y1="693.01" x2="263.003" y2="693.01" stroke="#444" stroke-width="0.8" />
<line x1="260.003" y1="696.81" x2="263.003" y2="696.81" stroke="#444" stroke-width="0.8" />
<line x1="282.804" y1="686.17" x2="282.804" y2="691.87" stroke="#444" stroke-width="0.7" />
<line x1="281.304" y1="686.17" x2="284.304" y2="686.17" stroke="#444" stroke-width="0.8" />
<line x1="281.304" y1="691.87" x2="284.304" y2="691.87" stroke="#444" stroke-width="0.8" />
<line x1="310.3" y1="693.9599999999999" x2="310.3" y2="697.0" stroke="#444" stroke-width="0.7" />
<line x1="308.8" y1="693.9599999999999" x2="311.8" y2="693.9599999999999" stroke="#444" stroke-width="0.8" />
<line x1="308.8" y1="697.0" x2="311.8" y2="697.0" stroke="#444" stroke-width="0.8" />
<line x1="206.72899999999998" y1="696.24" x2="206.72899999999998" y2="700.8" stroke="#444" stroke-width="0.7" />
<line x1="205.22899999999998" y1="696.24" x2="208.22899999999998" y2="696.24" stroke="#444" stroke-width="0.8" />
<line x1="205.22899999999998" y1="700.8" x2="208.22899999999998" y2="700.8" stroke="#444" stroke-width="0.8" />
<line x1="218.901" y1="676.29" x2="218.901" y2="683.89" stroke="#444" stroke-width="0.7" />
<line x1="217.401" y1="676.29" x2="220.401" y2="676.29" stroke="#444" stroke-width="0.8" />
<line x1="217.401" y1="683.89" x2="220.401" y2="683.89" stroke="#444" stroke-width="0.8" />
<line x1="240.202" y1="683.13" x2="240.202" y2="688.8299999999999" stroke="#444" stroke-width="0.7" />
<line x1="238.702" y1="683.13" x2="241.702" y2="683.13" stroke="#444" stroke-width="0.8" />
<line x1="238.702" y1="688.8299999999999" x2="241.702" y2="688.8299999999999" stroke="#444" stroke-width="0.8" />
<line x1="261.503" y1="687.31" x2="261.503" y2="693.01" stroke="#444" stroke-width="0.7" />
<line x1="260.003" y1="687.31" x2="263.003" y2="687.31" stroke="#444" stroke-width="0.8" />
<line x1="260.003" y1="693.01" x2="263.003" y2="693.01" stroke="#444" stroke-width="0.8" />
<line x1="282.804" y1="684.27" x2="282.804" y2="689.9699999999999" stroke="#444" stroke-width="0.7" />
<line x1="281.304" y1="684.27" x2="284.304" y2="684.27" stroke="#444" stroke-width="0.8" />
<line x1="281.304" y1="689.9699999999999" x2="284.304" y2="689.9699999999999" stroke="#444" stroke-width="0.8" />
<line x1="310.3" y1="693.01" x2="310.3" y2="696.05" stroke="#444" stroke-width="0.7" />
<line x1="308.8" y1="693.01" x2="311.8" y2="693.01" stroke="#444" stroke-width="0.8" />
<line x1="308.8" y1="696.05" x2="311.8" y2="696.05" stroke="#444" stroke-width="0.8" />
<line x1="206.72899999999998" y1="690.92" x2="206.72899999999998" y2="696.62" stroke="#444" stroke-width="0.7" />
<line x1="205.22899999999998" y1="690.92" x2="208.22899999999998" y2="690.92" stroke="#444" stroke-width="0.8" />
<line x1="205.22899999999998" y1="696.62" x2="208.22899999999998" y2="696.62" stroke="#444" stroke-width="0.8" />
<line x1="218.901" y1="685.03" x2="218.901" y2="690.7299999999999" stroke="#444" stroke-width="0.7" />
<line x1="217.401" y1="685.03" x2="220.401" y2="685.03" stroke="#444" stroke-width="0.8" />
<line x1="217.401" y1="690.7299999999999" x2="220.401" y2="690.7299999999999" stroke="#444" stroke-width="0.8" />
<line x1="240.202" y1="677.81" x2="240.202" y2="683.51" stroke="#444" stroke-width="0.7" />
<line x1="238.702" y1="677.81" x2="241.702" y2="677.81" stroke="#444" stroke-width="0.8" />
<line x1="238.702" y1="683.51" x2="241.702" y2="683.51" stroke="#444" stroke-width="0.8" />
<line x1="261.503" y1="677.24" x2="261.503" y2="682.9399999999999" stroke="#444" stroke-width="0.7" />
<line x1="260.003" y1="677.24" x2="263.003" y2="677.24" stroke="#444" stroke-width="0.8" />
<line x1="260.003" y1="682.9399999999999" x2="263.003" y2="682.9399999999999" stroke="#444" stroke-width="0.8" />
<line x1="282.804" y1="661.28" x2="282.804" y2="678.38" stroke="#444" stroke-width="0.7" />
<line x1="281.304" y1="661.28" x2="284.304" y2="661.28" stroke="#444" stroke-width="0.8" />
<line x1="281.304" y1="678.38" x2="284.304" y2="678.38" stroke="#444" stroke-width="0.8" />
<line x1="310.3" y1="663.18" x2="310.3" y2="676.48" stroke="#444" stroke-width="0.7" />
<line x1="308.8" y1="663.18" x2="311.8" y2="663.18" stroke="#444" stroke-width="0.8" />
<line x1="308.8" y1="676.48" x2="311.8" y2="676.48" stroke="#444" stroke-width="0.8" />
<line x1="206.72899999999998" y1="692.06" x2="206.72899999999998" y2="697.76" stroke="#444" stroke-width="0.7" />
<line x1="205.22899999999998" y1="692.06" x2="208.22899999999998" y2="692.06" stroke="#444" stroke-width="0.8" />
<line x1="205.22899999999998" y1="697.76" x2="208.22899999999998" y2="697.76" stroke="#444" stroke-width="0.8" />
<line x1="218.901" y1="679.3299999999999" x2="218.901" y2="686.93" stroke="#444" stroke-width="0.7" />
<line x1="217.401" y1="679.3299999999999" x2="220.401" y2="679.3299999999999" stroke="#444" stroke-width="0.8" />
<line x1="217.401" y1="686.93" x2="220.401" y2="686.93" stroke="#444" stroke-width="0.8" />
<line x1="240.202" y1="677.81" x2="240.202" y2="683.51" stroke="#444" stroke-width="0.7" />
<line x1="238.702" y1="677.81" x2="241.702" y2="677.81" stroke="#444" stroke-width="0.8" />
<line x1="238.702" y1="683.51" x2="241.702" y2="683.51" stroke="#444" stroke-width="0.8" />
<line x1="261.503" y1="668.31" x2="261.503" y2="679.7099999999999" stroke="#444" stroke-width="0.7" />
<line x1="260.003" y1="668.31" x2="263.003" y2="668.31" stroke="#444" stroke-width="0.8" />
<line x1="260.003" y1="679.7099999999999" x2="263.003" y2="679.7099999999999" stroke="#444" stroke-width="0.8" />
<line x1="282.804" y1="672.1099999999999" x2="282.804" y2="679.7099999999999" stroke="#444" stroke-width="0.7" />
<line x1="281.304" y1="672.1099999999999" x2="284.304" y2="672.1099999999999" stroke="#444" stroke-width="0.8" />
<line x1="281.304" y1="679.7099999999999" x2="284.304" y2="679.7099999999999" stroke="#444" stroke-width="0.8" />
<line x1="310.3" y1="652.54" x2="310.3" y2="671.54" stroke="#444" stroke-width="0.7" />
<line x1="308.8" y1="652.54" x2="311.8" y2="652.54" stroke="#444" stroke-width="0.8" />
<line x1="308.8" y1="671.54" x2="311.8" y2="671.54" stroke="#444" stroke-width="0.8" />
<path d="M204.86,691.27 L208.60,691.27 L206.73,694.67 Z" fill="#fff" stroke="#555555" stroke-width="0.8"/>
<path d="M217.03,691.65 L220.77,691.65 L218.90,695.05 Z" fill="#fff" stroke="#555555" stroke-width="0.8"/>
<path d="M238.33,692.41 L242.07,692.41 L240.20,695.81 Z" fill="#fff" stroke="#555555" stroke-width="0.8"/>
<path d="M259.63,693.55 L263.37,693.55 L261.50,696.95 Z" fill="#fff" stroke="#555555" stroke-width="0.8"/>
<path d="M280.93,687.66 L284.67,687.66 L282.80,691.06 Z" fill="#fff" stroke="#555555" stroke-width="0.8"/>
<path d="M308.43,694.12 L312.17,694.12 L310.30,697.52 Z" fill="#fff" stroke="#555555" stroke-width="0.8"/>
<path d="M206.73,696.12 L208.93,700.12 L204.53,700.12 Z" fill="#2e4a22"/>
<path d="M218.90,677.69 L221.10,681.69 L216.70,681.69 Z" fill="#2e4a22"/>
<path d="M240.20,683.58 L242.40,687.58 L238.00,687.58 Z" fill="#2e4a22"/>
<path d="M261.50,687.76 L263.70,691.76 L259.30,691.76 Z" fill="#2e4a22"/>
<path d="M282.80,684.72 L285.00,688.72 L280.60,688.72 Z" fill="#2e4a22"/>
<path d="M310.30,692.13 L312.50,696.13 L308.10,696.13 Z" fill="#2e4a22"/>
<rect x="204.88" y="691.92" width="3.70" height="3.70" fill="#6a1427"/>
<rect x="217.05" y="686.03" width="3.70" height="3.70" fill="#6a1427"/>
<rect x="238.35" y="678.81" width="3.70" height="3.70" fill="#6a1427"/>
<rect x="259.65" y="678.24" width="3.70" height="3.70" fill="#6a1427"/>
<rect x="280.95" y="667.98" width="3.70" height="3.70" fill="#6a1427"/>
<rect x="308.45" y="667.98" width="3.70" height="3.70" fill="#6a1427"/>
<circle cx="197.60" cy="691.30" r="2.00" fill="#1b2141"/>
<circle cx="206.73" cy="694.91" r="2.00" fill="#1b2141"/>
<circle cx="218.90" cy="683.13" r="2.00" fill="#1b2141"/>
<circle cx="240.20" cy="680.66" r="2.00" fill="#1b2141"/>
<circle cx="261.50" cy="674.01" r="2.00" fill="#1b2141"/>
<circle cx="282.80" cy="675.91" r="2.00" fill="#1b2141"/>
<circle cx="310.30" cy="662.04" r="2.00" fill="#1b2141"/>
<text x="164.2" y="621.2" font-size="8.6" textLength="4.7" lengthAdjust="spacingAndGlyphs" >T</text>
<text x="168.8" y="623.5" font-size="6.3" textLength="18.0" lengthAdjust="spacingAndGlyphs" >EMRA</text>
<line x1="194.4" y1="613.9" x2="200.79999999999998" y2="613.9" stroke="#2e4a22" stroke-width="0.8" />
<path d="M197.60,611.62 L199.69,615.42 L195.51,615.42 Z" fill="#2e4a22"/>
<line x1="194.4" y1="620.0999999999999" x2="200.79999999999998" y2="620.0999999999999" stroke="#6a1427" stroke-width="0.8" />
<rect x="195.84" y="618.34" width="3.52" height="3.52" fill="#6a1427"/>
<line x1="194.4" y1="626.0999999999999" x2="200.79999999999998" y2="626.0999999999999" stroke="#1b2141" stroke-width="0.8" />
<circle cx="197.60" cy="626.10" r="1.90" fill="#1b2141"/>
<text x="207.79999999999998" y="616.6999999999999" font-size="6.3" fill="#333" text-anchor="middle" stroke="#333" stroke-width="0.1">*</text>
<text x="207.79999999999998" y="628.8999999999999" font-size="6.3" fill="#333" text-anchor="middle" stroke="#333" stroke-width="0.1">*</text>
<text x="218.901" y="616.6999999999999" font-size="6.3" fill="#333" text-anchor="middle" stroke="#333" stroke-width="0.1">*</text>
<text x="240.202" y="622.8999999999999" font-size="6.3" fill="#333" text-anchor="middle" stroke="#333" stroke-width="0.1">*</text>
<text x="240.202" y="628.8999999999999" font-size="6.3" fill="#333" text-anchor="middle" stroke="#333" stroke-width="0.1">*</text>
<text x="261.503" y="622.8999999999999" font-size="6.3" fill="#333" text-anchor="middle" stroke="#333" stroke-width="0.1">**</text>
<text x="261.503" y="628.8999999999999" font-size="6.3" fill="#333" text-anchor="middle" stroke="#333" stroke-width="0.1">*</text>
<text x="282.804" y="622.8999999999999" font-size="6.3" fill="#333" text-anchor="middle" stroke="#333" stroke-width="0.1">*</text>
<text x="282.804" y="628.8999999999999" font-size="6.3" fill="#333" text-anchor="middle" stroke="#333" stroke-width="0.1">**</text>
<text x="310.3" y="622.8999999999999" font-size="6.3" fill="#333" text-anchor="middle" stroke="#333" stroke-width="0.1">*</text>
<text x="310.3" y="628.8999999999999" font-size="6.3" fill="#333" text-anchor="middle" stroke="#333" stroke-width="0.1">**</text>
<line x1="34.3" y1="731.1" x2="520" y2="731.1" stroke="#3a3a3a" stroke-width="1.6" />
<text x="245.0" y="743.6" font-size="9.6" font-weight="bold" fill="#1a1a1a" textLength="64.5" lengthAdjust="spacingAndGlyphs" >Dats after treatment</text>
<text x="326.6" y="229.8" font-size="11.4" font-weight="bold" fill="#111" >D</text>
<line x1="378.8" y1="335.20000000000005" x2="378.8" y2="255.4" stroke="#222" stroke-width="1.3" />
<line x1="378.2" y1="334.6" x2="520" y2="334.6" stroke="#222" stroke-width="1.3" />
<line x1="376.2" y1="334.6" x2="378.8" y2="334.6" stroke="#222" stroke-width="1.0" />
<text x="372.3" y="337.5" font-size="8.8" text-anchor="end" textLength="4.75" lengthAdjust="spacingAndGlyphs" stroke="#222" stroke-width="0.15">0</text>
<line x1="376.2" y1="315.57500000000005" x2="378.8" y2="315.57500000000005" stroke="#222" stroke-width="1.0" />
<text x="372.3" y="318.475" font-size="8.8" text-anchor="end" textLength="14.25" lengthAdjust="spacingAndGlyphs" stroke="#222" stroke-width="0.15">100</text>
<line x1="376.2" y1="296.55" x2="378.8" y2="296.55" stroke="#222" stroke-width="1.0" />
<text x="372.3" y="299.45" font-size="8.8" text-anchor="end" textLength="14.25" lengthAdjust="spacingAndGlyphs" stroke="#222" stroke-width="0.15">200</text>
<line x1="376.2" y1="277.52500000000003" x2="378.8" y2="277.52500000000003" stroke="#222" stroke-width="1.0" />
<text x="372.3" y="280.425" font-size="8.8" text-anchor="end" textLength="14.25" lengthAdjust="spacingAndGlyphs" stroke="#222" stroke-width="0.15">300</text>
<line x1="376.2" y1="258.5" x2="378.8" y2="258.5" stroke="#222" stroke-width="1.0" />
<text x="372.3" y="261.4" font-size="8.8" text-anchor="end" textLength="14.25" lengthAdjust="spacingAndGlyphs" stroke="#222" stroke-width="0.15">400</text>
<line x1="413.6" y1="257.4" x2="413.6" y2="333.6" stroke="#444" stroke-width="0.9" stroke-dasharray="1 1"/>
<line x1="449.5" y1="257.4" x2="449.5" y2="333.6" stroke="#444" stroke-width="0.9" stroke-dasharray="1 1"/>
<line x1="485.5" y1="257.4" x2="485.5" y2="333.6" stroke="#444" stroke-width="0.9" stroke-dasharray="1 1"/>
<line x1="385.8" y1="334.6" x2="385.8" y2="337.0" stroke="#222" stroke-width="1.0" />
<line x1="395.9" y1="334.6" x2="395.9" y2="337.0" stroke="#222" stroke-width="1.0" />
<line x1="405.6" y1="334.6" x2="405.6" y2="337.0" stroke="#222" stroke-width="1.0" />
<text x="385.8" y="347.70000000000005" font-size="8.2" text-anchor="middle" textLength="4.5" lengthAdjust="spacingAndGlyphs" stroke="#222" stroke-width="0.15">0</text>
<text x="395.9" y="347.70000000000005" font-size="8.2" text-anchor="middle" textLength="8.4" lengthAdjust="spacingAndGlyphs" stroke="#222" stroke-width="0.15">21</text>
<text x="406.20000000000005" y="347.70000000000005" font-size="8.2" text-anchor="middle" textLength="8.6" lengthAdjust="spacingAndGlyphs" stroke="#222" stroke-width="0.15">56</text>
<line x1="421.9" y1="334.6" x2="421.9" y2="337.0" stroke="#222" stroke-width="1.0" />
<line x1="432.0" y1="334.6" x2="432.0" y2="337.0" stroke="#222" stroke-width="1.0" />
<line x1="441.6" y1="334.6" x2="441.6" y2="337.0" stroke="#222" stroke-width="1.0" />
<text x="421.9" y="347.70000000000005" font-size="8.2" text-anchor="middle" textLength="4.5" lengthAdjust="spacingAndGlyphs" stroke="#222" stroke-width="0.15">0</text>
<text x="432.0" y="347.70000000000005" font-size="8.2" text-anchor="middle" textLength="8.4" lengthAdjust="spacingAndGlyphs" stroke="#222" stroke-width="0.15">21</text>
<text x="442.20000000000005" y="347.70000000000005" font-size="8.2" text-anchor="middle" textLength="8.6" lengthAdjust="spacingAndGlyphs" stroke="#222" stroke-width="0.15">56</text>
<line x1="458.0" y1="334.6" x2="458.0" y2="337.0" stroke="#222" stroke-width="1.0" />
<line x1="467.4" y1="334.6" x2="467.4" y2="337.0" stroke="#222" stroke-width="1.0" />
<line x1="477.5" y1="334.6" x2="477.5" y2="337.0" stroke="#222" stroke-width="1.0" />
<text x="458.0" y="347.70000000000005" font-size="8.2" text-anchor="middle" textLength="4.5" lengthAdjust="spacingAndGlyphs" stroke="#222" stroke-width="0.15">0</text>
<text x="467.4" y="347.70000000000005" font-size="8.2" text-anchor="middle" textLength="8.4" lengthAdjust="spacingAndGlyphs" stroke="#222" stroke-width="0.15">21</text>
<text x="478.1" y="347.70000000000005" font-size="8.2" text-anchor="middle" textLength="8.6" lengthAdjust="spacingAndGlyphs" stroke="#222" stroke-width="0.15">56</text>
<line x1="494.0" y1="334.6" x2="494.0" y2="337.0" stroke="#222" stroke-width="1.0" />
<line x1="503.4" y1="334.6" x2="503.4" y2="337.0" stroke="#222" stroke-width="1.0" />
<line x1="513.1" y1="334.6" x2="513.1" y2="337.0" stroke="#222" stroke-width="1.0" />
<text x="494.0" y="347.70000000000005" font-size="8.2" text-anchor="middle" textLength="4.5" lengthAdjust="spacingAndGlyphs" stroke="#222" stroke-width="0.15">0</text>
<text x="503.4" y="347.70000000000005" font-size="8.2" text-anchor="middle" textLength="8.4" lengthAdjust="spacingAndGlyphs" stroke="#222" stroke-width="0.15">21</text>
<text x="513.7" y="347.70000000000005" font-size="8.2" text-anchor="middle" textLength="8.6" lengthAdjust="spacingAndGlyphs" stroke="#222" stroke-width="0.15">56</text>
<path d="M385.80,321.66 L395.90,320.90 L405.60,312.34" fill="none" stroke="#7ab55a" stroke-width="0.9"/>
<path d="M385.80,323.76 L395.90,323.19 L405.60,318.81" fill="none" stroke="#7ab55a" stroke-width="0.9"/>
<path d="M385.80,326.04 L395.90,325.28 L405.60,323.19" fill="none" stroke="#7ab55a" stroke-width="0.9"/>
<path d="M385.80,328.13 L395.90,327.37 L405.60,326.61" fill="none" stroke="#7ab55a" stroke-width="0.9"/>
<path d="M385.80,330.22 L395.90,329.65 L405.60,330.99" fill="none" stroke="#7ab55a" stroke-width="0.9"/>
<path d="M385.80,332.51 L395.90,331.75 L405.60,323.19" fill="none" stroke="#7ab55a" stroke-width="0.9"/>
<path d="M385.80,326.99 L395.90,328.89 L405.60,330.80" fill="none" stroke="#7ab55a" stroke-width="0.9"/>
<path d="M385.80,330.80 L395.90,332.70 L405.60,326.04" fill="none" stroke="#7ab55a" stroke-width="0.9"/>
<line x1="381.3" y1="327.56075000000004" x2="390.3" y2="327.56075000000004" stroke="#6aa84a" stroke-width="0.9" />
<line x1="391.4" y1="328.1315" x2="400.4" y2="328.1315" stroke="#6aa84a" stroke-width="0.9" />
<line x1="401.1" y1="324.611875" x2="410.1" y2="324.611875" stroke="#6aa84a" stroke-width="0.9" />
<path d="M385.80,319.38 L387.93,323.26 L383.67,323.26 Z" fill="#2f5a24"/>
<path d="M395.90,318.62 L398.03,322.50 L393.77,322.50 Z" fill="#2f5a24"/>
<path d="M405.60,310.06 L407.73,313.94 L403.47,313.94 Z" fill="#2f5a24"/>
<path d="M385.80,321.48 L387.93,325.35 L383.67,325.35 Z" fill="#2f5a24"/>
<path d="M395.90,320.91 L398.03,324.78 L393.77,324.78 Z" fill="#2f5a24"/>
<path d="M405.60,316.53 L407.73,320.41 L403.47,320.41 Z" fill="#2f5a24"/>
<path d="M385.80,323.76 L387.93,327.63 L383.67,327.63 Z" fill="#2f5a24"/>
<path d="M395.90,323.00 L398.03,326.87 L393.77,326.87 Z" fill="#2f5a24"/>
<path d="M405.60,320.91 L407.73,324.78 L403.47,324.78 Z" fill="#2f5a24"/>
<path d="M385.80,325.85 L387.93,329.73 L383.67,329.73 Z" fill="#2f5a24"/>
<path d="M395.90,325.09 L398.03,328.97 L393.77,328.97 Z" fill="#2f5a24"/>
<path d="M405.60,324.33 L407.73,328.21 L403.47,328.21 Z" fill="#2f5a24"/>
<path d="M385.80,327.94 L387.93,331.82 L383.67,331.82 Z" fill="#2f5a24"/>
<path d="M395.90,327.37 L398.03,331.25 L393.77,331.25 Z" fill="#2f5a24"/>
<path d="M405.60,328.71 L407.73,332.58 L403.47,332.58 Z" fill="#2f5a24"/>
<path d="M385.80,330.23 L387.93,334.10 L383.67,334.10 Z" fill="#2f5a24"/>
<path d="M395.90,329.47 L398.03,333.34 L393.77,333.34 Z" fill="#2f5a24"/>
<path d="M405.60,320.91 L407.73,324.78 L403.47,324.78 Z" fill="#2f5a24"/>
<path d="M385.80,324.71 L387.93,328.59 L383.67,328.59 Z" fill="#2f5a24"/>
<path d="M395.90,326.61 L398.03,330.49 L393.77,330.49 Z" fill="#2f5a24"/>
<path d="M405.60,328.52 L407.73,332.39 L403.47,332.39 Z" fill="#2f5a24"/>
<path d="M385.80,328.52 L387.93,332.39 L383.67,332.39 Z" fill="#2f5a24"/>
<path d="M395.90,330.42 L398.03,334.29 L393.77,334.29 Z" fill="#2f5a24"/>
<path d="M405.60,323.76 L407.73,327.63 L403.47,327.63 Z" fill="#2f5a24"/>
<path d="M421.90,321.66 L432.00,305.87 L441.60,312.34" fill="none" stroke="#a0283f" stroke-width="0.9"/>
<path d="M421.90,323.19 L432.00,314.43 L441.60,309.30" fill="none" stroke="#a0283f" stroke-width="0.9"/>
<path d="M421.90,325.28 L432.00,316.53 L441.60,315.00" fill="none" stroke="#a0283f" stroke-width="0.9"/>
<path d="M421.90,327.37 L432.00,318.81 L441.60,315.00" fill="none" stroke="#a0283f" stroke-width="0.9"/>
<path d="M421.90,329.65 L432.00,323.19 L441.60,321.66" fill="none" stroke="#a0283f" stroke-width="0.9"/>
<path d="M421.90,330.60 L432.00,325.28 L441.60,312.34" fill="none" stroke="#a0283f" stroke-width="0.9"/>
<path d="M421.90,326.04 L432.00,316.53 L441.60,330.22" fill="none" stroke="#a0283f" stroke-width="0.9"/>
<path d="M421.90,328.89 L432.00,321.28 L441.60,317.48" fill="none" stroke="#a0283f" stroke-width="0.9"/>
<line x1="417.4" y1="326.704625" x2="426.4" y2="326.704625" stroke="#a0283f" stroke-width="0.9" />
<line x1="427.5" y1="317.66775" x2="436.5" y2="317.66775" stroke="#a0283f" stroke-width="0.9" />
<line x1="437.1" y1="315.00425" x2="446.1" y2="315.00425" stroke="#a0283f" stroke-width="0.9" />
<rect x="420.15" y="319.91" width="3.50" height="3.50" fill="#7a1428"/>
<rect x="430.25" y="304.12" width="3.50" height="3.50" fill="#7a1428"/>
<rect x="439.85" y="310.59" width="3.50" height="3.50" fill="#7a1428"/>
<rect x="420.15" y="321.44" width="3.50" height="3.50" fill="#7a1428"/>
<rect x="430.25" y="312.68" width="3.50" height="3.50" fill="#7a1428"/>
<rect x="439.85" y="307.55" width="3.50" height="3.50" fill="#7a1428"/>
<rect x="420.15" y="323.53" width="3.50" height="3.50" fill="#7a1428"/>
<rect x="430.25" y="314.78" width="3.50" height="3.50" fill="#7a1428"/>
<rect x="439.85" y="313.25" width="3.50" height="3.50" fill="#7a1428"/>
<rect x="420.15" y="325.62" width="3.50" height="3.50" fill="#7a1428"/>
<rect x="430.25" y="317.06" width="3.50" height="3.50" fill="#7a1428"/>
<rect x="439.85" y="313.25" width="3.50" height="3.50" fill="#7a1428"/>
<rect x="420.15" y="327.90" width="3.50" height="3.50" fill="#7a1428"/>
<rect x="430.25" y="321.44" width="3.50" height="3.50" fill="#7a1428"/>
<rect x="439.85" y="319.91" width="3.50" height="3.50" fill="#7a1428"/>
<rect x="420.15" y="328.85" width="3.50" height="3.50" fill="#7a1428"/>
<rect x="430.25" y="323.53" width="3.50" height="3.50" fill="#7a1428"/>
<rect x="439.85" y="310.59" width="3.50" height="3.50" fill="#7a1428"/>
<rect x="420.15" y="324.29" width="3.50" height="3.50" fill="#7a1428"/>
<rect x="430.25" y="314.78" width="3.50" height="3.50" fill="#7a1428"/>
<rect x="439.85" y="328.47" width="3.50" height="3.50" fill="#7a1428"/>
<rect x="420.15" y="327.14" width="3.50" height="3.50" fill="#7a1428"/>
<rect x="430.25" y="319.53" width="3.50" height="3.50" fill="#7a1428"/>
<rect x="439.85" y="315.73" width="3.50" height="3.50" fill="#7a1428"/>
<path d="M458.00,330.80 L467.40,321.85 L477.50,271.82" fill="none" stroke="#2e4a8a" stroke-width="0.9"/>
<path d="M458.00,319.76 L467.40,309.68 L477.50,319.00" fill="none" stroke="#2e4a8a" stroke-width="0.9"/>
<path d="M458.00,325.47 L467.40,312.72 L477.50,313.67" fill="none" stroke="#2e4a8a" stroke-width="0.9"/>
<path d="M458.00,328.89 L467.40,325.09 L477.50,311.77" fill="none" stroke="#2e4a8a" stroke-width="0.9"/>
<path d="M458.00,331.75 L467.40,327.94 L477.50,323.19" fill="none" stroke="#2e4a8a" stroke-width="0.9"/>
<path d="M458.00,332.70 L467.40,330.60 L477.50,325.09" fill="none" stroke="#2e4a8a" stroke-width="0.9"/>
<path d="M458.00,333.08 L467.40,331.75 L477.50,326.23" fill="none" stroke="#2e4a8a" stroke-width="0.9"/>
<path d="M458.00,333.65 L467.40,332.70 L477.50,328.89" fill="none" stroke="#2e4a8a" stroke-width="0.9"/>
<line x1="453.5" y1="331.270625" x2="462.5" y2="331.270625" stroke="#2e4a8a" stroke-width="0.9" />
<line x1="462.9" y1="326.51437500000003" x2="471.9" y2="326.51437500000003" stroke="#2e4a8a" stroke-width="0.9" />
<line x1="473.0" y1="321.09225000000004" x2="482.0" y2="321.09225000000004" stroke="#2e4a8a" stroke-width="0.9" />
<circle cx="458.00" cy="330.80" r="1.90" fill="#1b2550"/>
<circle cx="467.40" cy="321.85" r="1.90" fill="#1b2550"/>
<circle cx="477.50" cy="271.82" r="1.90" fill="#1b2550"/>
<circle cx="458.00" cy="319.76" r="1.90" fill="#1b2550"/>
<circle cx="467.40" cy="309.68" r="1.90" fill="#1b2550"/>
<circle cx="477.50" cy="319.00" r="1.90" fill="#1b2550"/>
<circle cx="458.00" cy="325.47" r="1.90" fill="#1b2550"/>
<circle cx="467.40" cy="312.72" r="1.90" fill="#1b2550"/>
<circle cx="477.50" cy="313.67" r="1.90" fill="#1b2550"/>
<circle cx="458.00" cy="328.89" r="1.90" fill="#1b2550"/>
<circle cx="467.40" cy="325.09" r="1.90" fill="#1b2550"/>
<circle cx="477.50" cy="311.77" r="1.90" fill="#1b2550"/>
<circle cx="458.00" cy="331.75" r="1.90" fill="#1b2550"/>
<circle cx="467.40" cy="327.94" r="1.90" fill="#1b2550"/>
<circle cx="477.50" cy="323.19" r="1.90" fill="#1b2550"/>
<circle cx="458.00" cy="332.70" r="1.90" fill="#1b2550"/>
<circle cx="467.40" cy="330.60" r="1.90" fill="#1b2550"/>
<circle cx="477.50" cy="325.09" r="1.90" fill="#1b2550"/>
<circle cx="458.00" cy="333.08" r="1.90" fill="#1b2550"/>
<circle cx="467.40" cy="331.75" r="1.90" fill="#1b2550"/>
<circle cx="477.50" cy="326.23" r="1.90" fill="#1b2550"/>
<circle cx="458.00" cy="333.65" r="1.90" fill="#1b2550"/>
<circle cx="467.40" cy="332.70" r="1.90" fill="#1b2550"/>
<circle cx="477.50" cy="328.89" r="1.90" fill="#1b2550"/>
<path d="M494.00,323.19 L503.40,326.99 L513.10,326.04" fill="none" stroke="#c4c4c4" stroke-width="0.7"/>
<path d="M494.00,326.04 L503.40,324.71 L513.10,328.89" fill="none" stroke="#c4c4c4" stroke-width="0.7"/>
<path d="M494.00,327.94 L503.40,329.84 L513.10,323.19" fill="none" stroke="#c4c4c4" stroke-width="0.7"/>
<path d="M494.00,329.84 L503.40,331.75 L513.10,330.80" fill="none" stroke="#c4c4c4" stroke-width="0.7"/>
<path d="M494.00,331.75 L503.40,333.08 L513.10,327.94" fill="none" stroke="#c4c4c4" stroke-width="0.7"/>
<path d="M494.00,333.08 L503.40,330.80 L513.10,331.75" fill="none" stroke="#c4c4c4" stroke-width="0.7"/>
<line x1="489.5" y1="328.89250000000004" x2="498.5" y2="328.89250000000004" stroke="#444" stroke-width="0.9" />
<line x1="498.9" y1="330.31937500000004" x2="507.9" y2="330.31937500000004" stroke="#444" stroke-width="0.9" />
<line x1="508.6" y1="328.416875" x2="517.6" y2="328.416875" stroke="#444" stroke-width="0.9" />
<path d="M491.91,321.67 L496.09,321.67 L494.00,325.35 Z" fill="#fff" stroke="#444" stroke-width="0.9"/>
<path d="M501.31,325.48 L505.49,325.48 L503.40,329.15 Z" fill="#fff" stroke="#444" stroke-width="0.9"/>
<path d="M511.01,324.53 L515.19,324.53 L513.10,328.20 Z" fill="#fff" stroke="#444" stroke-width="0.9"/>
<path d="M491.91,324.53 L496.09,324.53 L494.00,328.20 Z" fill="#fff" stroke="#444" stroke-width="0.9"/>
<path d="M501.31,323.19 L505.49,323.19 L503.40,326.87 Z" fill="#fff" stroke="#444" stroke-width="0.9"/>
<path d="M511.01,327.38 L515.19,327.38 L513.10,331.05 Z" fill="#fff" stroke="#444" stroke-width="0.9"/>
<path d="M491.91,326.43 L496.09,326.43 L494.00,330.10 Z" fill="#fff" stroke="#444" stroke-width="0.9"/>
<path d="M501.31,328.33 L505.49,328.33 L503.40,332.00 Z" fill="#fff" stroke="#444" stroke-width="0.9"/>
<path d="M511.01,321.67 L515.19,321.67 L513.10,325.35 Z" fill="#fff" stroke="#444" stroke-width="0.9"/>
<path d="M491.91,328.33 L496.09,328.33 L494.00,332.00 Z" fill="#fff" stroke="#444" stroke-width="0.9"/>
<path d="M501.31,330.23 L505.49,330.23 L503.40,333.91 Z" fill="#fff" stroke="#444" stroke-width="0.9"/>
<path d="M511.01,329.28 L515.19,329.28 L513.10,332.96 Z" fill="#fff" stroke="#444" stroke-width="0.9"/>
<path d="M491.91,330.23 L496.09,330.23 L494.00,333.91 Z" fill="#fff" stroke="#444" stroke-width="0.9"/>
<path d="M501.31,331.57 L505.49,331.57 L503.40,335.24 Z" fill="#fff" stroke="#444" stroke-width="0.9"/>
<path d="M511.01,326.43 L515.19,326.43 L513.10,330.10 Z" fill="#fff" stroke="#444" stroke-width="0.9"/>
<path d="M491.91,331.57 L496.09,331.57 L494.00,335.24 Z" fill="#fff" stroke="#444" stroke-width="0.9"/>
<path d="M501.31,329.28 L505.49,329.28 L503.40,332.96 Z" fill="#fff" stroke="#444" stroke-width="0.9"/>
<path d="M511.01,330.23 L515.19,330.23 L513.10,333.91 Z" fill="#fff" stroke="#444" stroke-width="0.9"/>
<text x="423.2" y="229.5" font-size="9.0" textLength="54.6" lengthAdjust="spacingAndGlyphs" >CD8<tspan baseline-shift="3.6" font-size="70%">+</tspan> T<tspan font-size="6.8" baseline-shift="-2.2">SCM</tspan></text>
<text transform="translate(339.6,297.0) rotate(-90)" font-size="9.6" font-weight="bold" fill="#1a1a1a" textLength="67.0" lengthAdjust="spacingAndGlyphs" text-anchor="middle" stroke="#1a1a1a" stroke-width="0.2">Absolute cell number</text>
<text transform="translate(351.3,297.0) rotate(-90)" font-size="9.6" font-weight="bold" fill="#1a1a1a" textLength="43.0" lengthAdjust="spacingAndGlyphs" text-anchor="middle" stroke="#1a1a1a" stroke-width="0.2">(cells / mm<tspan font-size="6" baseline-shift="3.2">3</tspan>)</text>
<path d="M394.8,246.2 L394.8,244.2 L466.9,244.2 L466.9,246.2" fill="none" stroke="#555" stroke-width="0.8"/>
<text x="430.85" y="245.2" font-size="6.4" fill="#333" text-anchor="middle" stroke="#333" stroke-width="0.12">*</text>
<path d="M466.9,246.2 L466.9,244.2 L503.3,244.2 L503.3,246.2" fill="none" stroke="#555" stroke-width="0.8"/>
<text x="485.1" y="245.2" font-size="6.4" fill="#333" text-anchor="middle" stroke="#333" stroke-width="0.12">*</text>
<path d="M431.0,255.2 L431.0,253.2 L503.4,253.2 L503.4,255.2" fill="none" stroke="#555" stroke-width="0.8"/>
<text x="467.2" y="254.2" font-size="6.4" fill="#333" text-anchor="middle" stroke="#333" stroke-width="0.12">**</text>
<line x1="503.4" y1="244.2" x2="503.4" y2="260.2" stroke="#555" stroke-width="1.0" />
<line x1="492.3" y1="260.2" x2="511.5" y2="260.2" stroke="#555" stroke-width="0.9" />
<path d="M385.4,262.40000000000003 L385.4,260.8 L405.6,260.8 L405.6,262.40000000000003" fill="none" stroke="#555" stroke-width="0.8"/>
<text x="395.5" y="261.8" font-size="6.4" fill="#333" text-anchor="middle" stroke="#333" stroke-width="0.12">*</text>
<path d="M421.7,262.40000000000003 L421.7,260.8 L441.3,260.8 L441.3,262.40000000000003" fill="none" stroke="#555" stroke-width="0.8"/>
<text x="431.5" y="261.8" font-size="6.4" fill="#333" text-anchor="middle" stroke="#333" stroke-width="0.12">*</text>
<path d="M421.4,271.1 L421.4,269.5 L431.0,269.5 L431.0,271.1" fill="none" stroke="#555" stroke-width="0.8"/>
<text x="426.2" y="270.5" font-size="6.4" fill="#333" text-anchor="middle" stroke="#333" stroke-width="0.12">**</text>
<path d="M457.2,262.40000000000003 L457.2,260.8 L477.2,260.8 L477.2,262.40000000000003" fill="none" stroke="#555" stroke-width="0.8"/>
<text x="467.2" y="261.8" font-size="6.4" fill="#333" text-anchor="middle" stroke="#333" stroke-width="0.12">**</text>
<path d="M457.2,271.20000000000005 L457.2,269.6 L467.4,269.6 L467.4,271.20000000000005" fill="none" stroke="#555" stroke-width="0.8"/>
<text x="462.29999999999995" y="270.6" font-size="6.4" fill="#333" text-anchor="middle" stroke="#333" stroke-width="0.12">**</text>
<line x1="378.8" y1="460.0" x2="378.8" y2="380.1" stroke="#222" stroke-width="1.3" />
<line x1="378.2" y1="459.4" x2="520" y2="459.4" stroke="#222" stroke-width="1.3" />
<line x1="376.2" y1="459.4" x2="378.8" y2="459.4" stroke="#222" stroke-width="1.0" />
<text x="372.3" y="462.29999999999995" font-size="8.8" text-anchor="end" textLength="4.75" lengthAdjust="spacingAndGlyphs" stroke="#222" stroke-width="0.15">0</text>
<line x1="376.2" y1="444.12" x2="378.8" y2="444.12" stroke="#222" stroke-width="1.0" />
<text x="372.3" y="447.02" font-size="8.8" text-anchor="end" textLength="9.5" lengthAdjust="spacingAndGlyphs" stroke="#222" stroke-width="0.15">20</text>
<line x1="376.2" y1="428.84" x2="378.8" y2="428.84" stroke="#222" stroke-width="1.0" />
<text x="372.3" y="431.73999999999995" font-size="8.8" text-anchor="end" textLength="9.5" lengthAdjust="spacingAndGlyphs" stroke="#222" stroke-width="0.15">40</text>
<line x1="376.2" y1="413.55999999999995" x2="378.8" y2="413.55999999999995" stroke="#222" stroke-width="1.0" />
<text x="372.3" y="416.4599999999999" font-size="8.8" text-anchor="end" textLength="9.5" lengthAdjust="spacingAndGlyphs" stroke="#222" stroke-width="0.15">60</text>
<line x1="376.2" y1="398.28" x2="378.8" y2="398.28" stroke="#222" stroke-width="1.0" />
<text x="372.3" y="401.17999999999995" font-size="8.8" text-anchor="end" textLength="9.5" lengthAdjust="spacingAndGlyphs" stroke="#222" stroke-width="0.15">80</text>
<line x1="376.2" y1="383.0" x2="378.8" y2="383.0" stroke="#222" stroke-width="1.0" />
<text x="372.3" y="385.9" font-size="8.8" text-anchor="end" textLength="14.25" lengthAdjust="spacingAndGlyphs" stroke="#222" stroke-width="0.15">100</text>
<line x1="413.6" y1="382.1" x2="413.6" y2="458.4" stroke="#444" stroke-width="0.9" stroke-dasharray="1 1"/>
<line x1="449.5" y1="382.1" x2="449.5" y2="458.4" stroke="#444" stroke-width="0.9" stroke-dasharray="1 1"/>
<line x1="485.5" y1="382.1" x2="485.5" y2="458.4" stroke="#444" stroke-width="0.9" stroke-dasharray="1 1"/>
<line x1="385.8" y1="459.4" x2="385.8" y2="461.79999999999995" stroke="#222" stroke-width="1.0" />
<line x1="395.9" y1="459.4" x2="395.9" y2="461.79999999999995" stroke="#222" stroke-width="1.0" />
<line x1="405.6" y1="459.4" x2="405.6" y2="461.79999999999995" stroke="#222" stroke-width="1.0" />
<text x="385.8" y="472.5" font-size="8.2" text-anchor="middle" textLength="4.5" lengthAdjust="spacingAndGlyphs" stroke="#222" stroke-width="0.15">0</text>
<text x="395.9" y="472.5" font-size="8.2" text-anchor="middle" textLength="8.4" lengthAdjust="spacingAndGlyphs" stroke="#222" stroke-width="0.15">21</text>
<text x="406.20000000000005" y="472.5" font-size="8.2" text-anchor="middle" textLength="8.6" lengthAdjust="spacingAndGlyphs" stroke="#222" stroke-width="0.15">56</text>
<line x1="421.9" y1="459.4" x2="421.9" y2="461.79999999999995" stroke="#222" stroke-width="1.0" />
<line x1="432.0" y1="459.4" x2="432.0" y2="461.79999999999995" stroke="#222" stroke-width="1.0" />
<line x1="441.6" y1="459.4" x2="441.6" y2="461.79999999999995" stroke="#222" stroke-width="1.0" />
<text x="421.9" y="472.5" font-size="8.2" text-anchor="middle" textLength="4.5" lengthAdjust="spacingAndGlyphs" stroke="#222" stroke-width="0.15">0</text>
<text x="432.0" y="472.5" font-size="8.2" text-anchor="middle" textLength="8.4" lengthAdjust="spacingAndGlyphs" stroke="#222" stroke-width="0.15">21</text>
<text x="442.20000000000005" y="472.5" font-size="8.2" text-anchor="middle" textLength="8.6" lengthAdjust="spacingAndGlyphs" stroke="#222" stroke-width="0.15">56</text>
<line x1="458.0" y1="459.4" x2="458.0" y2="461.79999999999995" stroke="#222" stroke-width="1.0" />
<line x1="467.4" y1="459.4" x2="467.4" y2="461.79999999999995" stroke="#222" stroke-width="1.0" />
<line x1="477.5" y1="459.4" x2="477.5" y2="461.79999999999995" stroke="#222" stroke-width="1.0" />
<text x="458.0" y="472.5" font-size="8.2" text-anchor="middle" textLength="4.5" lengthAdjust="spacingAndGlyphs" stroke="#222" stroke-width="0.15">0</text>
<text x="467.4" y="472.5" font-size="8.2" text-anchor="middle" textLength="8.4" lengthAdjust="spacingAndGlyphs" stroke="#222" stroke-width="0.15">21</text>
<text x="478.1" y="472.5" font-size="8.2" text-anchor="middle" textLength="8.6" lengthAdjust="spacingAndGlyphs" stroke="#222" stroke-width="0.15">56</text>
<line x1="494.0" y1="459.4" x2="494.0" y2="461.79999999999995" stroke="#222" stroke-width="1.0" />
<line x1="503.4" y1="459.4" x2="503.4" y2="461.79999999999995" stroke="#222" stroke-width="1.0" />
<line x1="513.1" y1="459.4" x2="513.1" y2="461.79999999999995" stroke="#222" stroke-width="1.0" />
<text x="494.0" y="472.5" font-size="8.2" text-anchor="middle" textLength="4.5" lengthAdjust="spacingAndGlyphs" stroke="#222" stroke-width="0.15">0</text>
<text x="503.4" y="472.5" font-size="8.2" text-anchor="middle" textLength="8.4" lengthAdjust="spacingAndGlyphs" stroke="#222" stroke-width="0.15">21</text>
<text x="513.7" y="472.5" font-size="8.2" text-anchor="middle" textLength="8.6" lengthAdjust="spacingAndGlyphs" stroke="#222" stroke-width="0.15">56</text>
<path d="M385.80,435.72 L395.90,420.44 L405.60,436.48" fill="none" stroke="#7ab55a" stroke-width="0.9"/>
<path d="M385.80,440.30 L395.90,432.66 L405.60,425.02" fill="none" stroke="#7ab55a" stroke-width="0.9"/>
<path d="M385.80,443.36 L395.90,441.06 L405.60,432.66" fill="none" stroke="#7ab55a" stroke-width="0.9"/>
<path d="M385.80,446.41 L395.90,448.70 L405.60,444.88" fill="none" stroke="#7ab55a" stroke-width="0.9"/>
<path d="M385.80,450.23 L395.90,453.29 L405.60,449.47" fill="none" stroke="#7ab55a" stroke-width="0.9"/>
<path d="M385.80,453.29 L395.90,453.29 L405.60,454.05" fill="none" stroke="#7ab55a" stroke-width="0.9"/>
<path d="M385.80,456.34 L395.90,453.29 L405.60,454.05" fill="none" stroke="#7ab55a" stroke-width="0.9"/>
<path d="M385.80,443.36 L395.90,448.70 L405.60,449.47" fill="none" stroke="#7ab55a" stroke-width="0.9"/>
<line x1="381.3" y1="444.88399999999996" x2="390.3" y2="444.88399999999996" stroke="#6aa84a" stroke-width="0.9" />
<line x1="391.4" y1="448.70399999999995" x2="400.4" y2="448.70399999999995" stroke="#6aa84a" stroke-width="0.9" />
<line x1="401.1" y1="447.176" x2="410.1" y2="447.176" stroke="#6aa84a" stroke-width="0.9" />
<path d="M385.80,433.44 L387.93,437.31 L383.67,437.31 Z" fill="#2f5a24"/>
<path d="M395.90,418.16 L398.03,422.03 L393.77,422.03 Z" fill="#2f5a24"/>
<path d="M405.60,434.20 L407.73,438.08 L403.47,438.08 Z" fill="#2f5a24"/>
<path d="M385.80,438.02 L387.93,441.90 L383.67,441.90 Z" fill="#2f5a24"/>
<path d="M395.90,430.38 L398.03,434.26 L393.77,434.26 Z" fill="#2f5a24"/>
<path d="M405.60,422.74 L407.73,426.62 L403.47,426.62 Z" fill="#2f5a24"/>
<path d="M385.80,441.08 L387.93,444.95 L383.67,444.95 Z" fill="#2f5a24"/>
<path d="M395.90,438.78 L398.03,442.66 L393.77,442.66 Z" fill="#2f5a24"/>
<path d="M405.60,430.38 L407.73,434.26 L403.47,434.26 Z" fill="#2f5a24"/>
<path d="M385.80,444.13 L387.93,448.01 L383.67,448.01 Z" fill="#2f5a24"/>
<path d="M395.90,446.42 L398.03,450.30 L393.77,450.30 Z" fill="#2f5a24"/>
<path d="M405.60,442.60 L407.73,446.48 L403.47,446.48 Z" fill="#2f5a24"/>
<path d="M385.80,447.95 L387.93,451.83 L383.67,451.83 Z" fill="#2f5a24"/>
<path d="M395.90,451.01 L398.03,454.88 L393.77,454.88 Z" fill="#2f5a24"/>
<path d="M405.60,447.19 L407.73,451.06 L403.47,451.06 Z" fill="#2f5a24"/>
<path d="M385.80,451.01 L387.93,454.88 L383.67,454.88 Z" fill="#2f5a24"/>
<path d="M395.90,451.01 L398.03,454.88 L393.77,454.88 Z" fill="#2f5a24"/>
<path d="M405.60,451.77 L407.73,455.65 L403.47,455.65 Z" fill="#2f5a24"/>
<path d="M385.80,454.06 L387.93,457.94 L383.67,457.94 Z" fill="#2f5a24"/>
<path d="M395.90,451.01 L398.03,454.88 L393.77,454.88 Z" fill="#2f5a24"/>
<path d="M405.60,451.77 L407.73,455.65 L403.47,455.65 Z" fill="#2f5a24"/>
<path d="M385.80,441.08 L387.93,444.95 L383.67,444.95 Z" fill="#2f5a24"/>
<path d="M395.90,446.42 L398.03,450.30 L393.77,450.30 Z" fill="#2f5a24"/>
<path d="M405.60,447.19 L407.73,451.06 L403.47,451.06 Z" fill="#2f5a24"/>
<path d="M421.90,431.13 L432.00,418.14 L441.60,431.90" fill="none" stroke="#a0283f" stroke-width="0.9"/>
<path d="M421.90,436.48 L432.00,431.90 L441.60,398.28" fill="none" stroke="#a0283f" stroke-width="0.9"/>
<path d="M421.90,439.54 L432.00,434.19 L441.60,413.56" fill="none" stroke="#a0283f" stroke-width="0.9"/>
<path d="M421.90,442.59 L432.00,436.48 L441.60,422.73" fill="none" stroke="#a0283f" stroke-width="0.9"/>
<path d="M421.90,445.65 L432.00,438.77 L441.60,428.08" fill="none" stroke="#a0283f" stroke-width="0.9"/>
<path d="M421.90,448.70 L432.00,441.06 L441.60,444.12" fill="none" stroke="#a0283f" stroke-width="0.9"/>
<path d="M421.90,451.76 L432.00,446.41 L441.60,446.41" fill="none" stroke="#a0283f" stroke-width="0.9"/>
<path d="M421.90,453.29 L432.00,450.23 L441.60,431.90" fill="none" stroke="#a0283f" stroke-width="0.9"/>
<line x1="417.4" y1="444.12" x2="426.4" y2="444.12" stroke="#a0283f" stroke-width="0.9" />
<line x1="427.5" y1="437.626" x2="436.5" y2="437.626" stroke="#a0283f" stroke-width="0.9" />
<line x1="437.1" y1="429.986" x2="446.1" y2="429.986" stroke="#a0283f" stroke-width="0.9" />
<rect x="420.15" y="429.38" width="3.50" height="3.50" fill="#7a1428"/>
<rect x="430.25" y="416.39" width="3.50" height="3.50" fill="#7a1428"/>
<rect x="439.85" y="430.15" width="3.50" height="3.50" fill="#7a1428"/>
<rect x="420.15" y="434.73" width="3.50" height="3.50" fill="#7a1428"/>
<rect x="430.25" y="430.15" width="3.50" height="3.50" fill="#7a1428"/>
<rect x="439.85" y="396.53" width="3.50" height="3.50" fill="#7a1428"/>
<rect x="420.15" y="437.79" width="3.50" height="3.50" fill="#7a1428"/>
<rect x="430.25" y="432.44" width="3.50" height="3.50" fill="#7a1428"/>
<rect x="439.85" y="411.81" width="3.50" height="3.50" fill="#7a1428"/>
<rect x="420.15" y="440.84" width="3.50" height="3.50" fill="#7a1428"/>
<rect x="430.25" y="434.73" width="3.50" height="3.50" fill="#7a1428"/>
<rect x="439.85" y="420.98" width="3.50" height="3.50" fill="#7a1428"/>
<rect x="420.15" y="443.90" width="3.50" height="3.50" fill="#7a1428"/>
<rect x="430.25" y="437.02" width="3.50" height="3.50" fill="#7a1428"/>
<rect x="439.85" y="426.33" width="3.50" height="3.50" fill="#7a1428"/>
<rect x="420.15" y="446.95" width="3.50" height="3.50" fill="#7a1428"/>
<rect x="430.25" y="439.31" width="3.50" height="3.50" fill="#7a1428"/>
<rect x="439.85" y="442.37" width="3.50" height="3.50" fill="#7a1428"/>
<rect x="420.15" y="450.01" width="3.50" height="3.50" fill="#7a1428"/>
<rect x="430.25" y="444.66" width="3.50" height="3.50" fill="#7a1428"/>
<rect x="439.85" y="444.66" width="3.50" height="3.50" fill="#7a1428"/>
<rect x="420.15" y="451.54" width="3.50" height="3.50" fill="#7a1428"/>
<rect x="430.25" y="448.48" width="3.50" height="3.50" fill="#7a1428"/>
<rect x="439.85" y="430.15" width="3.50" height="3.50" fill="#7a1428"/>
<path d="M458.00,443.36 L467.40,437.24 L477.50,422.73" fill="none" stroke="#2e4a8a" stroke-width="0.9"/>
<path d="M458.00,445.65 L467.40,440.30 L477.50,427.31" fill="none" stroke="#2e4a8a" stroke-width="0.9"/>
<path d="M458.00,447.94 L467.40,442.59 L477.50,431.90" fill="none" stroke="#2e4a8a" stroke-width="0.9"/>
<path d="M458.00,449.70 L467.40,444.88 L477.50,440.30" fill="none" stroke="#2e4a8a" stroke-width="0.9"/>
<path d="M458.00,451.76 L467.40,449.09 L477.50,442.59" fill="none" stroke="#2e4a8a" stroke-width="0.9"/>
<path d="M458.00,454.82 L467.40,442.59 L477.50,445.65" fill="none" stroke="#2e4a8a" stroke-width="0.9"/>
<path d="M458.00,453.29 L467.40,440.30 L477.50,451.76" fill="none" stroke="#2e4a8a" stroke-width="0.9"/>
<path d="M458.00,447.94 L467.40,444.88 L477.50,422.73" fill="none" stroke="#2e4a8a" stroke-width="0.9"/>
<line x1="453.5" y1="448.8186" x2="462.5" y2="448.8186" stroke="#2e4a8a" stroke-width="0.9" />
<line x1="462.9" y1="442.592" x2="471.9" y2="442.592" stroke="#2e4a8a" stroke-width="0.9" />
<line x1="473.0" y1="436.09799999999996" x2="482.0" y2="436.09799999999996" stroke="#2e4a8a" stroke-width="0.9" />
<circle cx="458.00" cy="443.36" r="1.90" fill="#1b2550"/>
<circle cx="467.40" cy="437.24" r="1.90" fill="#1b2550"/>
<circle cx="477.50" cy="422.73" r="1.90" fill="#1b2550"/>
<circle cx="458.00" cy="445.65" r="1.90" fill="#1b2550"/>
<circle cx="467.40" cy="440.30" r="1.90" fill="#1b2550"/>
<circle cx="477.50" cy="427.31" r="1.90" fill="#1b2550"/>
<circle cx="458.00" cy="447.94" r="1.90" fill="#1b2550"/>
<circle cx="467.40" cy="442.59" r="1.90" fill="#1b2550"/>
<circle cx="477.50" cy="431.90" r="1.90" fill="#1b2550"/>
<circle cx="458.00" cy="449.70" r="1.90" fill="#1b2550"/>
<circle cx="467.40" cy="444.88" r="1.90" fill="#1b2550"/>
<circle cx="477.50" cy="440.30" r="1.90" fill="#1b2550"/>
<circle cx="458.00" cy="451.76" r="1.90" fill="#1b2550"/>
<circle cx="467.40" cy="449.09" r="1.90" fill="#1b2550"/>
<circle cx="477.50" cy="442.59" r="1.90" fill="#1b2550"/>
<circle cx="458.00" cy="454.82" r="1.90" fill="#1b2550"/>
<circle cx="467.40" cy="442.59" r="1.90" fill="#1b2550"/>
<circle cx="477.50" cy="445.65" r="1.90" fill="#1b2550"/>
<circle cx="458.00" cy="453.29" r="1.90" fill="#1b2550"/>
<circle cx="467.40" cy="440.30" r="1.90" fill="#1b2550"/>
<circle cx="477.50" cy="451.76" r="1.90" fill="#1b2550"/>
<circle cx="458.00" cy="447.94" r="1.90" fill="#1b2550"/>
<circle cx="467.40" cy="444.88" r="1.90" fill="#1b2550"/>
<circle cx="477.50" cy="422.73" r="1.90" fill="#1b2550"/>
<path d="M494.00,441.06 L503.40,436.48 L513.10,448.70" fill="none" stroke="#c4c4c4" stroke-width="0.7"/>
<path d="M494.00,448.40 L503.40,445.65 L513.10,434.19" fill="none" stroke="#c4c4c4" stroke-width="0.7"/>
<path d="M494.00,452.52 L503.40,447.18 L513.10,439.54" fill="none" stroke="#c4c4c4" stroke-width="0.7"/>
<path d="M494.00,448.70 L503.40,449.47 L513.10,449.47" fill="none" stroke="#c4c4c4" stroke-width="0.7"/>
<path d="M494.00,452.52 L503.40,448.70 L513.10,444.12" fill="none" stroke="#c4c4c4" stroke-width="0.7"/>
<line x1="489.5" y1="448.70399999999995" x2="498.5" y2="448.70399999999995" stroke="#444" stroke-width="0.9" />
<line x1="498.9" y1="447.176" x2="507.9" y2="447.176" stroke="#444" stroke-width="0.9" />
<line x1="508.6" y1="444.12" x2="517.6" y2="444.12" stroke="#444" stroke-width="0.9" />
<path d="M491.91,439.55 L496.09,439.55 L494.00,443.22 Z" fill="#fff" stroke="#444" stroke-width="0.9"/>
<path d="M501.31,434.97 L505.49,434.97 L503.40,438.64 Z" fill="#fff" stroke="#444" stroke-width="0.9"/>
<path d="M511.01,447.19 L515.19,447.19 L513.10,450.86 Z" fill="#fff" stroke="#444" stroke-width="0.9"/>
<path d="M491.91,446.89 L496.09,446.89 L494.00,450.56 Z" fill="#fff" stroke="#444" stroke-width="0.9"/>
<path d="M501.31,444.14 L505.49,444.14 L503.40,447.81 Z" fill="#fff" stroke="#444" stroke-width="0.9"/>
<path d="M511.01,432.68 L515.19,432.68 L513.10,436.35 Z" fill="#fff" stroke="#444" stroke-width="0.9"/>
<path d="M491.91,451.01 L496.09,451.01 L494.00,454.68 Z" fill="#fff" stroke="#444" stroke-width="0.9"/>
<path d="M501.31,445.66 L505.49,445.66 L503.40,449.34 Z" fill="#fff" stroke="#444" stroke-width="0.9"/>
<path d="M511.01,438.02 L515.19,438.02 L513.10,441.70 Z" fill="#fff" stroke="#444" stroke-width="0.9"/>
<path d="M491.91,447.19 L496.09,447.19 L494.00,450.86 Z" fill="#fff" stroke="#444" stroke-width="0.9"/>
<path d="M501.31,447.96 L505.49,447.96 L503.40,451.63 Z" fill="#fff" stroke="#444" stroke-width="0.9"/>
<path d="M511.01,447.96 L515.19,447.96 L513.10,451.63 Z" fill="#fff" stroke="#444" stroke-width="0.9"/>
<path d="M491.91,451.01 L496.09,451.01 L494.00,454.68 Z" fill="#fff" stroke="#444" stroke-width="0.9"/>
<path d="M501.31,447.19 L505.49,447.19 L503.40,450.86 Z" fill="#fff" stroke="#444" stroke-width="0.9"/>
<path d="M511.01,442.61 L515.19,442.61 L513.10,446.28 Z" fill="#fff" stroke="#444" stroke-width="0.9"/>
<text x="423.2" y="364.5" font-size="9.0" textLength="54.6" lengthAdjust="spacingAndGlyphs" >CD4<tspan baseline-shift="3.6" font-size="70%">+</tspan> T<tspan font-size="6.8" baseline-shift="-2.2">SCM</tspan></text>
<text transform="translate(339.6,420.9) rotate(-90)" font-size="9.6" font-weight="bold" fill="#1a1a1a" textLength="67.6" lengthAdjust="spacingAndGlyphs" text-anchor="middle" stroke="#1a1a1a" stroke-width="0.2">Absolute cell number</text>
<text transform="translate(351.3,421.1) rotate(-90)" font-size="9.6" font-weight="bold" fill="#1a1a1a" textLength="42.9" lengthAdjust="spacingAndGlyphs" text-anchor="middle" stroke="#1a1a1a" stroke-width="0.2">(cells / mm<tspan font-size="6" baseline-shift="3.2">3</tspan>)</text>
<path d="M466.8,380.4 L466.8,378.4 L502.5,378.4 L502.5,380.4" fill="none" stroke="#555" stroke-width="0.8"/>
<text x="484.65" y="379.4" font-size="6.4" fill="#333" text-anchor="middle" stroke="#333" stroke-width="0.12">*</text>
<line x1="502.5" y1="378.4" x2="502.5" y2="386.2" stroke="#555" stroke-width="1.0" />
<line x1="493.6" y1="386.2" x2="512.8" y2="386.2" stroke="#555" stroke-width="0.9" />
<path d="M421.2,387.8 L421.2,386.2 L441.6,386.2 L441.6,387.8" fill="none" stroke="#555" stroke-width="0.8"/>
<text x="431.4" y="387.2" font-size="6.4" fill="#333" text-anchor="middle" stroke="#333" stroke-width="0.12">**</text>
<path d="M421.2,394.70000000000005 L421.2,393.1 L431.5,393.1 L431.5,394.70000000000005" fill="none" stroke="#555" stroke-width="0.8"/>
<text x="426.35" y="394.1" font-size="6.4" fill="#333" text-anchor="middle" stroke="#333" stroke-width="0.12">*</text>
<path d="M457.1,388.1 L457.1,386.5 L477.4,386.5 L477.4,388.1" fill="none" stroke="#555" stroke-width="0.8"/>
<text x="467.25" y="387.5" font-size="6.4" fill="#333" text-anchor="middle" stroke="#333" stroke-width="0.12">*</text>
<path d="M457.1,395.8 L457.1,394.2 L467.4,394.2 L467.4,395.8" fill="none" stroke="#555" stroke-width="0.8"/>
<text x="462.25" y="395.2" font-size="6.4" fill="#333" text-anchor="middle" stroke="#333" stroke-width="0.12">*</text>
<line x1="379.2" y1="480.6" x2="389.2" y2="480.6" stroke="#7ab55a" stroke-width="1.0" />
<path d="M383.90,478.43 L385.92,482.12 L381.88,482.12 Z" fill="#2f5a24"/>
<text x="392.1" y="483.5" font-size="7.8" fill="#2a2a2a" textLength="94.2" lengthAdjust="spacingAndGlyphs" >Cohort 1 (20 &#181;g/kg, s.c., n = 8)</text>
<line x1="379.2" y1="491.9" x2="389.2" y2="491.9" stroke="#a0283f" stroke-width="1.0" />
<rect x="382.24" y="490.24" width="3.32" height="3.32" fill="#7a1428"/>
<text x="392.1" y="494.79999999999995" font-size="7.8" fill="#2a2a2a" textLength="94.9" lengthAdjust="spacingAndGlyphs" >Cohort 2 (60 &#181;g/kg, s.c., n = 8)</text>
<line x1="379.2" y1="503.1" x2="389.2" y2="503.1" stroke="#2e4a8a" stroke-width="1.0" />
<circle cx="383.90" cy="503.10" r="1.80" fill="#1b2550"/>
<text x="392.1" y="506.0" font-size="7.8" fill="#2a2a2a" textLength="94.2" lengthAdjust="spacingAndGlyphs" >Cohort 3 (60 &#181;g/kg, i.m., n = 8)</text>
<line x1="379.2" y1="514.2" x2="389.2" y2="514.2" stroke="#999" stroke-width="1.0" />
<path d="M381.92,512.76 L385.88,512.76 L383.90,516.25 Z" fill="#fff" stroke="#444" stroke-width="0.9"/>
<text x="392.1" y="517.1" font-size="7.8" fill="#2a2a2a" textLength="25.6" lengthAdjust="spacingAndGlyphs" >Placebo</text>
</svg>
</body></html>
